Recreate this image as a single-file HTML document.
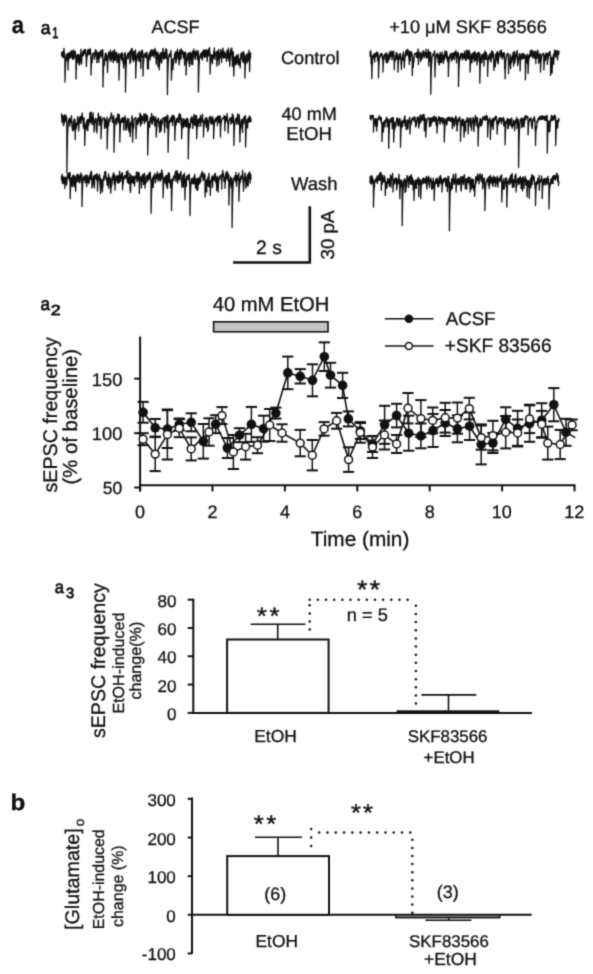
<!DOCTYPE html>
<html><head><meta charset="utf-8"><style>
html,body{margin:0;padding:0;background:#fff;}
svg{display:block;}
text{font-family:"Liberation Sans", sans-serif;text-rendering:geometricPrecision;}
</style></head><body>
<svg width="593" height="974" viewBox="0 0 593 974">
<defs><filter id="soft" x="0" y="0" width="593" height="974" filterUnits="userSpaceOnUse" color-interpolation-filters="sRGB"><feConvolveMatrix order="3" kernelMatrix="0.0169 0.1300 0.0169 0.1300 0.4124 0.1300 0.0169 0.1300 0.0169" divisor="1" preserveAlpha="false" edgeMode="none"/></filter></defs>
<rect width="593" height="974" fill="#fff"/>
<g filter="url(#soft)">
<polyline points="61.5,55.1 61.6,55.9 61.7,53.0 61.8,52.5 61.9,53.6 62.0,54.6 62.1,53.5 62.2,54.0 62.3,55.2 62.4,54.3 62.5,54.4 62.6,53.1 62.7,52.3 62.8,51.3 62.9,57.3 63.0,57.3 63.1,56.6 63.2,54.1 63.3,53.1 63.4,53.3 63.5,53.7 63.6,55.6 63.7,57.8 63.8,53.7 63.9,48.5 64.0,48.4 64.1,50.4 64.2,52.7 64.3,53.4 64.4,57.4 64.5,56.3 64.6,53.6 64.7,53.8 64.8,57.9 64.9,58.8 65.0,82.0 65.1,77.5 65.2,73.7 65.3,70.5 65.4,67.8 65.5,65.5 65.6,63.5 65.7,61.9 65.8,60.5 65.9,59.3 66.0,58.3 66.1,57.5 66.2,56.7 66.3,56.1 66.4,56.4 66.5,55.2 66.6,54.8 66.7,58.8 66.8,60.0 66.9,57.3 67.0,57.8 67.1,56.9 67.2,55.9 67.3,53.5 67.4,53.6 67.5,55.3 67.6,54.3 67.7,53.1 67.8,55.7 67.9,63.5 68.0,62.1 68.1,70.0 68.2,64.7 68.3,60.9 68.4,60.1 68.5,61.1 68.6,57.4 68.7,55.7 68.8,56.5 68.9,58.4 69.0,56.6 69.1,53.2 69.2,57.0 69.3,56.4 69.4,58.2 69.5,58.7 69.6,56.1 69.7,52.5 69.8,53.1 69.9,56.6 70.0,57.0 70.1,54.7 70.2,54.5 70.3,56.2 70.4,57.5 70.5,57.2 70.6,55.9 70.7,53.8 70.8,54.9 70.9,52.5 71.0,51.3 71.1,50.8 71.2,51.8 71.3,51.8 71.4,51.6 71.5,54.0 71.6,54.1 71.7,55.6 71.8,56.6 71.9,57.7 72.0,54.8 72.1,50.7 72.2,52.0 72.3,54.5 72.4,54.8 72.5,58.4 72.6,57.9 72.7,59.3 72.8,59.1 72.9,58.5 73.0,55.9 73.1,55.7 73.2,54.6 73.3,55.4 73.4,57.6 73.5,57.0 73.6,51.4 73.7,49.8 73.8,56.0 73.9,59.2 74.0,54.3 74.1,51.7 74.2,52.6 74.3,52.8 74.4,57.1 74.5,57.4 74.6,56.9 74.7,56.6 74.8,55.3 74.9,54.1 75.0,52.7 75.1,51.7 75.2,52.3 75.3,51.5 75.4,54.6 75.5,55.3 75.6,57.2 75.7,57.4 75.8,55.5 75.9,54.8 76.0,79.0 76.1,75.0 76.2,71.6 76.3,68.7 76.4,66.2 76.5,64.2 76.6,62.4 76.7,61.0 76.8,59.7 76.9,60.1 77.0,59.0 77.1,57.2 77.2,56.3 77.3,55.8 77.4,55.3 77.5,55.8 77.6,54.6 77.7,54.3 77.8,59.3 77.9,60.6 78.0,62.6 78.1,61.9 78.2,58.4 78.3,54.5 78.4,62.8 78.5,62.2 78.6,61.2 78.7,60.5 78.8,57.5 78.9,56.9 79.0,56.4 79.1,55.8 79.2,61.2 79.3,63.3 79.4,65.2 79.5,63.1 79.6,58.6 79.7,60.9 79.8,63.4 79.9,61.5 80.0,54.7 80.1,59.3 80.2,57.2 80.3,56.2 80.4,55.1 80.5,57.6 80.6,59.1 80.7,54.9 80.8,51.6 80.9,49.2 81.0,52.8 81.1,53.9 81.2,61.5 81.3,61.3 81.4,61.5 81.5,64.1 81.6,63.2 81.7,63.6 81.8,58.7 81.9,58.1 82.0,55.2 82.1,56.9 82.2,56.3 82.3,55.7 82.4,53.8 82.5,54.1 82.6,53.3 82.7,51.9 82.8,52.2 82.9,51.1 83.0,55.2 83.1,54.6 83.2,55.0 83.3,54.9 83.4,54.5 83.5,55.4 83.6,54.9 83.7,54.3 83.8,52.3 83.9,51.7 84.0,50.2 84.1,51.1 84.2,51.0 84.3,50.8 84.4,50.7 84.5,52.9 84.6,53.4 84.7,50.0 84.8,49.3 84.9,51.0 85.0,51.6 85.1,51.3 85.2,51.0 85.3,50.7 85.4,49.7 85.5,50.8 85.6,52.3 85.7,50.3 85.8,52.0 85.9,52.4 86.0,57.6 86.1,54.2 86.2,54.2 86.3,64.2 86.4,66.4 86.5,64.0 86.6,62.0 86.7,60.0 86.8,59.2 86.9,57.8 87.0,56.3 87.1,54.7 87.2,55.5 87.3,56.1 87.4,54.1 87.5,53.6 87.6,52.1 87.7,50.6 87.8,50.0 87.9,50.7 88.0,51.2 88.1,51.4 88.2,54.3 88.3,53.2 88.4,51.6 88.5,50.9 88.6,49.4 88.7,52.7 88.8,53.9 88.9,54.6 89.0,51.3 89.1,52.8 89.2,51.0 89.3,50.0 89.4,52.0 89.5,54.2 89.6,52.0 89.7,51.6 89.8,51.4 89.9,51.7 90.0,51.8 90.1,52.0 90.2,49.5 90.3,48.7 90.4,48.9 90.5,51.5 90.6,52.9 90.7,55.1 90.8,54.0 90.9,53.9 91.0,75.0 91.1,71.6 91.2,68.7 91.3,66.3 91.4,64.2 91.5,62.4 91.6,61.0 91.7,59.7 91.8,58.6 91.9,57.7 92.0,57.0 92.1,62.8 92.2,61.2 92.3,59.2 92.4,58.0 92.5,58.2 92.6,55.9 92.7,54.1 92.8,53.9 92.9,53.7 93.0,53.6 93.1,53.5 93.2,53.4 93.3,53.3 93.4,53.2 93.5,53.3 93.6,53.1 93.7,53.0 93.8,53.0 93.9,53.0 94.0,52.9 94.1,52.9 94.2,55.0 94.3,56.5 94.4,58.8 94.5,59.3 94.6,57.5 94.7,53.8 94.8,53.5 94.9,53.4 95.0,55.5 95.1,57.1 95.2,54.0 95.3,51.9 95.4,49.6 95.5,52.3 95.6,51.0 95.7,50.9 95.8,50.7 95.9,53.4 96.0,54.4 96.1,52.6 96.2,50.8 96.3,51.8 96.4,53.6 96.5,51.6 96.6,50.9 96.7,52.4 96.8,62.7 96.9,59.5 97.0,62.6 97.1,58.7 97.2,57.9 97.3,56.0 97.4,57.1 97.5,57.8 97.6,57.1 97.7,54.6 97.8,53.4 97.9,55.9 98.0,57.5 98.1,55.1 98.2,52.9 98.3,53.5 98.4,58.9 98.5,56.1 98.6,52.3 98.7,55.5 98.8,62.3 98.9,58.5 99.0,56.0 99.1,58.5 99.2,58.6 99.3,57.0 99.4,55.5 99.5,58.3 99.6,57.8 99.7,58.0 99.8,54.4 99.9,53.1 100.0,51.9 100.1,54.6 100.2,56.4 100.3,54.9 100.4,53.4 100.5,54.5 100.6,55.5 100.7,53.5 100.8,52.1 100.9,50.2 101.0,54.3 101.1,55.0 101.2,55.6 101.3,55.4 101.4,53.8 101.5,53.1 101.6,51.7 101.7,55.8 101.8,55.3 101.9,54.8 102.0,54.2 102.1,57.4 102.2,57.9 102.3,55.2 102.4,50.7 102.5,49.6 102.6,50.5 102.7,52.0 102.8,50.0 102.9,52.2 103.0,87.0 103.1,81.7 103.2,77.3 103.3,73.5 103.4,70.4 103.5,67.7 103.6,65.4 103.7,63.4 103.8,61.8 103.9,60.4 104.0,59.3 104.1,65.6 104.2,64.2 104.3,62.4 104.4,64.6 104.5,62.8 104.6,63.0 104.7,61.3 104.8,60.3 104.9,56.0 105.0,55.8 105.1,56.2 105.2,55.0 105.3,53.5 105.4,53.4 105.5,53.3 105.6,54.0 105.7,57.7 105.8,60.1 105.9,58.5 106.0,55.2 106.1,53.5 106.2,54.4 106.3,58.8 106.4,60.3 106.5,58.2 106.6,54.2 106.7,57.9 106.8,56.4 106.9,55.4 107.0,55.9 107.1,59.5 107.2,60.3 107.3,67.1 107.4,66.7 107.5,72.6 107.6,69.9 107.7,67.3 107.8,64.6 107.9,60.6 108.0,58.9 108.1,58.1 108.2,56.7 108.3,56.2 108.4,56.8 108.5,55.5 108.6,54.4 108.7,52.0 108.8,52.5 108.9,53.7 109.0,56.2 109.1,55.8 109.2,55.7 109.3,54.4 109.4,53.0 109.5,52.9 109.6,55.7 109.7,56.9 109.8,59.7 109.9,59.1 110.0,58.6 110.1,57.1 110.2,57.1 110.3,53.4 110.4,50.1 110.5,50.3 110.6,53.2 110.7,56.0 110.8,55.5 110.9,61.5 111.0,59.6 111.1,55.6 111.2,54.0 111.3,53.5 111.4,53.6 111.5,55.0 111.6,59.4 111.7,57.4 111.8,52.7 111.9,55.0 112.0,55.6 112.1,56.8 112.2,56.4 112.3,57.8 112.4,54.4 112.5,52.1 112.6,53.8 112.7,54.7 112.8,52.9 112.9,50.8 113.0,53.4 113.1,62.6 113.2,62.4 113.3,58.6 113.4,57.8 113.5,57.8 113.6,56.2 113.7,55.4 113.8,59.4 113.9,60.7 114.0,59.6 114.1,57.8 114.2,56.7 114.3,52.4 114.4,49.9 114.5,49.6 114.6,51.2 114.7,53.3 114.8,54.7 114.9,53.4 115.0,52.6 115.1,55.7 115.2,60.1 115.3,60.2 115.4,60.3 115.5,58.7 115.6,55.5 115.7,55.2 115.8,54.0 115.9,56.6 116.0,56.6 116.1,54.5 116.2,52.3 116.3,53.7 116.4,54.2 116.5,52.1 116.6,57.7 116.7,56.0 116.8,56.6 116.9,59.6 117.0,62.7 117.1,60.7 117.2,57.7 117.3,56.3 117.4,54.7 117.5,55.2 117.6,57.0 117.7,59.5 117.8,57.0 117.9,61.7 118.0,59.2 118.1,61.5 118.2,61.8 118.3,57.5 118.4,54.3 118.5,56.9 118.6,61.3 118.7,61.1 118.8,58.0 118.9,53.4 119.0,80.0 119.1,75.8 119.2,72.3 119.3,69.3 119.4,66.8 119.5,64.6 119.6,62.8 119.7,61.3 119.8,60.0 119.9,58.9 120.0,57.9 120.1,57.9 120.2,56.5 120.3,55.9 120.4,55.4 120.5,55.0 120.6,54.7 120.7,54.4 120.8,54.2 120.9,53.9 121.0,53.8 121.1,55.5 121.2,57.5 121.3,55.2 121.4,53.3 121.5,53.2 121.6,57.6 121.7,60.0 121.8,58.5 121.9,58.3 122.0,58.4 122.1,56.4 122.2,52.9 122.3,52.9 122.4,54.0 122.5,55.3 122.6,54.2 122.7,53.8 122.8,54.2 122.9,55.1 123.0,63.1 123.1,62.4 123.2,61.7 123.3,62.0 123.4,62.7 123.5,62.9 123.6,68.0 123.7,62.2 123.8,58.8 123.9,58.6 124.0,58.6 124.1,62.8 124.2,64.6 124.3,64.0 124.4,58.6 124.5,57.9 124.6,55.9 124.7,54.0 124.8,53.5 124.9,55.0 125.0,54.0 125.1,52.5 125.2,54.2 125.3,55.5 125.4,56.3 125.5,92.0 125.6,86.0 125.7,80.9 125.8,76.6 125.9,72.9 126.0,69.8 126.1,67.2 126.2,65.0 126.3,63.1 126.4,61.5 126.5,60.2 126.6,59.1 126.7,58.1 126.8,57.3 126.9,56.6 127.0,56.0 127.1,55.5 127.2,55.1 127.3,54.7 127.4,54.4 127.5,54.2 127.6,54.0 127.7,53.8 127.8,53.6 127.9,53.5 128.0,53.5 128.1,57.9 128.2,58.6 128.3,56.2 128.4,53.1 128.5,53.1 128.6,53.0 128.7,53.0 128.8,53.0 128.9,53.5 129.0,54.7 129.1,54.4 129.2,53.3 129.3,54.2 129.4,52.5 129.5,53.5 129.6,52.0 129.7,54.5 129.8,55.4 129.9,63.7 130.0,59.8 130.1,56.8 130.2,55.6 130.3,53.4 130.4,50.8 130.5,57.6 130.6,60.5 130.7,62.0 130.8,59.0 130.9,57.7 131.0,54.9 131.1,52.7 131.2,49.4 131.3,49.3 131.4,50.5 131.5,51.6 131.6,48.6 131.7,48.5 131.8,48.5 131.9,50.7 132.0,52.6 132.1,51.8 132.2,48.6 132.3,51.1 132.4,52.5 132.5,56.9 132.6,57.6 132.7,59.7 132.8,55.4 132.9,52.8 133.0,51.4 133.1,51.8 133.2,52.2 133.3,58.3 133.4,59.2 133.5,61.8 133.6,60.4 133.7,59.1 133.8,55.6 133.9,53.9 134.0,51.7 134.1,51.3 134.2,53.2 134.3,56.2 134.4,59.6 134.5,58.1 134.6,56.2 134.7,53.4 134.8,51.7 134.9,51.6 135.0,53.1 135.1,53.0 135.2,52.6 135.3,50.8 135.4,50.9 135.5,50.0 135.6,51.3 135.7,78.0 135.8,74.1 135.9,70.9 136.0,68.1 136.1,65.7 136.2,63.7 136.3,62.1 136.4,60.6 136.5,59.4 136.6,58.4 136.7,57.6 136.8,56.8 136.9,56.2 137.0,55.7 137.1,55.2 137.2,54.9 137.3,54.5 137.4,54.3 137.5,54.1 137.6,53.9 137.7,53.7 137.8,53.6 137.9,53.4 138.0,53.3 138.1,60.7 138.2,57.8 138.3,53.1 138.4,53.1 138.5,54.5 138.6,55.8 138.7,53.0 138.8,57.4 138.9,55.6 139.0,55.3 139.1,52.9 139.2,52.9 139.3,51.2 139.4,51.8 139.5,54.1 139.6,61.5 139.7,61.3 139.8,57.7 139.9,55.8 140.0,52.4 140.1,53.7 140.2,55.2 140.3,59.1 140.4,56.1 140.5,54.2 140.6,52.4 140.7,55.9 140.8,68.5 140.9,66.3 141.0,59.9 141.1,54.4 141.2,55.6 141.3,57.3 141.4,57.5 141.5,54.9 141.6,51.7 141.7,50.2 141.8,50.1 141.9,54.3 142.0,56.6 142.1,53.3 142.2,52.9 142.3,55.8 142.4,55.9 142.5,53.2 142.6,51.0 142.7,52.6 142.8,52.8 142.9,52.9 143.0,76.0 143.1,72.4 143.2,69.4 143.3,66.9 143.4,64.7 143.5,62.9 143.6,61.3 143.7,60.0 143.8,58.9 143.9,58.0 144.0,57.2 144.1,56.5 144.2,55.9 144.3,55.5 144.4,55.0 144.5,54.7 144.6,54.4 144.7,54.2 144.8,56.5 144.9,53.8 145.0,53.6 145.1,53.5 145.2,53.4 145.3,53.3 145.4,53.2 145.5,53.2 145.6,53.1 145.7,55.3 145.8,54.6 145.9,56.8 146.0,57.8 146.1,54.4 146.2,52.9 146.3,52.9 146.4,52.9 146.5,52.9 146.6,54.4 146.7,57.2 146.8,55.7 146.9,53.9 147.0,52.4 147.1,54.9 147.2,57.5 147.3,62.1 147.4,68.6 147.5,66.8 147.6,63.8 147.7,57.4 147.8,62.4 147.9,62.5 148.0,59.3 148.1,58.8 148.2,58.4 148.3,60.4 148.4,69.2 148.5,65.3 148.6,58.9 148.7,55.0 148.8,55.7 148.9,56.6 149.0,57.5 149.1,55.4 149.2,54.9 149.3,56.7 149.4,56.1 149.5,53.5 149.6,52.3 149.7,53.7 149.8,53.4 149.9,55.5 150.0,58.7 150.1,59.9 150.2,55.6 150.3,56.2 150.4,56.9 150.5,56.2 150.6,51.8 150.7,50.9 150.8,54.4 150.9,56.6 151.0,56.5 151.1,50.4 151.2,50.1 151.3,49.9 151.4,50.4 151.5,50.2 151.6,51.1 151.7,53.0 151.8,54.7 151.9,53.4 152.0,55.4 152.1,52.0 152.2,52.8 152.3,54.1 152.4,54.3 152.5,55.6 152.6,55.0 152.7,53.9 152.8,51.0 152.9,52.6 153.0,52.6 153.1,51.8 153.2,49.6 153.3,52.1 153.4,53.4 153.5,54.3 153.6,53.6 153.7,52.3 153.8,51.3 153.9,52.6 154.0,55.6 154.1,57.4 154.2,55.5 154.3,54.0 154.4,51.3 154.5,51.4 154.6,51.8 154.7,51.0 154.8,49.8 154.9,48.5 155.0,49.3 155.1,51.3 155.2,54.6 155.3,52.0 155.4,51.4 155.5,51.6 155.6,51.7 155.7,50.3 155.8,51.9 155.9,55.1 156.0,59.2 156.1,59.0 156.2,64.1 156.4,61.8 156.5,56.2 156.6,52.6 156.7,53.0 156.8,54.8 156.9,55.9 157.0,56.8 157.1,57.3 157.2,58.5 157.3,56.4 157.4,56.1 157.5,53.3 157.6,52.8 157.7,52.1 157.8,52.4 157.9,61.7 158.0,66.5 158.1,64.5 158.2,61.3 158.3,60.7 158.4,59.2 158.5,57.7 158.6,57.5 158.7,56.3 158.8,55.0 158.9,54.8 159.0,58.0 159.1,66.7 159.2,69.5 159.3,69.8 159.4,66.5 159.5,61.7 159.6,56.9 159.7,58.4 159.8,59.6 159.9,61.9 160.0,61.8 160.1,60.3 160.2,56.2 160.3,53.1 160.4,55.5 160.5,59.7 160.6,61.2 160.7,56.7 160.8,54.1 160.9,52.8 161.0,52.6 161.1,58.4 161.2,56.7 161.3,56.5 161.4,63.1 161.5,62.4 161.6,63.1 161.7,61.9 161.8,61.4 161.9,56.2 162.0,52.8 162.1,53.9 162.2,56.1 162.3,55.4 162.4,54.1 162.5,54.5 162.6,54.9 162.7,52.6 162.8,50.3 162.9,48.6 163.0,48.4 163.1,49.1 163.2,50.8 163.3,58.2 163.4,56.1 163.5,58.6 163.6,59.1 163.7,58.7 163.8,54.9 163.9,54.5 164.0,53.1 164.1,56.1 164.2,56.6 164.3,58.2 164.4,58.7 164.5,56.0 164.6,52.7 164.7,53.8 164.8,55.5 164.9,56.2 165.0,54.4 165.1,57.1 165.2,54.5 165.3,51.4 165.4,52.6 165.5,53.4 165.6,50.7 165.7,49.9 165.8,48.7 165.9,53.2 166.0,54.4 166.1,58.6 166.2,55.7 166.3,55.0 166.4,53.7 166.5,52.6 166.6,49.8 166.7,49.7 166.8,51.2 166.9,53.7 167.0,56.2 167.1,53.5 167.2,57.2 167.3,59.8 167.4,94.6 167.5,88.2 167.6,82.7 167.7,78.1 167.8,74.3 167.9,71.0 168.0,68.2 168.1,65.8 168.2,63.8 168.3,62.1 168.4,60.7 168.5,59.5 168.6,58.5 168.7,57.6 168.8,56.8 168.9,56.2 169.0,55.7 169.1,55.3 169.2,54.9 169.3,54.6 169.4,55.6 169.5,55.2 169.6,53.9 169.7,53.7 169.8,53.6 169.9,53.4 170.0,54.2 170.1,56.4 170.2,54.1 170.3,53.1 170.4,53.1 170.5,53.5 170.6,53.0 170.7,53.0 170.8,52.9 170.9,52.9 171.0,50.3 171.1,56.9 171.2,57.5 171.3,57.7 171.4,80.0 171.5,75.8 171.6,72.3 171.7,69.3 171.8,66.8 171.9,64.6 172.0,68.0 172.1,67.0 172.2,62.6 172.3,61.2 172.4,59.1 172.5,62.6 172.6,64.3 172.7,61.7 172.8,64.8 172.9,69.8 173.0,66.5 173.1,63.5 173.2,62.9 173.3,64.2 173.4,65.0 173.5,63.4 173.6,62.2 173.7,62.7 173.8,61.0 173.9,58.1 174.0,58.0 174.1,58.5 174.2,59.5 174.3,57.2 174.4,56.2 174.5,54.2 174.6,54.0 174.7,55.0 174.8,56.9 174.9,57.6 175.0,57.1 175.1,58.7 175.2,57.4 175.3,53.6 175.4,51.8 175.5,52.6 175.6,53.1 175.7,53.0 175.8,62.0 175.9,63.0 176.0,60.6 176.1,59.3 176.2,58.5 176.3,61.3 176.4,60.1 176.5,58.0 176.6,55.8 176.7,54.4 176.8,51.3 176.9,53.3 177.0,54.5 177.1,55.5 177.2,52.5 177.3,53.0 177.4,49.9 177.5,49.2 177.6,51.4 177.7,52.7 177.8,53.5 177.9,53.7 178.0,58.8 178.1,58.0 178.2,58.1 178.3,57.2 178.4,57.3 178.5,52.4 178.6,52.6 178.7,52.6 178.8,59.0 178.9,57.3 179.0,64.9 179.1,62.8 179.2,59.0 179.3,56.6 179.4,58.4 179.5,62.5 179.6,60.2 179.7,57.0 179.8,51.0 179.9,51.4 180.0,49.9 180.1,55.3 180.2,57.0 180.3,56.5 180.4,52.5 180.5,51.7 180.6,52.7 180.7,53.3 180.8,54.9 180.9,57.4 181.0,59.2 181.1,55.8 181.2,50.7 181.3,48.8 181.4,51.9 181.5,54.2 181.6,53.7 181.7,52.4 181.8,51.5 181.9,50.3 182.0,50.8 182.1,52.8 182.2,53.3 182.3,53.0 182.4,52.9 182.5,52.3 182.6,51.3 182.7,52.8 182.8,54.3 182.9,53.0 183.0,51.5 183.1,52.5 183.2,57.5 183.3,56.8 183.4,54.7 183.5,52.5 183.6,54.9 183.7,55.7 183.8,58.2 183.9,58.2 184.0,56.2 184.1,52.7 184.2,52.5 184.3,54.2 184.4,58.8 184.5,65.0 184.6,63.0 184.7,57.7 184.8,54.1 184.9,52.5 185.0,52.4 185.1,55.3 185.2,55.9 185.3,56.2 185.4,55.0 185.5,53.6 185.6,52.2 185.7,54.2 185.8,55.4 185.9,54.0 186.0,53.9 186.1,75.0 186.2,71.6 186.3,68.7 186.4,66.3 186.5,64.2 186.6,62.4 186.7,61.0 186.8,59.7 186.9,58.6 187.0,57.7 187.1,57.4 187.2,59.8 187.3,60.6 187.4,60.5 187.5,60.4 187.6,57.3 187.7,54.3 187.8,54.1 187.9,53.9 188.0,53.7 188.1,54.7 188.2,55.0 188.3,53.8 188.4,55.0 188.5,54.6 188.6,55.0 188.7,53.1 188.8,53.0 188.9,56.9 189.0,63.4 189.1,60.0 189.2,57.8 189.3,61.0 189.4,59.1 189.5,66.4 189.6,65.8 189.7,60.8 189.8,57.4 189.9,56.3 190.0,53.1 190.1,52.2 190.2,55.4 190.3,59.6 190.4,57.0 190.5,55.0 190.6,52.9 190.7,55.1 190.8,57.3 190.9,59.3 191.0,53.4 191.1,59.8 191.2,60.2 191.3,64.2 191.4,62.9 191.5,59.5 191.6,55.9 191.7,55.0 191.8,55.7 191.9,56.2 192.0,54.4 192.1,56.0 192.2,54.6 192.3,53.5 192.4,51.1 192.5,53.5 192.6,56.6 192.7,64.8 192.8,63.4 192.9,58.0 193.0,57.6 193.1,58.6 193.2,59.4 193.3,55.4 193.4,54.0 193.5,54.2 193.6,54.9 193.7,54.6 193.8,50.4 193.9,49.0 194.0,50.9 194.1,55.1 194.2,54.9 194.3,54.4 194.4,55.5 194.5,55.2 194.6,56.0 194.7,52.4 194.8,57.7 194.9,53.8 195.0,52.5 195.1,51.5 195.2,52.9 195.3,58.3 195.4,59.5 195.5,59.2 195.6,58.2 195.7,56.2 195.8,53.3 195.9,53.0 196.0,54.5 196.1,52.4 196.2,52.8 196.3,52.3 196.4,54.9 196.5,51.9 196.6,51.0 196.7,50.5 196.8,53.8 196.9,52.9 197.0,54.3 197.1,55.2 197.2,55.6 197.3,54.4 197.4,54.7 197.5,56.8 197.6,59.1 197.7,59.7 197.8,57.3 197.9,52.4 198.0,52.2 198.1,53.8 198.2,53.0 198.3,51.0 198.4,92.0 198.5,86.0 198.6,80.9 198.7,76.6 198.8,72.9 198.9,69.8 199.0,67.2 199.1,65.0 199.2,63.1 199.3,61.5 199.4,60.2 199.5,59.1 199.6,58.1 199.7,57.3 199.8,56.6 199.9,56.0 200.0,55.5 200.1,55.1 200.2,57.9 200.3,54.9 200.4,54.2 200.5,54.0 200.6,53.8 200.7,53.6 200.8,53.5 200.9,53.4 201.0,53.3 201.1,53.2 201.2,53.2 201.3,53.1 201.4,55.4 201.5,55.2 201.6,53.0 201.7,58.0 201.8,55.6 201.9,54.8 202.0,56.5 202.1,55.7 202.2,53.4 202.3,59.1 202.4,60.0 202.5,54.6 202.6,51.5 202.7,52.4 202.8,53.3 202.9,51.9 203.0,53.0 203.1,53.0 203.2,53.3 203.3,53.9 203.4,55.6 203.5,54.7 203.6,52.4 203.7,50.0 203.8,51.0 203.9,52.5 204.0,54.6 204.1,54.8 204.2,57.6 204.3,57.6 204.4,57.2 204.5,52.9 204.6,50.6 204.7,56.6 204.8,55.7 204.9,56.4 205.0,55.1 205.1,55.2 205.2,51.4 205.3,50.1 205.4,49.8 205.5,52.4 205.6,51.3 205.7,51.0 205.8,53.0 205.9,56.9 206.0,55.4 206.1,52.4 206.2,50.1 206.3,51.3 206.4,54.8 206.5,56.3 206.6,51.8 206.7,49.9 206.8,52.0 206.9,51.0 207.0,54.1 207.1,55.8 207.2,61.5 207.3,60.8 207.4,57.3 207.5,57.3 207.6,55.0 207.7,52.1 207.8,51.2 207.9,51.9 208.0,52.6 208.1,50.2 208.2,51.0 208.3,52.7 208.4,55.8 208.5,54.4 208.6,55.6 208.7,54.6 208.8,51.7 208.9,48.5 209.0,49.2 209.1,49.4 209.2,50.5 209.3,50.6 209.4,49.8 209.5,47.6 209.6,49.8 209.7,52.5 209.8,53.9 209.9,52.1 210.0,52.1 210.1,74.0 210.2,70.7 210.3,68.0 210.4,65.7 210.5,63.7 210.6,62.0 210.7,60.6 210.8,59.4 210.9,58.4 211.0,57.5 211.1,56.8 211.2,56.2 211.3,55.7 211.4,55.2 211.5,54.9 211.6,56.0 211.7,59.0 211.8,59.1 211.9,59.1 212.0,61.3 212.1,54.6 212.2,58.7 212.3,62.2 212.4,63.6 212.5,63.4 212.6,59.4 212.7,57.9 212.8,57.0 212.9,56.1 213.0,55.5 213.1,56.4 213.2,56.7 213.3,56.3 213.4,57.6 213.5,58.2 213.6,55.6 213.7,52.4 213.8,51.4 213.9,51.4 214.0,51.5 214.1,51.6 214.2,50.5 214.3,48.9 214.4,47.8 214.5,54.2 214.6,54.6 214.7,53.8 214.8,55.1 214.9,59.4 215.0,58.7 215.1,55.8 215.2,53.6 215.3,56.2 215.4,55.2 215.5,55.0 215.6,54.8 215.7,55.0 215.8,55.6 215.9,53.1 216.0,53.5 216.1,51.8 216.2,52.3 216.3,52.2 216.4,52.6 216.5,51.3 216.6,51.7 216.7,53.7 216.8,65.9 216.9,66.0 217.0,61.9 217.1,59.7 217.2,60.2 217.3,60.9 217.4,59.0 217.5,59.6 217.6,59.4 217.7,54.4 217.8,51.5 217.9,55.9 218.0,59.9 218.1,56.9 218.2,51.8 218.3,50.5 218.4,51.0 218.5,51.5 218.6,49.7 218.7,49.4 218.8,52.0 218.9,56.0 219.0,62.6 219.1,64.9 219.2,62.1 219.3,58.5 219.4,54.1 219.5,54.3 219.6,55.8 219.7,56.9 219.8,57.1 219.9,57.6 220.0,58.2 220.1,55.5 220.2,53.1 220.3,53.9 220.4,54.1 220.5,52.9 220.6,51.0 220.7,51.8 220.8,50.8 220.9,49.3 221.0,52.3 221.1,57.4 221.2,57.5 221.3,52.4 221.4,52.3 221.5,53.2 221.6,62.4 221.7,59.6 221.8,58.0 221.9,56.3 222.0,55.7 222.1,52.4 222.2,51.2 222.3,52.5 222.4,56.0 222.5,54.2 222.6,53.4 222.7,53.4 222.8,52.2 222.9,48.2 223.0,48.2 223.1,50.1 223.2,53.3 223.3,56.9 223.4,58.0 223.5,53.8 223.6,50.9 223.7,52.6 223.8,52.3 223.9,53.2 224.0,54.9 224.1,57.6 224.2,54.6 224.3,53.9 224.4,54.9 224.5,53.9 224.6,54.6 224.7,54.5 224.8,55.8 224.9,52.1 225.0,52.6 225.1,54.4 225.2,54.3 225.3,57.9 225.4,54.9 225.5,54.1 225.6,54.2 225.7,54.2 225.8,55.4 225.9,57.9 226.0,56.8 226.1,55.9 226.2,53.9 226.3,56.6 226.4,60.8 226.5,61.3 226.6,61.1 226.7,61.1 226.8,56.3 226.9,51.7 227.0,50.6 227.1,50.2 227.2,51.2 227.3,54.4 227.4,57.5 227.5,58.1 227.6,55.3 227.7,52.8 227.8,52.0 227.9,52.9 228.0,54.2 228.1,54.7 228.2,54.3 228.3,51.2 228.4,48.7 228.5,48.2 228.6,52.6 228.7,54.8 228.8,60.4 228.9,59.9 229.0,61.0 229.1,58.2 229.2,54.9 229.3,52.9 229.4,53.2 229.5,55.4 229.6,58.1 229.7,66.3 229.8,63.5 229.9,64.1 230.0,61.3 230.1,58.1 230.2,55.8 230.3,58.5 230.4,54.3 230.5,51.1 230.6,50.0 230.7,51.6 230.8,52.8 230.9,54.1 231.0,54.7 231.1,51.1 231.2,48.8 231.3,48.2 231.4,50.7 231.5,51.4 231.6,49.4 231.7,48.1 231.8,48.1 231.9,52.6 232.0,59.9 232.1,60.2 232.2,57.8 232.3,56.8 232.4,66.2 232.5,63.2 232.6,57.2 232.7,53.8 232.8,51.4 232.9,52.2 233.0,54.1 233.1,54.0 233.2,52.3 233.3,52.2 233.4,56.6 233.5,59.2 233.6,67.3 233.7,63.0 233.8,76.0 233.9,72.4 234.0,69.4 234.1,66.9 234.2,64.7 234.3,62.9 234.4,61.3 234.5,60.0 234.6,58.9 234.7,58.0 234.8,57.5 234.9,59.0 235.0,64.5 235.1,60.0 235.2,57.7 235.3,56.5 235.4,56.6 235.5,56.6 235.6,58.6 235.7,60.3 235.8,57.9 235.9,58.4 236.0,64.7 236.1,62.2 236.2,57.9 236.3,57.4 236.4,56.3 236.5,56.0 236.6,55.2 236.7,60.5 236.8,60.0 236.9,61.3 237.0,62.0 237.1,59.4 237.2,57.7 237.3,62.9 237.4,62.3 237.5,58.8 237.6,58.2 237.7,58.3 237.8,62.2 237.9,62.5 238.0,59.9 238.1,54.4 238.2,54.5 238.3,55.4 238.4,65.1 238.5,61.7 238.6,64.2 238.7,63.2 238.8,64.0 238.9,62.6 239.0,61.0 239.1,64.5 239.2,63.4 239.3,63.8 239.4,61.1 239.5,59.3 239.6,63.7 239.7,64.6 239.8,63.4 239.9,59.3 240.0,60.3 240.1,58.1 240.2,67.9 240.3,65.9 240.4,64.2 240.5,61.0 240.6,58.6 240.7,56.4 240.8,53.9 240.9,53.9 241.0,53.8 241.1,54.8 241.2,55.8 241.3,58.0 241.4,56.2 241.5,54.7 241.6,54.1 241.7,56.6 241.8,55.8 241.9,54.0 242.0,52.2 242.1,59.6 242.2,57.9 242.3,56.1 242.4,56.6 242.5,56.8 242.6,57.8 242.7,59.7 242.8,61.7 242.9,57.9 243.0,54.1 243.1,53.9 243.2,57.3 243.3,53.5 243.4,52.8 243.5,51.7 243.6,54.7 243.7,59.9 243.8,62.8 243.9,62.1 244.0,55.9 244.1,53.0 244.2,55.6 244.3,57.0 244.4,56.7 244.5,57.2 244.6,55.3 244.7,59.3 244.8,57.2 244.9,78.0 245.0,74.1 245.1,70.9 245.2,68.1 245.3,65.7 245.4,63.7 245.5,62.1 245.6,60.6 245.7,59.4 245.8,58.4 245.9,57.6 246.0,56.8 246.1,56.2 246.2,55.7 246.3,56.0 246.4,56.2 246.5,55.4 246.6,54.3 246.7,54.1 246.8,56.0 246.9,57.5 247.0,63.2 247.1,58.8 247.2,57.6 247.3,59.7 247.4,59.8 247.5,59.7 247.6,55.6 247.7,55.1 247.8,58.3 247.9,61.3 248.0,59.2 248.1,55.6 248.2,53.2 248.3,52.9 248.4,52.9 248.5,52.4 248.6,52.1 248.7,52.2 248.8,52.6 248.9,51.8 249.0,51.9 249.1,50.2 249.2,53.7 249.3,58.6 249.4,60.1 249.5,65.2 249.6,71.6 249.7,68.9 249.8,63.9 249.9,60.1 250.0,58.5 250.1,57.9 250.2,57.4 250.3,57.5 250.4,58.2 250.5,55.7 250.6,53.6 250.7,53.0 250.8,54.0 250.9,52.8 251.0,53.1" fill="none" stroke="#111" stroke-width="1.3" stroke-linejoin="round"/>
<polyline points="61.5,117.5 61.6,116.7 61.7,113.8 61.8,115.7 61.9,119.4 62.0,122.3 62.1,120.0 62.2,119.3 62.3,118.7 62.4,118.6 62.5,118.4 62.6,118.1 62.7,116.0 62.8,116.7 62.9,117.5 63.0,119.1 63.1,117.8 63.2,117.6 63.3,116.3 63.4,125.6 63.5,125.2 63.6,125.7 63.7,124.2 63.8,121.8 63.9,121.1 64.0,123.9 64.1,123.1 64.2,117.8 64.3,114.9 64.4,116.1 64.5,118.8 64.6,122.1 64.7,122.2 64.8,122.0 64.9,120.4 65.0,119.0 65.1,119.7 65.2,118.1 65.3,117.0 65.4,116.5 65.5,120.7 65.6,120.9 65.7,117.7 65.8,114.9 65.9,117.1 66.0,118.8 66.1,121.0 66.2,117.6 66.3,118.0 66.4,119.0 66.5,119.6 66.6,117.2 66.7,118.0 66.8,120.8 66.9,173.0 67.0,164.5 67.1,157.3 67.2,151.2 67.3,146.0 67.4,141.7 67.5,138.0 67.6,134.8 67.7,132.2 67.8,130.0 67.9,128.1 68.0,126.4 68.1,125.1 68.2,123.9 68.3,123.0 68.4,122.3 68.5,121.4 68.6,120.9 68.7,120.4 68.8,119.9 68.9,119.6 69.0,119.3 69.1,119.0 69.2,120.9 69.3,122.1 69.4,119.1 69.5,118.3 69.6,118.2 69.7,118.8 69.8,126.1 69.9,123.2 70.0,121.3 70.1,121.1 70.2,122.4 70.3,122.3 70.4,122.6 70.5,120.7 70.6,120.8 70.7,122.3 70.8,121.3 70.9,120.6 71.0,120.4 71.1,119.1 71.2,117.8 71.3,117.0 71.4,115.7 71.5,115.6 71.6,117.3 71.7,120.7 71.8,122.2 71.9,125.0 72.0,125.0 72.1,127.4 72.2,128.1 72.3,126.0 72.4,125.6 72.5,130.8 72.6,130.0 72.7,125.7 72.8,125.7 72.9,125.1 73.0,124.9 73.1,124.7 73.2,126.7 73.3,127.2 73.4,122.6 73.5,120.9 73.6,130.1 73.7,129.8 73.8,129.9 73.9,127.7 74.0,124.2 74.1,121.7 74.2,120.1 74.3,119.0 74.4,119.2 74.5,121.2 74.6,124.0 74.7,122.9 74.8,121.3 74.9,119.3 75.0,122.7 75.1,122.9 75.2,139.7 75.3,133.7 75.4,130.6 75.5,128.8 75.6,128.4 75.7,128.3 75.8,125.5 75.9,125.0 76.0,123.6 76.1,126.4 76.2,125.6 76.3,127.0 76.4,128.3 76.5,126.9 76.6,124.3 76.7,123.8 76.8,122.6 76.9,122.7 77.0,122.8 77.1,123.5 77.2,124.7 77.3,123.7 77.4,120.1 77.5,117.6 77.6,117.4 77.7,116.5 77.8,117.3 77.9,118.1 78.0,119.7 78.1,119.9 78.2,121.7 78.3,122.1 78.4,125.6 78.5,123.8 78.6,131.0 78.7,128.9 78.8,127.5 78.9,127.2 79.0,124.1 79.1,121.1 79.2,119.0 79.3,121.2 79.4,122.7 79.5,122.3 79.6,118.5 79.7,117.4 79.8,118.4 79.9,121.3 80.0,122.9 80.1,122.3 80.2,120.2 80.3,116.9 80.4,116.4 80.5,117.5 80.6,120.2 80.7,118.1 80.8,117.5 80.9,121.1 81.0,123.1 81.1,119.7 81.2,118.2 81.3,116.7 81.4,117.2 81.5,115.8 81.6,118.8 81.7,117.6 81.8,119.5 81.9,119.6 82.0,117.7 82.1,113.2 82.2,112.9 82.3,116.4 82.4,120.0 82.5,119.9 82.6,117.6 82.7,118.3 82.8,119.3 82.9,119.8 83.0,117.3 83.1,117.7 83.2,126.2 83.3,124.9 83.4,124.5 83.5,128.1 83.6,127.6 83.7,120.5 83.8,119.2 83.9,120.7 84.0,121.9 84.1,118.0 84.2,125.0 84.3,124.9 84.4,124.7 84.5,126.4 84.6,129.4 84.7,145.5 84.8,141.2 84.9,137.6 85.0,134.5 85.1,131.9 85.2,129.7 85.3,127.9 85.4,126.3 85.5,124.9 85.6,125.5 85.7,126.4 85.8,125.8 85.9,123.8 86.0,128.3 86.1,123.6 86.2,122.4 86.3,123.9 86.4,125.3 86.5,125.3 86.6,125.2 86.7,123.0 86.8,120.7 86.9,128.4 87.0,128.4 87.1,130.2 87.2,128.8 87.3,123.0 87.4,120.8 87.5,119.4 87.6,119.4 87.7,122.4 87.8,130.7 87.9,127.3 88.0,126.1 88.1,123.7 88.2,121.3 88.3,119.7 88.4,119.5 88.5,120.1 88.6,120.7 88.7,123.2 88.8,125.0 88.9,123.6 89.0,121.5 89.1,119.3 89.2,120.9 89.3,121.4 89.4,119.7 89.5,117.7 89.6,118.7 89.7,116.9 89.8,113.8 89.9,112.9 90.0,113.8 90.1,112.8 90.2,112.6 90.3,115.2 90.4,117.2 90.5,122.5 90.6,122.2 90.7,122.0 90.8,118.9 90.9,119.3 91.0,116.2 91.1,113.4 91.2,112.2 91.3,114.5 91.4,119.6 91.5,122.1 91.6,121.2 91.7,117.5 91.8,122.9 91.9,124.7 92.0,124.6 92.1,120.8 92.2,117.7 92.3,119.3 92.4,120.9 92.5,121.4 92.6,119.4 92.7,119.5 92.8,118.9 92.9,116.3 93.0,113.9 93.1,112.8 93.2,114.0 93.3,119.1 93.4,119.9 93.5,117.4 93.6,124.6 93.7,124.3 93.8,122.7 93.9,125.7 94.0,132.0 94.1,129.8 94.2,127.9 94.3,126.3 94.4,125.0 94.5,123.9 94.6,122.9 94.7,122.1 94.8,121.4 94.9,120.8 95.0,120.3 95.1,119.9 95.2,119.5 95.3,120.0 95.4,122.1 95.5,121.4 95.6,118.6 95.7,118.4 95.8,118.4 95.9,119.7 96.0,122.3 96.1,121.3 96.2,123.2 96.3,130.7 96.4,130.8 96.5,126.3 96.6,125.0 96.7,123.1 96.8,122.8 96.9,123.6 97.0,132.9 97.1,128.5 97.2,125.1 97.3,121.4 97.4,120.2 97.5,118.8 97.6,119.3 97.7,118.4 97.8,118.8 97.9,120.3 98.0,119.3 98.1,118.8 98.2,115.7 98.3,113.5 98.4,113.1 98.5,115.1 98.6,118.1 98.7,116.4 98.8,115.5 98.9,115.7 99.0,119.5 99.1,125.4 99.2,124.6 99.3,121.2 99.4,120.0 99.5,118.8 99.6,120.2 99.7,119.4 99.8,118.0 99.9,117.7 100.0,121.7 100.1,124.0 100.2,122.7 100.3,119.3 100.4,119.9 100.5,120.8 100.6,123.6 100.7,122.9 100.8,119.9 100.9,116.3 101.0,138.7 101.1,135.5 101.2,132.7 101.3,130.4 101.4,128.4 101.5,126.8 101.6,125.4 101.7,124.2 101.8,123.2 101.9,122.3 102.0,121.6 102.1,121.0 102.2,120.5 102.3,120.0 102.4,119.6 102.5,119.3 102.6,119.1 102.7,119.4 102.8,118.6 102.9,118.5 103.0,118.4 103.1,118.2 103.2,118.1 103.3,118.1 103.4,118.0 103.5,117.9 103.6,117.9 103.7,117.8 103.8,117.8 103.9,117.8 104.0,117.7 104.1,117.7 104.2,117.7 104.3,120.8 104.4,121.4 104.5,128.4 104.6,123.1 104.7,122.4 104.8,123.1 104.9,123.0 105.0,124.2 105.1,124.3 105.2,123.0 105.3,121.1 105.4,119.2 105.5,123.7 105.6,123.0 105.7,125.0 105.8,127.0 105.9,123.5 106.0,125.1 106.1,123.9 106.2,121.9 106.3,120.2 106.4,123.7 106.5,125.7 106.6,128.0 106.7,124.7 106.8,121.0 106.9,119.9 107.0,117.9 107.1,117.2 107.2,148.8 107.3,144.0 107.4,140.0 107.5,136.5 107.6,133.6 107.7,131.2 107.8,129.1 107.9,127.3 108.0,125.8 108.1,124.6 108.2,123.5 108.3,122.6 108.4,121.8 108.5,121.2 108.6,125.6 108.7,124.2 108.8,123.2 108.9,119.4 109.0,119.2 109.1,119.2 109.2,118.8 109.3,118.5 109.4,118.4 109.5,118.3 109.6,119.0 109.7,120.5 109.8,121.7 109.9,121.1 110.0,118.7 110.1,117.8 110.2,117.8 110.3,117.8 110.4,117.8 110.5,117.7 110.6,117.7 110.7,117.7 110.8,116.0 110.9,115.9 111.0,115.0 111.1,116.6 111.2,115.0 111.3,112.9 111.4,113.1 111.5,115.9 111.6,116.0 111.7,115.0 111.8,117.0 111.9,118.6 112.0,119.5 112.1,119.2 112.2,119.3 112.3,118.2 112.4,122.1 112.5,121.0 112.6,118.6 112.7,119.4 112.8,120.0 112.9,119.8 113.0,117.1 113.1,119.1 113.2,122.2 113.3,122.9 113.4,118.6 113.5,115.6 113.6,115.6 113.7,117.3 113.8,117.3 113.9,117.6 114.0,152.2 114.1,146.9 114.2,142.4 114.3,138.6 114.4,135.4 114.5,132.6 114.6,130.3 114.7,128.4 114.8,126.7 114.9,125.3 115.0,124.1 115.1,123.1 115.2,122.3 115.3,121.6 115.4,121.0 115.5,120.4 115.6,120.0 115.7,119.6 115.8,119.3 115.9,119.1 116.0,118.8 116.1,118.6 116.2,118.5 116.3,118.3 116.4,118.9 116.5,120.1 116.6,123.5 116.7,124.3 116.8,120.5 116.9,117.9 117.0,117.8 117.1,118.4 117.2,117.8 117.3,117.7 117.4,117.7 117.5,117.7 117.6,114.6 117.7,113.9 117.8,114.9 117.9,118.7 118.0,119.9 118.1,118.6 118.2,117.6 118.3,119.3 118.4,122.2 118.5,122.7 118.6,121.4 118.7,120.7 118.8,122.8 118.9,122.2 119.0,119.4 119.1,115.6 119.2,115.1 119.3,114.4 119.4,115.8 119.5,119.4 119.6,119.7 119.7,119.6 119.8,142.0 119.9,138.3 120.0,135.1 120.1,132.4 120.2,130.1 120.3,128.2 120.4,126.6 120.5,125.2 120.6,124.0 120.7,123.0 120.8,122.2 120.9,121.5 121.0,120.9 121.1,120.4 121.2,120.0 121.3,119.6 121.4,119.3 121.5,119.0 121.6,119.9 121.7,118.9 121.8,122.3 121.9,122.1 122.0,119.5 122.1,118.1 122.2,118.0 122.3,118.0 122.4,117.9 122.5,119.8 122.6,118.4 122.7,117.8 122.8,120.5 122.9,122.2 123.0,120.3 123.1,118.4 123.2,118.2 123.3,120.3 123.4,120.9 123.5,117.9 123.6,118.5 123.7,119.9 123.8,130.2 123.9,129.7 124.0,129.0 124.1,124.2 124.2,120.5 124.3,120.8 124.4,120.9 124.5,118.3 124.6,119.9 124.7,121.0 124.8,119.3 124.9,116.4 125.0,115.8 125.1,117.2 125.2,117.6 125.3,117.4 125.4,117.6 125.5,117.9 125.6,119.5 125.7,121.2 125.8,128.9 125.9,125.2 126.0,130.0 126.1,129.9 126.2,130.0 126.3,128.4 126.4,126.2 126.5,125.7 126.6,125.9 126.7,124.4 126.8,122.3 126.9,121.2 127.0,120.9 127.1,121.0 127.2,121.5 127.3,122.3 127.4,120.7 127.5,118.7 127.6,120.5 127.7,123.8 127.8,126.7 127.9,121.7 128.0,122.3 128.1,127.0 128.2,127.8 128.3,129.8 128.4,124.8 128.5,122.7 128.6,122.0 128.7,121.3 128.8,118.9 128.9,118.8 129.0,122.9 129.1,128.9 129.2,132.0 129.3,131.7 129.4,131.4 129.5,126.9 129.6,123.7 129.7,123.3 129.8,125.6 129.9,131.5 130.0,129.1 130.1,129.2 130.2,136.7 130.3,135.5 130.4,131.9 130.5,132.6 130.6,131.0 130.7,129.5 130.8,127.4 130.9,124.2 131.0,122.1 131.1,121.7 131.2,122.5 131.3,122.4 131.4,121.5 131.5,122.8 131.6,125.5 131.7,122.9 131.8,119.3 131.9,117.3 132.0,116.3 132.1,115.8 132.2,116.8 132.3,118.8 132.4,117.5 132.5,119.2 132.6,142.0 132.7,138.3 132.8,135.1 132.9,132.4 133.0,130.1 133.1,128.2 133.2,126.6 133.3,125.2 133.4,124.0 133.5,124.8 133.6,125.8 133.7,126.0 133.8,128.1 133.9,125.3 134.0,120.7 134.1,119.6 134.2,119.3 134.3,119.0 134.4,118.8 134.5,118.6 134.6,118.5 134.7,118.3 134.8,118.2 134.9,118.1 135.0,118.0 135.1,118.0 135.2,118.1 135.3,117.9 135.4,117.8 135.5,117.8 135.6,117.8 135.7,117.7 135.8,117.7 135.9,117.7 136.0,138.7 136.1,135.5 136.2,132.7 136.3,130.4 136.4,128.4 136.5,126.8 136.6,125.4 136.7,125.7 136.8,123.2 136.9,122.3 137.0,121.6 137.1,121.0 137.2,120.5 137.3,120.0 137.4,119.6 137.5,120.8 137.6,122.2 137.7,122.6 137.8,124.2 137.9,118.5 138.0,118.4 138.1,119.3 138.2,123.7 138.3,124.0 138.4,122.3 138.5,120.0 138.6,121.9 138.7,121.6 138.8,120.1 138.9,117.8 139.0,117.7 139.1,117.7 139.2,117.7 139.3,118.1 139.4,118.4 139.5,121.5 139.6,121.5 139.7,121.4 139.8,117.0 139.9,113.8 140.0,112.9 140.1,116.5 140.2,116.9 140.3,116.0 140.4,114.7 140.5,126.0 140.6,124.1 140.7,120.7 140.8,118.9 140.9,118.0 141.0,118.2 141.1,117.3 141.2,117.2 141.3,115.5 141.4,115.1 141.5,116.6 141.6,120.8 141.7,123.9 141.8,123.8 141.9,122.3 142.0,119.1 142.1,118.5 142.2,119.7 142.3,118.2 142.4,117.7 142.5,116.7 142.6,118.4 142.7,118.1 142.8,120.2 142.9,120.6 143.0,119.1 143.1,117.9 143.2,117.9 143.3,117.9 143.4,117.6 143.5,119.1 143.6,119.9 143.7,119.4 143.8,116.5 143.9,115.6 144.0,113.7 144.1,115.3 144.2,115.4 144.3,118.6 144.4,123.1 144.5,123.7 144.6,123.1 144.7,120.1 144.8,119.3 144.9,116.0 145.0,116.1 145.1,119.3 145.2,121.5 145.3,117.9 145.4,114.3 145.5,113.8 145.6,117.4 145.7,120.1 145.8,120.4 145.9,120.2 146.0,119.9 146.1,118.6 146.2,116.8 146.3,115.0 146.4,115.0 146.5,116.5 146.6,120.3 146.7,118.1 146.8,115.7 146.9,115.8 147.0,118.5 147.1,121.5 147.2,119.3 147.3,118.0 147.4,115.9 147.5,116.9 147.6,116.5 147.7,155.0 147.8,149.3 147.9,144.4 148.0,140.3 148.1,136.8 148.2,133.8 148.3,131.4 148.4,129.2 148.5,127.5 148.6,125.9 148.7,124.7 148.8,123.6 148.9,122.7 149.0,121.9 149.1,122.7 149.2,121.3 149.3,122.9 149.4,123.7 149.5,124.2 149.6,123.5 149.7,127.2 149.8,126.6 149.9,122.8 150.0,121.3 150.1,118.8 150.2,118.2 150.3,118.1 150.4,118.0 150.5,118.5 150.6,121.0 150.7,121.9 150.8,120.2 150.9,118.6 151.0,117.8 151.1,117.7 151.2,117.7 151.3,118.3 151.4,116.6 151.5,113.9 151.6,113.3 151.7,115.5 151.8,120.0 151.9,122.5 152.0,124.0 152.1,122.8 152.2,122.3 152.3,120.1 152.4,119.8 152.5,119.9 152.6,123.9 152.7,123.9 152.8,120.1 152.9,117.4 153.0,117.2 153.1,117.9 153.2,116.2 153.3,115.9 153.4,117.3 153.5,119.7 153.6,119.7 153.7,117.3 153.8,116.4 153.9,117.6 154.0,117.4 154.1,116.7 154.2,120.9 154.3,120.1 154.4,120.7 154.5,120.1 154.6,119.5 154.7,119.6 154.8,124.1 154.9,125.9 155.0,126.1 155.1,119.8 155.2,118.1 155.3,120.9 155.4,123.4 155.5,125.1 155.6,120.2 155.7,117.1 155.8,117.0 155.9,120.0 156.0,121.5 156.1,120.0 156.2,137.0 156.4,134.0 156.5,131.5 156.6,129.4 156.7,131.0 156.8,129.1 156.9,124.7 157.0,123.6 157.1,122.7 157.2,122.9 157.3,121.3 157.4,120.7 157.5,120.2 157.6,120.2 157.7,122.2 157.8,119.2 157.9,119.3 158.0,118.7 158.1,120.4 158.2,118.4 158.3,118.3 158.4,118.2 158.5,118.1 158.6,119.7 158.7,121.3 158.8,121.5 158.9,124.6 159.0,126.8 159.1,125.6 159.2,123.9 159.3,125.6 159.4,125.5 159.5,122.2 159.6,129.1 159.7,132.6 159.8,128.5 159.9,125.0 160.0,123.9 160.1,124.4 160.2,125.4 160.3,125.1 160.4,123.5 160.5,121.3 160.6,120.9 160.7,119.7 160.8,122.7 160.9,123.3 161.0,125.2 161.1,131.0 161.2,129.4 161.3,127.2 161.4,125.7 161.5,124.5 161.6,123.4 161.7,122.5 161.8,121.8 161.9,122.2 162.0,120.6 162.1,120.1 162.2,119.8 162.3,123.8 162.4,122.1 162.5,119.1 162.6,118.7 162.7,118.5 162.8,118.4 162.9,118.3 163.0,118.2 163.1,118.1 163.2,118.0 163.3,117.9 163.4,117.9 163.5,117.8 163.6,117.8 163.7,118.4 163.8,117.8 163.9,117.7 164.0,117.7 164.1,118.8 164.2,126.2 164.3,120.2 164.4,119.0 164.5,121.6 164.6,132.5 164.7,127.3 164.8,125.7 164.9,126.9 165.0,127.1 165.1,123.0 165.2,118.2 165.3,117.8 165.4,116.7 165.5,118.3 165.6,118.7 165.7,121.0 165.8,121.7 165.9,120.7 166.0,120.3 166.1,119.4 166.2,120.2 166.3,118.3 166.4,118.6 166.5,119.6 166.6,119.5 166.7,117.0 166.8,116.7 166.9,120.4 167.0,128.0 167.1,125.2 167.2,119.6 167.3,117.1 167.4,115.0 167.5,115.2 167.6,120.1 167.7,120.2 167.8,117.1 167.9,115.9 168.0,116.4 168.1,152.2 168.2,146.9 168.3,142.4 168.4,138.6 168.5,135.4 168.6,132.6 168.7,130.3 168.8,128.4 168.9,126.7 169.0,125.3 169.1,124.1 169.2,123.1 169.3,122.3 169.4,121.6 169.5,121.0 169.6,120.4 169.7,120.8 169.8,120.7 169.9,121.8 170.0,121.1 170.1,120.8 170.2,119.6 170.3,118.5 170.4,118.3 170.5,119.4 170.6,118.4 170.7,118.1 170.8,118.0 170.9,119.8 171.0,121.8 171.1,121.6 171.2,118.6 171.3,117.8 171.4,117.7 171.5,117.7 171.6,119.2 171.7,120.9 171.8,119.3 171.9,117.1 172.0,115.6 172.1,122.0 172.2,120.3 172.3,120.1 172.4,120.5 172.5,122.9 172.6,125.5 172.7,124.5 172.8,122.5 172.9,121.1 173.0,122.2 173.1,118.0 173.2,115.1 173.3,115.9 173.4,118.3 173.5,118.5 173.6,118.9 173.7,118.1 173.8,116.5 173.9,116.3 174.0,118.5 174.1,116.9 174.2,116.3 174.3,116.3 174.4,118.7 174.5,119.4 174.6,119.2 174.7,117.8 174.8,140.4 174.9,136.9 175.0,133.9 175.1,131.4 175.2,129.3 175.3,127.5 175.4,126.0 175.5,124.7 175.6,123.6 175.7,122.7 175.8,121.9 175.9,121.2 176.0,120.9 176.1,125.1 176.2,124.7 176.3,123.5 176.4,120.4 176.5,119.4 176.6,120.4 176.7,120.5 176.8,119.4 176.9,118.3 177.0,121.0 177.1,119.5 177.2,119.0 177.3,119.7 177.4,121.2 177.5,121.5 177.6,120.3 177.7,120.4 177.8,118.0 177.9,117.7 178.0,117.7 178.1,119.1 178.2,121.0 178.3,122.4 178.4,121.0 178.5,121.0 178.6,118.7 178.7,117.9 178.8,114.8 178.9,117.0 179.0,120.6 179.1,122.7 179.2,118.0 179.3,113.8 179.4,113.8 179.5,113.7 179.6,116.2 179.7,116.1 179.8,114.9 179.9,114.7 180.0,116.8 180.1,118.7 180.2,119.4 180.3,118.4 180.4,117.7 180.5,115.6 180.6,114.9 180.7,115.7 180.8,118.9 180.9,116.8 181.0,125.1 181.1,123.0 181.2,123.6 181.3,123.7 181.4,122.1 181.5,118.6 181.6,138.7 181.7,135.5 181.8,132.7 181.9,130.4 182.0,128.4 182.1,126.8 182.2,125.4 182.3,124.2 182.4,123.2 182.5,123.3 182.6,123.7 182.7,123.3 182.8,122.4 182.9,122.5 183.0,120.4 183.1,119.3 183.2,119.1 183.3,118.8 183.4,118.6 183.5,127.7 183.6,125.1 183.7,123.1 183.8,120.6 183.9,121.1 184.0,122.4 184.1,121.7 184.2,121.5 184.3,119.9 184.4,120.1 184.5,120.0 184.6,120.7 184.7,121.3 184.8,120.3 184.9,120.0 185.0,126.1 185.1,122.8 185.2,120.7 185.3,120.8 185.4,122.5 185.5,121.0 185.6,126.5 185.7,126.6 185.8,125.6 185.9,121.7 186.0,120.9 186.1,120.3 186.2,119.1 186.3,118.3 186.4,120.0 186.5,120.3 186.6,120.4 186.7,119.5 186.8,126.1 186.9,126.9 187.0,126.2 187.1,123.8 187.2,121.1 187.3,121.4 187.4,122.5 187.5,122.8 187.6,123.8 187.7,118.7 187.8,118.3 187.9,119.9 188.0,122.3 188.1,121.3 188.2,120.8 188.3,159.0 188.4,152.6 188.5,147.3 188.6,142.7 188.7,138.8 188.8,135.6 188.9,132.8 189.0,130.5 189.1,128.5 189.2,126.8 189.3,125.4 189.4,125.2 189.5,123.6 189.6,124.7 189.7,126.3 189.8,123.9 189.9,126.1 190.0,127.9 190.1,127.6 190.2,126.9 190.3,126.6 190.4,127.1 190.5,123.7 190.6,119.2 190.7,118.4 190.8,118.4 190.9,121.1 191.0,122.4 191.1,122.4 191.2,122.4 191.3,122.1 191.4,119.9 191.5,119.9 191.6,118.1 191.7,117.9 191.8,117.7 191.9,116.4 192.0,121.2 192.1,122.6 192.2,120.9 192.3,121.2 192.4,119.5 192.5,119.4 192.6,119.8 192.7,127.1 192.8,128.5 192.9,125.0 193.0,122.6 193.1,118.1 193.2,118.6 193.3,120.9 193.4,123.7 193.5,121.9 193.6,119.0 193.7,121.0 193.8,123.7 193.9,121.3 194.0,116.6 194.1,114.2 194.2,116.1 194.3,120.6 194.4,124.9 194.5,124.0 194.6,119.2 194.7,115.5 194.8,115.8 194.9,116.3 195.0,116.9 195.1,115.7 195.2,116.1 195.3,117.6 195.4,121.6 195.5,122.6 195.6,125.9 195.7,121.1 195.8,118.3 195.9,116.4 196.0,118.2 196.1,120.3 196.2,122.6 196.3,122.0 196.4,120.5 196.5,117.1 196.6,115.7 196.7,138.7 196.8,135.5 196.9,132.7 197.0,130.4 197.1,128.4 197.2,126.8 197.3,125.4 197.4,124.2 197.5,123.2 197.6,122.3 197.7,121.6 197.8,121.0 197.9,120.5 198.0,120.0 198.1,119.6 198.2,119.3 198.3,121.4 198.4,119.2 198.5,120.7 198.6,123.1 198.7,121.9 198.8,126.4 198.9,123.2 199.0,121.4 199.1,119.3 199.2,120.5 199.3,120.6 199.4,118.3 199.5,118.7 199.6,121.0 199.7,122.6 199.8,119.2 199.9,117.7 200.0,117.7 200.1,118.8 200.2,119.7 200.3,121.7 200.4,122.3 200.5,118.9 200.6,115.3 200.7,115.2 200.8,126.2 200.9,125.5 201.0,122.8 201.1,120.4 201.2,119.7 201.3,118.2 201.4,117.4 201.5,119.1 201.6,121.2 201.7,120.6 201.8,119.1 201.9,117.1 202.0,117.8 202.1,119.1 202.2,121.2 202.3,117.3 202.4,118.0 202.5,115.6 202.6,114.4 202.7,120.9 202.8,122.3 202.9,121.5 203.0,121.1 203.1,120.2 203.2,120.8 203.3,120.9 203.4,123.4 203.5,137.0 203.6,134.0 203.7,131.5 203.8,129.4 203.9,127.6 204.0,126.0 204.1,124.7 204.2,123.6 204.3,122.7 204.4,121.9 204.5,121.3 204.6,122.6 204.7,123.9 204.8,121.7 204.9,119.5 205.0,119.2 205.1,118.9 205.2,121.1 205.3,121.5 205.4,119.4 205.5,118.3 205.6,118.2 205.7,118.1 205.8,118.0 205.9,118.0 206.0,120.7 206.1,122.1 206.2,127.2 206.3,125.6 206.4,125.7 206.5,123.1 206.6,118.4 206.7,117.7 206.8,117.7 206.9,120.0 207.0,126.7 207.1,122.8 207.2,119.5 207.3,121.4 207.4,123.5 207.5,122.3 207.6,120.6 207.7,131.6 207.8,131.2 207.9,128.9 208.0,124.3 208.1,120.9 208.2,121.4 208.3,124.3 208.4,124.5 208.5,129.3 208.6,126.7 208.7,125.7 208.8,122.9 208.9,122.3 209.0,120.8 209.1,119.1 209.2,117.8 209.3,118.9 209.4,118.9 209.5,118.8 209.6,119.4 209.7,118.4 209.8,117.5 209.9,116.5 210.0,119.1 210.1,117.8 210.2,116.9 210.3,116.4 210.4,118.0 210.5,122.3 210.6,119.7 210.7,119.3 210.8,118.0 210.9,117.4 211.0,123.9 211.1,122.0 211.2,120.6 211.3,119.8 211.4,120.7 211.5,121.2 211.6,122.2 211.7,123.6 211.8,121.3 211.9,118.7 212.0,117.7 212.1,119.0 212.2,121.7 212.3,123.9 212.4,121.5 212.5,120.3 212.6,116.7 212.7,117.3 212.8,117.7 212.9,119.5 213.0,119.0 213.1,119.9 213.2,119.4 213.3,124.7 213.4,123.0 213.5,121.1 213.6,138.7 213.7,135.5 213.8,132.7 213.9,130.4 214.0,128.4 214.1,126.8 214.2,125.4 214.3,124.2 214.4,123.2 214.5,122.3 214.6,121.6 214.7,121.0 214.8,120.5 214.9,120.0 215.0,119.6 215.1,119.3 215.2,119.1 215.3,119.8 215.4,120.9 215.5,121.8 215.6,120.8 215.7,121.1 215.8,118.8 215.9,118.1 216.0,118.0 216.1,117.9 216.2,117.9 216.3,117.8 216.4,120.6 216.5,118.8 216.6,117.7 216.7,117.7 216.8,118.4 216.9,118.1 217.0,117.7 217.1,117.7 217.2,118.8 217.3,120.8 217.4,125.8 217.5,119.1 217.6,116.1 217.7,117.2 217.8,117.5 217.9,117.0 218.0,117.9 218.1,119.9 218.2,121.6 218.3,119.5 218.4,117.5 218.5,118.4 218.6,121.9 218.7,119.4 218.8,116.1 218.9,117.3 219.0,122.6 219.1,123.0 219.2,123.0 219.3,118.4 219.4,116.0 219.5,116.4 219.6,117.3 219.7,116.5 219.8,118.7 219.9,120.0 220.0,120.6 220.1,122.9 220.2,118.6 220.3,116.1 220.4,137.0 220.5,134.0 220.6,131.5 220.7,129.4 220.8,127.6 220.9,126.0 221.0,124.7 221.1,123.6 221.2,122.7 221.3,121.9 221.4,121.3 221.5,120.7 221.6,120.2 221.7,119.8 221.8,119.5 221.9,119.2 222.0,118.9 222.1,118.7 222.2,118.6 222.3,118.4 222.4,118.3 222.5,118.2 222.6,118.1 222.7,118.0 222.8,118.0 222.9,117.9 223.0,117.9 223.1,117.8 223.2,117.8 223.3,118.6 223.4,117.7 223.5,117.7 223.6,117.7 223.7,117.7 223.8,117.7 223.9,117.7 224.0,116.7 224.1,115.3 224.2,116.3 224.3,117.8 224.4,120.4 224.5,118.3 224.6,119.5 224.7,122.7 224.8,130.8 224.9,125.6 225.0,121.4 225.1,121.5 225.2,123.5 225.3,122.6 225.4,117.9 225.5,116.4 225.6,117.7 225.7,120.0 225.8,119.9 225.9,118.3 226.0,117.4 226.1,116.8 226.2,118.2 226.3,120.1 226.4,120.9 226.5,118.3 226.6,117.8 226.7,119.9 226.8,120.6 226.9,116.0 227.0,113.5 227.1,114.2 227.2,117.3 227.3,117.9 227.4,117.8 227.5,116.7 227.6,123.4 227.7,122.5 227.8,122.3 227.9,122.0 228.0,122.0 228.1,133.0 228.2,130.6 228.3,128.6 228.4,126.9 228.5,125.5 228.6,124.3 228.7,123.3 228.8,122.4 228.9,121.7 229.0,121.0 229.1,120.5 229.2,120.1 229.3,119.7 229.4,119.4 229.5,119.1 229.6,118.9 229.7,118.7 229.8,118.5 229.9,118.4 230.0,118.2 230.1,118.1 230.2,119.9 230.3,118.8 230.4,118.7 230.5,117.9 230.6,117.8 230.7,118.1 230.8,121.3 230.9,122.3 231.0,124.1 231.1,122.4 231.2,118.1 231.3,120.3 231.4,121.8 231.5,122.0 231.6,121.8 231.7,122.8 231.8,121.4 231.9,119.4 232.0,117.8 232.1,117.6 232.2,116.2 232.3,114.4 232.4,113.8 232.5,114.7 232.6,117.8 232.7,121.4 232.8,122.6 232.9,121.1 233.0,118.0 233.1,116.5 233.2,115.5 233.3,116.1 233.4,117.5 233.5,118.1 233.6,121.0 233.7,121.0 233.8,124.4 233.9,145.5 234.0,141.2 234.1,137.6 234.2,134.5 234.3,131.9 234.4,129.7 234.5,127.9 234.6,126.3 234.7,124.9 234.8,123.8 234.9,122.9 235.0,122.1 235.1,122.1 235.2,121.2 235.3,120.3 235.4,119.9 235.5,119.5 235.6,119.2 235.7,119.3 235.8,118.8 235.9,118.6 236.0,118.4 236.1,118.3 236.2,118.2 236.3,118.1 236.4,118.0 236.5,118.2 236.6,124.0 236.7,122.0 236.8,120.2 236.9,117.8 237.0,117.8 237.1,118.0 237.2,121.1 237.3,120.0 237.4,117.7 237.5,115.4 237.6,114.1 237.7,114.0 237.8,115.0 237.9,118.1 238.0,121.4 238.1,121.9 238.2,119.2 238.3,124.3 238.4,121.5 238.5,120.7 238.6,120.7 238.7,121.4 238.8,119.3 238.9,117.4 239.0,118.1 239.1,118.4 239.2,116.8 239.3,115.1 239.4,114.6 239.5,123.9 239.6,124.2 239.7,134.4 239.8,129.6 239.9,142.0 240.0,138.3 240.1,135.1 240.2,132.4 240.3,130.1 240.4,129.5 240.5,128.4 240.6,129.7 240.7,127.7 240.8,127.3 240.9,124.0 241.0,121.5 241.1,121.6 241.2,120.4 241.3,120.0 241.4,119.6 241.5,126.1 241.6,127.2 241.7,124.0 241.8,123.4 241.9,121.1 242.0,122.0 242.1,121.9 242.2,121.7 242.3,119.9 242.4,122.9 242.5,125.1 242.6,132.4 242.7,125.4 242.8,121.8 242.9,120.2 243.0,118.9 243.1,119.6 243.2,120.3 243.3,122.1 243.4,119.3 243.5,118.4 243.6,117.6 243.7,119.3 243.8,121.5 243.9,123.7 244.0,121.3 244.1,118.1 244.2,118.0 244.3,117.7 244.4,117.0 244.5,116.5 244.6,120.1 244.7,119.2 244.8,120.0 244.9,118.8 245.0,119.9 245.1,118.8 245.2,119.0 245.3,118.9 245.4,119.0 245.5,115.6 245.6,147.0 245.7,142.5 245.8,138.7 245.9,135.4 246.0,132.7 246.1,130.4 246.2,128.4 246.3,126.7 246.4,125.3 246.5,124.2 246.6,123.1 246.7,122.3 246.8,121.6 246.9,121.0 247.0,120.9 247.1,120.0 247.2,119.6 247.3,119.3 247.4,125.8 247.5,127.2 247.6,127.9 247.7,123.7 247.8,120.9 247.9,120.1 248.0,121.9 248.1,120.4 248.2,118.3 248.3,117.9 248.4,117.9 248.5,117.8 248.6,117.8 248.7,118.8 248.8,120.8 248.9,122.1 249.0,119.6 249.1,119.3 249.2,118.4 249.3,118.2 249.4,116.6 249.5,115.8 249.6,121.4 249.7,120.3 249.8,121.6 249.9,121.7 250.0,119.7 250.1,117.2 250.2,118.2 250.3,119.3 250.4,120.3 250.5,118.8 250.6,117.4 250.7,118.2 250.8,120.5 250.9,121.7 251.0,119.5" fill="none" stroke="#111" stroke-width="1.3" stroke-linejoin="round"/>
<polyline points="61.5,176.0 61.6,180.3 61.7,177.6 61.8,179.0 61.9,177.8 62.0,175.6 62.1,174.7 62.2,174.3 62.3,180.9 62.4,183.6 62.5,182.5 62.6,181.4 62.7,179.4 62.8,177.6 62.9,176.7 63.0,177.7 63.1,178.6 63.2,183.5 63.3,182.0 63.4,181.0 63.5,181.4 63.6,182.8 63.7,180.9 63.8,177.3 63.9,177.1 64.0,181.0 64.1,181.4 64.2,178.8 64.3,182.1 64.4,181.0 64.5,179.4 64.6,178.9 64.7,181.2 64.8,188.4 64.9,185.5 65.0,179.3 65.1,177.7 65.2,180.2 65.3,179.4 65.4,177.1 65.5,182.9 65.6,183.6 65.7,180.2 65.8,178.3 65.9,178.5 66.0,181.3 66.1,182.7 66.2,182.3 66.3,181.2 66.4,179.8 66.5,185.2 66.6,183.0 66.7,183.6 66.8,183.8 66.9,180.5 67.0,179.2 67.1,176.2 67.2,176.3 67.3,177.5 67.4,178.0 67.5,176.0 67.6,174.6 67.7,176.8 67.8,174.8 67.9,173.5 68.0,173.7 68.1,178.5 68.2,176.6 68.3,173.7 68.4,173.2 68.5,175.3 68.6,177.8 68.7,176.5 68.8,176.5 68.9,173.7 69.0,176.4 69.1,177.0 69.2,177.3 69.3,173.0 69.4,174.5 69.5,177.7 69.6,181.1 69.7,180.2 69.8,179.8 69.9,177.1 70.0,174.0 70.1,172.6 70.2,198.8 70.3,195.2 70.4,192.1 70.5,189.5 70.6,187.4 70.7,185.5 70.8,183.9 70.9,182.6 71.0,181.5 71.1,180.5 71.2,179.7 71.3,182.7 71.4,179.6 71.5,178.2 71.6,177.6 71.7,185.9 71.8,183.7 71.9,182.6 72.0,181.1 72.1,182.1 72.2,182.0 72.3,185.5 72.4,186.5 72.5,186.0 72.6,181.1 72.7,176.5 72.8,175.6 72.9,177.1 73.0,175.5 73.1,175.8 73.2,177.7 73.3,179.1 73.4,175.4 73.5,175.4 73.6,179.1 73.7,180.4 73.8,184.4 73.9,184.1 74.0,182.6 74.1,179.6 74.2,182.0 74.3,186.3 74.4,186.8 74.5,181.9 74.6,178.6 74.7,175.8 74.8,178.3 74.9,180.5 75.0,180.6 75.1,176.8 75.2,180.1 75.3,179.4 75.4,177.8 75.5,177.2 75.6,190.6 75.7,191.3 75.8,186.9 75.9,180.7 76.0,178.1 76.1,178.5 76.2,181.0 76.3,182.7 76.4,181.4 76.5,179.9 76.6,179.6 76.7,176.8 76.8,175.1 76.9,175.2 77.0,176.1 77.1,175.5 77.2,174.3 77.3,174.6 77.4,176.3 77.5,177.3 77.6,176.8 77.7,176.8 77.8,178.9 77.9,181.7 78.0,177.6 78.1,175.9 78.2,174.5 78.3,176.7 78.4,177.0 78.5,179.8 78.6,181.4 78.7,180.2 78.8,180.6 78.9,179.2 79.0,177.8 79.1,176.5 79.2,176.6 79.3,179.5 79.4,181.3 79.5,182.9 79.6,182.2 79.7,178.8 79.8,175.5 79.9,176.9 80.0,176.9 80.1,176.5 80.2,175.9 80.3,179.1 80.4,178.3 80.5,178.8 80.6,176.1 80.7,175.1 80.8,172.8 80.9,175.5 81.0,176.3 81.1,178.6 81.2,180.9 81.3,181.0 81.4,182.0 81.5,182.5 81.6,180.9 81.7,177.7 81.8,175.0 81.9,175.0 82.0,206.5 82.1,201.7 82.2,197.7 82.3,194.2 82.4,191.3 82.5,188.9 82.6,186.8 82.7,185.0 82.8,183.5 82.9,182.3 83.0,181.2 83.1,180.3 83.2,179.5 83.3,178.9 83.4,178.3 83.5,177.9 83.6,177.5 83.7,177.1 83.8,178.6 83.9,177.5 84.0,177.9 84.1,176.5 84.2,177.0 84.3,176.7 84.4,180.0 84.5,178.0 84.6,175.9 84.7,176.4 84.8,178.2 84.9,176.8 85.0,176.8 85.1,178.1 85.2,182.9 85.3,179.3 85.4,177.6 85.5,177.8 85.6,180.2 85.7,181.4 85.8,179.4 85.9,175.2 86.0,174.7 86.1,179.2 86.2,181.3 86.3,180.1 86.4,177.3 86.5,177.6 86.6,180.6 86.7,186.4 86.8,185.3 86.9,181.9 87.0,182.8 87.1,179.5 87.2,180.5 87.3,180.5 87.4,181.0 87.5,176.9 87.6,175.5 87.7,175.9 87.8,178.9 87.9,181.3 88.0,182.0 88.1,181.7 88.2,180.1 88.3,179.0 88.4,179.2 88.5,178.7 88.6,178.1 88.7,179.5 88.8,183.6 88.9,180.9 89.0,179.3 89.1,182.1 89.2,182.7 89.3,180.0 89.4,176.7 89.5,178.6 89.6,176.4 89.7,175.6 89.8,176.3 89.9,178.2 90.0,178.8 90.1,178.9 90.2,178.7 90.3,176.0 90.4,173.7 90.5,172.9 90.6,175.2 90.7,177.2 90.8,179.6 90.9,177.9 91.0,179.9 91.1,177.5 91.2,174.0 91.3,171.2 91.4,172.0 91.5,173.6 91.6,172.1 91.7,178.5 91.8,178.2 91.9,176.3 92.0,188.0 92.1,186.0 92.2,184.8 92.3,185.4 92.4,186.2 92.5,186.4 92.6,181.5 92.7,179.3 92.8,178.6 92.9,178.4 93.0,180.7 93.1,180.9 93.2,184.1 93.3,182.2 93.4,180.1 93.5,178.9 93.6,176.3 93.7,176.0 93.8,175.9 93.9,175.8 94.0,175.8 94.1,175.7 94.2,176.1 94.3,181.6 94.4,187.9 94.5,185.6 94.6,180.6 94.7,179.7 94.8,178.8 94.9,178.2 95.0,177.0 95.1,175.4 95.2,175.4 95.3,175.4 95.4,178.1 95.5,176.8 95.6,174.8 95.7,174.5 95.8,175.0 95.9,175.6 96.0,176.1 96.1,178.6 96.2,177.3 96.3,175.0 96.4,176.3 96.5,175.4 96.6,175.3 96.7,175.7 96.8,180.6 96.9,180.0 97.0,176.2 97.1,173.7 97.2,174.2 97.3,175.4 97.4,183.0 97.5,191.2 97.6,188.5 97.7,185.7 97.8,180.1 97.9,177.8 98.0,179.3 98.1,181.8 98.2,180.1 98.3,176.1 98.4,176.8 98.5,178.1 98.6,177.5 98.7,176.6 98.8,177.1 98.9,179.7 99.0,177.6 99.1,178.9 99.2,179.4 99.3,179.4 99.4,175.4 99.5,174.3 99.6,175.5 99.7,176.4 99.8,177.8 99.9,182.6 100.0,184.2 100.1,183.5 100.2,187.7 100.3,180.7 100.4,177.9 100.5,193.7 100.6,190.9 100.7,188.5 100.8,186.5 100.9,184.7 101.0,183.3 101.1,182.1 101.2,181.0 101.3,185.4 101.4,179.9 101.5,181.3 101.6,182.1 101.7,184.2 101.8,181.5 101.9,179.9 102.0,181.8 102.1,183.9 102.2,190.7 102.3,188.6 102.4,191.9 102.5,189.8 102.6,185.3 102.7,184.7 102.8,183.9 102.9,186.8 103.0,181.2 103.1,179.1 103.2,178.4 103.3,180.6 103.4,179.1 103.5,178.7 103.6,180.0 103.7,178.1 103.8,175.9 103.9,176.5 104.0,179.9 104.1,180.2 104.2,178.0 104.3,176.1 104.4,177.6 104.5,176.1 104.6,173.2 104.7,171.9 104.8,172.4 104.9,172.8 105.0,172.9 105.1,175.0 105.2,174.6 105.3,174.8 105.4,172.8 105.5,173.7 105.6,171.8 105.7,171.5 105.8,171.8 105.9,179.2 106.0,178.4 106.1,176.2 106.2,176.7 106.3,177.5 106.4,177.5 106.5,178.1 106.6,177.3 106.7,181.3 106.8,178.7 106.9,180.1 107.0,182.7 107.1,184.9 107.2,182.6 107.3,179.7 107.4,178.5 107.5,178.2 107.6,178.8 107.7,185.4 107.8,183.8 107.9,180.7 108.0,179.1 108.1,181.9 108.2,185.8 108.3,185.3 108.4,181.9 108.5,174.7 108.6,173.9 108.7,180.5 108.8,188.5 108.9,187.1 109.0,184.5 109.1,183.2 109.2,181.9 109.3,181.4 109.4,181.2 109.5,182.7 109.6,181.9 109.7,177.2 109.8,180.7 109.9,181.9 110.0,180.8 110.1,178.4 110.2,177.9 110.3,178.6 110.4,179.6 110.5,180.4 110.6,188.2 110.7,188.0 110.8,193.2 110.9,189.9 111.0,188.6 111.1,187.6 111.2,182.5 111.3,180.0 111.4,179.3 111.5,182.9 111.6,182.0 111.7,186.0 111.8,182.7 111.9,183.9 112.0,183.2 112.1,180.7 112.2,177.8 112.3,176.8 112.4,176.6 112.5,176.2 112.6,176.9 112.7,179.7 112.8,179.8 112.9,178.1 113.0,175.1 113.1,176.3 113.2,175.0 113.3,173.6 113.4,172.9 113.5,175.2 113.6,176.4 113.7,175.3 113.8,173.4 113.9,173.9 114.0,177.3 114.1,179.6 114.2,184.2 114.3,181.4 114.4,178.7 114.5,176.8 114.6,175.6 114.7,176.6 114.8,176.9 114.9,175.2 115.0,190.0 115.1,187.7 115.2,185.8 115.3,184.2 115.4,182.8 115.5,181.7 115.6,180.7 115.7,179.9 115.8,179.2 115.9,178.9 116.0,178.1 116.1,177.6 116.2,177.3 116.3,177.0 116.4,176.7 116.5,180.4 116.6,177.9 116.7,176.2 116.8,176.7 116.9,178.8 117.0,180.7 117.1,179.7 117.2,180.9 117.3,179.0 117.4,179.7 117.5,183.1 117.6,178.9 117.7,175.5 117.8,175.4 117.9,175.4 118.0,182.9 118.1,182.3 118.2,180.9 118.3,179.9 118.4,179.1 118.5,179.3 118.6,181.2 118.7,180.9 118.8,178.2 118.9,177.4 119.0,176.5 119.1,178.7 119.2,182.7 119.3,182.7 119.4,175.4 119.5,171.1 119.6,173.0 119.7,177.5 119.8,180.2 119.9,178.3 120.0,174.6 120.1,174.7 120.2,175.1 120.3,176.8 120.4,179.7 120.5,181.1 120.6,180.4 120.7,181.4 120.8,181.1 120.9,178.1 121.0,176.1 121.1,175.4 121.2,176.9 121.3,178.4 121.4,178.3 121.5,175.8 121.6,173.1 121.7,173.0 121.8,174.9 121.9,175.1 122.0,176.5 122.1,176.8 122.2,177.3 122.3,173.5 122.4,173.0 122.5,189.7 122.6,187.5 122.7,185.6 122.8,184.0 122.9,182.7 123.0,181.6 123.1,180.6 123.2,182.0 123.3,184.0 123.4,178.5 123.5,178.0 123.6,177.6 123.7,177.2 123.8,176.9 123.9,176.7 124.0,176.5 124.1,176.3 124.2,176.9 124.3,176.6 124.4,175.9 124.5,175.8 124.6,177.4 124.7,178.6 124.8,179.0 124.9,178.1 125.0,177.1 125.1,177.0 125.2,176.3 125.3,177.6 125.4,175.4 125.5,176.5 125.6,175.4 125.7,175.4 125.8,175.4 125.9,176.5 126.0,177.5 126.1,175.1 126.2,175.2 126.3,173.8 126.4,172.3 126.5,171.7 126.6,172.8 126.7,173.0 126.8,173.2 126.9,174.3 127.0,174.8 127.1,177.4 127.2,180.2 127.3,182.2 127.4,179.6 127.5,176.6 127.6,172.9 127.7,172.1 127.8,170.7 127.9,171.1 128.0,173.0 128.1,178.8 128.2,181.7 128.3,183.3 128.4,179.7 128.5,177.3 128.6,178.4 128.7,177.8 128.8,179.6 128.9,182.6 129.0,183.5 129.1,183.3 129.2,183.1 129.3,179.8 129.4,177.8 129.5,181.1 129.6,180.9 129.7,177.7 129.8,173.7 129.9,173.5 130.0,179.9 130.1,190.4 130.2,187.4 130.3,182.7 130.4,181.5 130.5,191.7 130.6,192.3 130.7,189.7 130.8,184.4 130.9,183.8 131.0,183.7 131.1,183.4 131.2,180.9 131.3,177.8 131.4,176.2 131.5,175.5 131.6,178.2 131.7,180.4 131.8,181.6 131.9,177.4 132.0,181.5 132.1,180.7 132.2,182.4 132.3,180.5 132.4,177.0 132.5,176.7 132.6,179.0 132.7,180.8 132.8,177.2 132.9,177.9 133.0,181.1 133.1,179.1 133.2,179.2 133.3,183.4 133.4,182.4 133.5,177.2 133.6,178.0 133.7,176.9 133.8,177.2 133.9,176.2 134.0,176.2 134.1,176.4 134.2,179.5 134.3,178.2 134.4,176.6 134.5,186.2 134.6,184.7 134.7,184.6 134.8,183.5 134.9,180.1 135.0,177.3 135.1,176.6 135.2,177.8 135.3,178.4 135.4,178.8 135.5,177.4 135.6,176.2 135.7,176.3 135.8,175.8 135.9,175.9 136.0,177.2 136.1,177.9 136.2,176.4 136.3,173.1 136.4,173.2 136.5,171.8 136.6,172.9 136.7,177.0 136.8,177.9 136.9,180.2 137.0,181.8 137.1,181.5 137.2,178.8 137.3,177.4 137.4,175.2 137.5,172.8 137.6,172.7 137.7,176.3 137.8,180.7 137.9,179.1 138.0,178.6 138.1,178.2 138.2,177.0 138.3,173.3 138.4,172.4 138.5,172.9 138.6,177.3 138.7,179.7 138.8,177.3 138.9,173.6 139.0,173.7 139.1,173.0 139.2,173.3 139.3,193.7 139.4,190.9 139.5,188.5 139.6,186.5 139.7,184.7 139.8,183.3 139.9,182.1 140.0,181.0 140.1,180.1 140.2,179.4 140.3,178.8 140.4,178.2 140.5,177.8 140.6,177.4 140.7,177.1 140.8,176.8 140.9,176.6 141.0,176.4 141.1,176.2 141.2,176.1 141.3,178.1 141.4,179.2 141.5,187.9 141.6,184.6 141.7,181.7 141.8,182.0 141.9,181.0 142.0,180.6 142.1,180.1 142.2,181.1 142.3,181.3 142.4,179.3 142.5,179.0 142.6,176.1 142.7,175.4 142.8,175.4 142.9,174.1 143.0,174.4 143.1,175.1 143.2,179.3 143.3,179.9 143.4,182.7 143.5,184.5 143.6,183.9 143.7,182.1 143.8,183.9 143.9,182.4 144.0,177.6 144.1,175.7 144.2,176.5 144.3,176.4 144.4,173.3 144.5,175.1 144.6,174.7 144.7,174.1 144.8,176.9 144.9,179.1 145.0,188.0 145.1,186.0 145.2,184.4 145.3,183.0 145.4,181.8 145.5,180.8 145.6,180.0 145.7,179.3 145.8,178.6 145.9,179.8 146.0,183.2 146.1,182.2 146.2,180.3 146.3,177.0 146.4,176.5 146.5,176.3 146.6,176.2 146.7,176.0 146.8,175.9 146.9,175.8 147.0,175.8 147.1,175.7 147.2,175.6 147.3,175.6 147.4,175.5 147.5,175.5 147.6,175.5 147.7,179.3 147.8,181.0 147.9,181.6 148.0,178.7 148.1,175.4 148.2,175.4 148.3,175.4 148.4,178.8 148.5,179.3 148.6,176.9 148.7,174.1 148.8,173.5 148.9,174.9 149.0,177.7 149.1,174.7 149.2,174.0 149.3,173.0 149.4,179.1 149.5,178.0 149.6,177.0 149.7,174.8 149.8,176.7 149.9,178.3 150.0,177.1 150.1,173.7 150.2,172.1 150.3,174.6 150.4,174.5 150.5,178.1 150.6,176.6 150.7,180.6 150.8,181.4 150.9,180.4 151.0,179.8 151.1,213.3 151.2,207.5 151.3,202.5 151.4,198.3 151.5,194.8 151.6,191.8 151.7,189.3 151.8,187.1 151.9,185.3 152.0,183.8 152.1,182.5 152.2,181.4 152.3,180.4 152.4,179.6 152.5,179.0 152.6,178.4 152.7,177.9 152.8,177.5 152.9,186.0 153.0,184.0 153.1,185.2 153.2,187.5 153.3,185.1 153.4,179.7 153.5,178.3 153.6,176.4 153.7,175.8 153.8,175.7 153.9,175.7 154.0,176.1 154.1,178.6 154.2,177.7 154.3,175.5 154.4,175.5 154.5,175.4 154.6,175.4 154.7,173.6 154.8,174.8 154.9,179.7 155.0,179.1 155.1,180.3 155.2,183.0 155.3,179.9 155.4,179.9 155.5,179.3 155.6,182.5 155.7,177.6 155.8,176.8 155.9,175.6 156.0,176.8 156.1,177.6 156.2,178.6 156.4,176.6 156.5,174.4 156.6,174.9 156.7,178.0 156.8,177.6 156.9,175.4 157.0,174.3 157.1,173.5 157.2,171.9 157.3,173.9 157.4,176.1 157.5,177.3 157.6,174.1 157.7,176.1 157.8,179.8 157.9,180.9 158.0,178.6 158.1,175.0 158.2,177.5 158.3,179.5 158.4,178.9 158.5,177.2 158.6,177.4 158.7,178.9 158.8,177.5 158.9,175.9 159.0,174.1 159.1,174.5 159.2,175.9 159.3,174.9 159.4,176.6 159.5,178.0 159.6,177.4 159.7,173.4 159.8,177.8 159.9,180.3 160.0,181.5 160.1,181.1 160.2,177.2 160.3,175.2 160.4,173.8 160.5,175.4 160.6,176.5 160.7,174.6 160.8,177.6 160.9,178.1 161.0,179.7 161.1,176.6 161.2,179.5 161.3,179.3 161.4,173.6 161.5,170.2 161.6,171.3 161.7,174.3 161.8,173.7 161.9,170.1 162.0,171.9 162.1,175.1 162.2,177.1 162.3,174.4 162.4,173.9 162.5,173.7 162.6,173.1 162.7,173.8 162.8,176.3 162.9,178.9 163.0,178.9 163.1,197.8 163.2,194.3 163.3,191.4 163.4,188.9 163.5,186.8 163.6,185.1 163.7,183.6 163.8,182.3 163.9,181.2 164.0,180.3 164.1,179.5 164.2,178.9 164.3,178.3 164.4,177.9 164.5,177.5 164.6,177.1 164.7,176.9 164.8,180.1 164.9,180.9 165.0,180.5 165.1,178.3 165.2,179.7 165.3,182.6 165.4,182.6 165.5,183.5 165.6,180.6 165.7,178.8 165.8,178.6 165.9,178.8 166.0,178.7 166.1,176.1 166.2,175.4 166.3,175.4 166.4,175.4 166.5,183.8 166.6,186.4 166.7,183.6 166.8,177.1 166.9,175.4 167.0,177.3 167.1,176.9 167.2,176.0 167.3,176.4 167.4,188.7 167.5,186.2 167.6,185.2 167.7,182.6 167.8,179.3 167.9,176.5 168.0,174.9 168.1,176.4 168.2,175.7 168.3,173.6 168.4,172.9 168.5,176.4 168.6,181.3 168.7,182.0 168.8,177.4 168.9,173.2 169.0,174.7 169.1,175.9 169.2,173.9 169.3,173.2 169.4,174.1 169.5,175.3 169.6,174.8 169.7,176.3 169.8,183.1 169.9,182.9 170.0,182.2 170.1,182.0 170.2,183.3 170.3,180.1 170.4,187.7 170.5,185.6 170.6,182.8 170.7,180.9 170.8,180.1 170.9,180.1 171.0,180.5 171.1,181.5 171.2,180.0 171.3,179.3 171.4,180.4 171.5,210.6 171.6,205.2 171.7,200.6 171.8,196.7 171.9,193.4 172.0,190.6 172.1,188.3 172.2,186.3 172.3,184.6 172.4,183.2 172.5,182.0 172.6,180.9 172.7,180.1 172.8,179.3 172.9,178.8 173.0,178.4 173.1,177.9 173.2,180.0 173.3,177.6 173.4,176.8 173.5,176.6 173.6,176.4 173.7,176.5 173.8,180.0 173.9,180.4 174.0,180.1 174.1,177.5 174.2,175.7 174.3,175.6 174.4,175.6 174.5,176.2 174.6,175.5 174.7,175.5 174.8,175.4 174.9,175.4 175.0,175.4 175.1,172.9 175.2,173.5 175.3,175.3 175.4,177.7 175.5,176.1 175.6,171.9 175.7,171.0 175.8,175.5 175.9,181.4 176.0,180.5 176.1,178.5 176.2,176.5 176.3,174.0 176.4,172.1 176.5,172.9 176.6,174.2 176.7,177.4 176.8,175.5 176.9,174.1 177.0,173.6 177.1,175.5 177.2,173.8 177.3,170.6 177.4,178.2 177.5,180.1 177.6,182.6 177.7,183.0 177.8,179.1 177.9,178.6 178.0,178.2 178.1,176.7 178.2,174.4 178.3,174.4 178.4,177.4 178.5,178.4 178.6,178.1 178.7,179.6 178.8,179.2 178.9,174.9 179.0,173.5 179.1,176.1 179.2,177.6 179.3,176.1 179.4,179.6 179.5,179.8 179.6,178.8 179.7,179.8 179.8,177.5 179.9,175.8 180.0,174.9 180.1,175.8 180.2,177.3 180.3,177.5 180.4,176.8 180.5,175.8 180.6,175.4 180.7,173.8 180.8,171.7 180.9,171.4 181.0,172.8 181.1,174.3 181.2,176.8 181.3,178.9 181.4,181.3 181.5,182.5 181.6,181.0 181.7,180.0 181.8,187.2 181.9,185.5 182.0,181.7 182.1,181.2 182.2,182.1 182.3,182.3 182.4,181.2 182.5,181.2 182.6,178.9 182.7,178.1 182.8,176.6 182.9,177.6 183.0,175.1 183.1,174.9 183.2,176.3 183.3,187.3 183.4,185.0 183.5,182.4 183.6,179.5 183.7,177.2 183.8,175.6 183.9,176.1 184.0,178.2 184.1,177.6 184.2,178.2 184.3,175.3 184.4,174.3 184.5,173.2 184.6,176.9 184.7,177.7 184.8,182.3 184.9,199.8 185.0,196.0 185.1,192.9 185.2,190.2 185.3,187.9 185.4,185.9 185.5,184.3 185.6,182.9 185.7,181.8 185.8,180.8 185.9,179.9 186.0,179.2 186.1,178.6 186.2,185.3 186.3,186.4 186.4,184.8 186.5,179.3 186.6,176.9 186.7,176.5 186.8,177.6 186.9,177.7 187.0,179.9 187.1,179.7 187.2,179.5 187.3,178.2 187.4,176.0 187.5,175.6 187.6,175.6 187.7,176.6 187.8,177.7 187.9,177.3 188.0,176.5 188.1,175.8 188.2,175.4 188.3,175.4 188.4,175.4 188.5,175.1 188.6,175.6 188.7,175.8 188.8,179.9 188.9,180.0 189.0,176.1 189.1,174.7 189.2,174.4 189.3,175.3 189.4,176.2 189.5,177.7 189.6,183.2 189.7,183.7 189.8,185.8 189.9,193.3 190.0,215.6 190.1,209.4 190.2,204.2 190.3,199.7 190.4,196.0 190.5,192.8 190.6,190.1 190.7,187.8 190.8,185.9 190.9,184.3 191.0,182.9 191.1,181.7 191.2,182.9 191.3,179.9 191.4,179.2 191.5,178.6 191.6,179.3 191.7,182.7 191.8,183.6 191.9,182.2 192.0,180.4 192.1,178.9 192.2,183.6 192.3,181.9 192.4,179.9 192.5,179.9 192.6,179.5 192.7,179.4 192.8,180.3 192.9,183.3 193.0,180.6 193.1,178.4 193.2,179.3 193.3,182.3 193.4,180.3 193.5,177.3 193.6,178.7 193.7,180.4 193.8,179.7 193.9,181.7 194.0,182.8 194.1,184.1 194.2,178.2 194.3,176.5 194.4,178.2 194.5,180.2 194.6,178.2 194.7,174.5 194.8,174.5 194.9,180.1 195.0,180.0 195.1,179.7 195.2,178.0 195.3,178.6 195.4,178.4 195.5,187.9 195.6,185.5 195.7,182.8 195.8,181.9 195.9,180.4 196.0,179.4 196.1,179.4 196.2,182.5 196.3,182.0 196.4,179.9 196.5,189.6 196.6,187.3 196.7,189.4 196.8,187.6 196.9,187.4 197.0,184.6 197.1,181.9 197.2,178.2 197.3,178.8 197.4,178.9 197.5,188.7 197.6,184.7 197.7,190.4 197.8,188.1 197.9,189.0 198.0,185.3 198.1,183.1 198.2,181.3 198.3,180.5 198.4,179.0 198.5,178.6 198.6,178.3 198.7,184.5 198.8,183.7 198.9,183.4 199.0,183.0 199.1,180.6 199.2,178.9 199.3,179.1 199.4,182.1 199.5,182.8 199.6,183.3 199.7,181.6 199.8,178.8 199.9,177.0 200.0,176.2 200.1,177.1 200.2,178.2 200.3,179.4 200.4,177.7 200.5,179.9 200.6,182.0 200.7,181.2 200.8,178.5 200.9,178.1 201.0,177.0 201.1,176.3 201.2,173.6 201.3,174.2 201.4,174.0 201.5,174.5 201.6,173.4 201.7,175.3 201.8,174.9 201.9,173.9 202.0,173.1 202.1,173.2 202.2,171.3 202.3,171.3 202.4,172.9 202.5,175.3 202.6,176.9 202.7,177.8 202.8,177.8 202.9,175.8 203.0,177.2 203.1,178.9 203.2,180.5 203.3,180.1 203.4,177.1 203.5,177.0 203.6,177.1 203.7,177.2 203.8,176.2 203.9,174.5 204.0,173.2 204.1,173.8 204.2,176.2 204.3,179.2 204.4,178.7 204.5,175.7 204.6,175.0 204.7,176.4 204.8,175.4 204.9,174.7 205.0,175.6 205.1,197.0 205.2,193.7 205.3,190.8 205.4,188.5 205.5,186.4 205.6,184.7 205.7,183.3 205.8,182.1 205.9,181.0 206.0,180.1 206.1,183.5 206.2,186.2 206.3,185.9 206.4,182.9 206.5,192.0 206.6,191.5 206.7,191.8 206.8,186.1 206.9,183.5 207.0,180.7 207.1,181.5 207.2,181.1 207.3,180.4 207.4,179.0 207.5,180.3 207.6,182.9 207.7,182.8 207.8,179.2 207.9,176.8 208.0,182.5 208.1,182.3 208.2,184.1 208.3,186.2 208.4,184.7 208.5,180.4 208.6,179.3 208.7,179.0 208.8,177.3 208.9,173.9 209.0,173.5 209.1,174.6 209.2,186.3 209.3,187.0 209.4,184.8 209.5,180.6 209.6,181.8 209.7,182.2 209.8,182.2 209.9,180.7 210.0,183.9 210.1,183.6 210.2,181.3 210.3,195.4 210.4,192.3 210.5,189.7 210.6,187.5 210.7,185.6 210.8,184.0 210.9,182.7 211.0,181.6 211.1,180.9 211.2,180.0 211.3,180.4 211.4,181.2 211.5,180.2 211.6,177.6 211.7,177.4 211.8,178.2 211.9,177.5 212.0,177.1 212.1,179.6 212.2,176.3 212.3,176.0 212.4,175.9 212.5,187.6 212.6,184.9 212.7,183.5 212.8,180.7 212.9,178.9 213.0,176.6 213.1,177.1 213.2,178.3 213.3,179.9 213.4,179.7 213.5,179.9 213.6,177.9 213.7,176.4 213.8,177.1 213.9,179.3 214.0,180.5 214.1,177.5 214.2,176.1 214.3,174.6 214.4,175.4 214.5,175.4 214.6,175.4 214.7,176.3 214.8,179.1 214.9,179.5 215.0,178.9 215.1,178.7 215.2,176.9 215.3,173.1 215.4,173.8 215.5,178.7 215.6,181.1 215.7,178.4 215.8,182.6 215.9,179.5 216.0,178.5 216.1,177.9 216.2,179.3 216.3,178.5 216.4,179.7 216.5,181.4 216.6,190.5 216.7,188.7 216.8,184.9 216.9,179.9 217.0,177.8 217.1,176.5 217.2,179.8 217.3,180.0 217.4,183.0 217.5,180.4 217.6,178.3 217.7,176.3 217.8,177.9 217.9,180.1 218.0,179.9 218.1,192.0 218.2,189.4 218.3,187.3 218.4,185.4 218.5,183.9 218.6,182.6 218.7,181.4 218.8,180.5 218.9,179.7 219.0,179.0 219.1,178.5 219.2,178.0 219.3,178.5 219.4,179.0 219.5,177.5 219.6,176.7 219.7,176.5 219.8,176.3 219.9,176.1 220.0,176.0 220.1,175.9 220.2,175.8 220.3,175.7 220.4,175.7 220.5,175.6 220.6,175.6 220.7,175.5 220.8,175.5 220.9,175.5 221.0,175.4 221.1,178.3 221.2,180.0 221.3,179.4 221.4,175.9 221.5,175.4 221.6,175.3 221.7,174.3 221.8,189.0 221.9,183.0 222.0,176.7 222.1,173.8 222.2,174.8 222.3,175.0 222.4,175.4 222.5,175.6 222.6,174.8 222.7,172.8 222.8,171.5 222.9,170.5 223.0,173.4 223.1,173.3 223.2,173.0 223.3,173.4 223.4,175.9 223.5,177.1 223.6,175.2 223.7,175.2 223.8,175.9 223.9,180.7 224.0,181.4 224.1,181.4 224.2,178.8 224.3,177.0 224.4,177.3 224.5,178.9 224.6,180.5 224.7,179.6 224.8,181.3 224.9,181.3 225.0,188.3 225.1,185.5 225.2,182.9 225.3,183.5 225.4,179.7 225.5,179.3 225.6,176.8 225.7,175.0 225.8,173.0 225.9,174.4 226.0,176.8 226.1,179.3 226.2,179.1 226.3,176.4 226.4,172.6 226.5,172.1 226.6,173.7 226.7,176.5 226.8,178.2 226.9,178.1 227.0,176.3 227.1,171.4 227.2,171.4 227.3,172.7 227.4,174.3 227.5,173.8 227.6,173.0 227.7,172.7 227.8,174.9 227.9,179.1 228.0,180.8 228.1,178.9 228.2,178.6 228.3,177.4 228.4,179.6 228.5,179.6 228.6,179.2 228.7,175.6 228.8,174.6 228.9,205.0 229.0,200.4 229.1,196.6 229.2,193.3 229.3,190.5 229.4,188.2 229.5,186.2 229.6,184.5 229.7,183.1 229.8,181.9 229.9,180.9 230.0,180.0 230.1,179.3 230.2,179.6 230.3,184.5 230.4,180.5 230.5,178.8 230.6,177.0 230.7,177.8 230.8,180.2 230.9,182.8 231.0,182.6 231.1,181.5 231.2,178.2 231.3,187.5 231.4,187.8 231.5,185.7 231.6,183.2 231.7,180.0 231.8,178.2 231.9,179.7 232.0,179.8 232.1,227.5 232.2,219.5 232.3,212.7 232.4,207.0 232.5,202.1 232.6,198.0 232.7,194.5 232.8,191.5 232.9,189.1 233.0,186.9 233.1,185.2 233.2,183.6 233.3,182.4 233.4,181.3 233.5,180.4 233.6,179.6 233.7,178.9 233.8,178.4 233.9,177.9 234.0,178.5 234.1,179.5 234.2,178.7 234.3,178.7 234.4,178.4 234.5,178.9 234.6,179.5 234.7,179.4 234.8,176.8 234.9,175.8 235.0,175.7 235.1,176.7 235.2,176.4 235.3,179.9 235.4,181.4 235.5,180.5 235.6,176.4 235.7,177.7 235.8,177.7 235.9,176.0 236.0,172.5 236.1,181.2 236.2,182.8 236.3,181.5 236.4,185.0 236.5,183.6 236.6,186.3 236.7,184.3 236.8,180.8 236.9,180.0 237.0,180.7 237.1,179.3 237.2,177.1 237.3,175.6 237.4,175.5 237.5,176.6 237.6,176.3 237.7,175.4 237.8,176.7 237.9,179.5 238.0,180.2 238.1,177.8 238.2,178.7 238.3,176.9 238.4,179.5 238.5,178.0 238.6,176.8 238.7,173.1 238.8,173.0 238.9,201.2 239.0,197.2 239.1,193.9 239.2,191.0 239.3,188.6 239.4,186.6 239.5,184.8 239.6,183.4 239.7,182.1 239.8,181.1 239.9,180.2 240.0,179.4 240.1,178.8 240.2,178.3 240.3,178.7 240.4,182.4 240.5,178.7 240.6,176.8 240.7,176.6 240.8,177.4 240.9,176.2 241.0,176.1 241.1,176.0 241.2,175.9 241.3,175.8 241.4,179.2 241.5,178.0 241.6,175.6 241.7,175.5 241.8,175.5 241.9,175.9 242.0,175.4 242.1,175.4 242.2,175.4 242.3,175.4 242.4,175.4 242.5,170.4 242.6,170.5 242.7,172.8 242.8,174.3 242.9,175.1 243.0,182.4 243.1,180.8 243.2,181.7 243.3,184.7 243.4,186.4 243.5,191.2 243.6,188.3 243.7,187.9 243.8,186.4 243.9,182.9 244.0,180.0 244.1,177.4 244.2,177.6 244.3,180.4 244.4,180.4 244.5,177.7 244.6,176.6 244.7,177.2 244.8,175.9 244.9,174.8 245.0,172.9 245.1,172.9 245.2,173.7 245.3,179.0 245.4,181.7 245.5,180.9 245.6,176.8 245.7,178.1 245.8,182.1 245.9,188.1 246.0,183.5 246.1,186.9 246.2,184.0 246.3,182.8 246.4,182.4 246.5,183.7 246.6,181.4 246.7,179.8 246.8,178.2 246.9,180.8 247.0,183.2 247.1,180.5 247.2,176.9 247.3,174.9 247.4,176.8 247.5,185.8 247.6,183.0 247.7,182.7 247.8,181.5 247.9,179.9 248.0,179.7 248.1,184.3 248.2,185.8 248.3,181.5 248.4,176.5 248.5,174.1 248.6,173.4 248.7,173.6 248.8,176.2 248.9,178.9 249.0,177.6 249.1,174.3 249.2,172.5 249.3,174.6 249.4,174.0 249.5,174.4 249.6,172.0 249.7,175.5 249.8,173.3 249.9,175.5 250.0,177.3 250.1,183.1 250.2,181.2 250.3,177.3 250.4,174.5 250.5,176.9 250.6,178.1 250.7,174.1 250.8,174.4 250.9,176.8 251.0,179.5" fill="none" stroke="#111" stroke-width="1.3" stroke-linejoin="round"/>
<polyline points="370.0,51.8 370.1,53.9 370.2,56.4 370.3,54.0 370.4,51.3 370.5,50.6 370.6,52.1 370.7,50.8 370.8,51.1 370.9,51.8 371.0,55.6 371.1,63.8 371.2,62.7 371.3,58.1 371.4,58.9 371.5,56.9 371.6,57.8 371.7,55.5 371.8,78.8 371.9,74.9 372.0,71.5 372.1,68.7 372.2,66.3 372.3,64.3 372.4,62.6 372.5,61.2 372.6,59.9 372.7,58.9 372.8,58.0 372.9,57.3 373.0,56.7 373.1,56.1 373.2,55.7 373.3,55.3 373.4,56.1 373.5,56.4 373.6,54.8 373.7,54.3 373.8,54.1 373.9,54.0 374.0,55.1 374.1,54.5 374.2,58.6 374.3,55.7 374.4,54.7 374.5,54.3 374.6,54.4 374.7,62.2 374.8,61.0 374.9,58.3 375.0,55.4 375.1,54.5 375.2,53.4 375.3,53.3 375.4,54.4 375.5,53.3 375.6,53.9 375.7,53.5 375.8,54.6 375.9,54.0 376.0,55.6 376.1,56.7 376.2,55.9 376.3,54.6 376.4,53.6 376.5,52.4 376.6,53.2 376.7,52.8 376.8,51.8 376.9,52.5 377.0,54.7 377.1,53.9 377.2,53.1 377.3,54.2 377.4,56.2 377.5,53.3 377.6,60.8 377.7,56.6 377.8,53.9 377.9,52.8 378.0,52.8 378.1,55.2 378.2,59.4 378.3,58.5 378.4,56.9 378.5,77.8 378.6,74.0 378.7,70.8 378.8,68.1 378.9,65.8 379.0,63.9 379.1,62.2 379.2,60.9 379.3,59.7 379.4,58.7 379.5,57.8 379.6,57.1 379.7,56.5 379.8,56.0 379.9,55.6 380.0,55.2 380.1,54.9 380.2,56.0 380.3,56.6 380.4,56.0 380.5,54.5 380.6,54.1 380.7,53.8 380.8,53.7 380.9,54.0 381.0,55.6 381.1,54.6 381.2,54.7 381.3,53.9 381.4,54.5 381.5,55.4 381.6,54.0 381.7,53.3 381.8,53.3 381.9,53.3 382.0,53.9 382.1,55.5 382.2,56.4 382.3,59.1 382.4,59.1 382.5,57.4 382.6,56.3 382.7,58.6 382.8,57.8 382.9,55.8 383.0,72.0 383.1,69.1 383.2,66.7 383.3,64.6 383.4,62.8 383.5,61.4 383.6,60.1 383.7,59.1 383.8,58.2 383.9,57.4 384.0,57.8 384.1,58.0 384.2,59.1 384.3,56.7 384.4,55.3 384.5,54.7 384.6,54.5 384.7,54.3 384.8,55.1 384.9,56.7 385.0,55.8 385.1,55.3 385.2,54.0 385.3,54.0 385.4,53.7 385.5,54.7 385.6,54.5 385.7,54.3 385.8,53.9 385.9,57.6 386.0,60.8 386.1,61.1 386.2,61.3 386.3,62.7 386.4,61.8 386.5,56.8 386.6,52.9 386.7,54.7 386.8,58.6 386.9,57.5 387.0,54.2 387.1,55.1 387.2,57.7 387.3,59.4 387.4,58.0 387.5,58.3 387.6,62.9 387.7,59.8 387.8,57.4 387.9,57.0 388.0,57.7 388.1,57.3 388.2,60.7 388.3,56.4 388.4,55.5 388.5,57.4 388.6,60.4 388.7,56.9 388.8,55.5 388.9,54.2 389.0,54.2 389.1,54.0 389.2,54.6 389.3,53.2 389.4,52.5 389.5,53.9 389.6,57.4 389.7,58.9 389.8,57.0 389.9,53.9 390.0,53.8 390.1,56.5 390.2,55.9 390.3,55.1 390.4,52.0 390.5,52.2 390.6,52.0 390.7,53.0 390.8,51.2 390.9,51.0 391.0,53.8 391.1,55.3 391.2,56.2 391.3,54.8 391.4,56.8 391.5,56.3 391.6,56.9 391.7,55.5 391.8,55.9 391.9,57.9 392.0,59.6 392.1,59.6 392.2,57.7 392.3,53.2 392.4,51.6 392.5,51.9 392.6,53.2 392.7,53.9 392.8,53.9 392.9,54.6 393.0,53.3 393.1,51.7 393.2,52.4 393.3,55.7 393.4,56.2 393.5,55.8 393.6,54.6 393.7,54.1 393.8,51.1 393.9,59.0 394.0,59.3 394.1,61.7 394.2,61.4 394.3,69.6 394.4,65.3 394.5,63.9 394.6,62.4 394.7,60.1 394.8,57.7 394.9,58.2 395.0,59.3 395.1,61.3 395.2,60.2 395.3,59.5 395.4,56.4 395.5,56.3 395.6,55.1 395.7,58.0 395.8,58.6 395.9,57.2 396.0,55.1 396.1,55.2 396.2,55.2 396.3,53.7 396.4,52.4 396.5,55.6 396.6,57.8 396.7,59.1 396.8,58.1 396.9,55.5 397.0,53.9 397.1,54.8 397.2,56.5 397.3,55.5 397.4,55.4 397.5,56.7 397.6,57.1 397.7,56.3 397.8,53.9 397.9,61.7 398.0,72.0 398.1,69.1 398.2,66.7 398.3,64.6 398.4,62.8 398.5,61.4 398.6,60.1 398.7,59.1 398.8,58.2 398.9,57.4 399.0,56.7 399.1,59.6 399.2,59.4 399.3,59.3 399.4,57.8 399.5,54.8 399.6,54.5 399.7,54.3 399.8,54.1 399.9,54.0 400.0,53.9 400.1,53.8 400.2,53.7 400.3,56.0 400.4,56.3 400.5,55.0 400.6,53.6 400.7,58.9 400.8,57.6 400.9,57.5 401.0,64.4 401.1,63.1 401.2,60.8 401.3,60.4 401.4,69.5 401.5,67.1 401.6,63.9 401.7,63.7 401.8,62.1 401.9,60.5 402.0,60.5 402.1,61.0 402.2,59.3 402.3,57.6 402.4,57.4 402.5,57.0 402.6,55.4 402.7,56.0 402.8,55.7 402.9,54.8 403.0,55.0 403.1,55.6 403.2,55.6 403.3,52.7 403.4,52.0 403.5,59.8 403.6,59.4 403.7,60.2 403.8,58.0 403.9,61.1 404.0,60.2 404.1,61.6 404.2,61.2 404.3,67.8 404.4,66.0 404.5,63.5 404.6,60.0 404.7,60.5 404.8,61.2 404.9,59.3 405.0,56.4 405.1,54.0 405.2,54.9 405.3,55.8 405.4,56.7 405.5,54.1 405.6,51.4 405.7,51.8 405.8,52.8 405.9,54.0 406.0,53.8 406.1,53.4 406.2,52.6 406.3,51.2 406.4,50.4 406.5,53.2 406.6,55.4 406.7,55.6 406.8,53.5 406.9,50.9 407.0,49.8 407.1,50.0 407.2,52.1 407.3,52.3 407.4,50.7 407.5,50.9 407.6,51.9 407.7,52.0 407.8,49.5 407.9,52.5 408.0,54.3 408.1,54.6 408.2,54.5 408.3,54.8 408.4,53.7 408.5,52.5 408.6,51.1 408.7,58.0 408.8,56.6 408.9,55.5 409.0,57.0 409.1,60.9 409.2,57.8 409.3,64.4 409.4,60.5 409.5,60.0 409.6,59.1 409.7,57.9 409.8,56.3 409.9,52.5 410.0,51.3 410.1,55.7 410.2,59.1 410.3,60.8 410.4,57.4 410.5,54.8 410.6,52.3 410.7,52.8 410.8,53.2 410.9,54.4 411.0,56.3 411.1,55.6 411.2,54.7 411.3,51.7 411.4,52.9 411.5,52.5 411.6,53.3 411.7,52.4 411.8,55.0 411.9,55.7 412.0,54.1 412.1,54.4 412.2,54.1 412.3,75.4 412.4,72.0 412.5,69.1 412.6,66.7 412.7,64.6 412.8,62.8 412.9,64.9 413.0,62.7 413.1,60.8 413.2,67.3 413.3,67.3 413.4,63.8 413.5,59.0 413.6,58.3 413.7,57.1 413.8,62.4 413.9,60.1 414.0,58.2 414.1,56.6 414.2,56.1 414.3,55.6 414.4,55.2 414.5,54.4 414.6,54.1 414.7,54.7 414.8,53.5 414.9,53.5 415.0,53.4 415.1,53.4 415.2,53.4 415.3,53.3 415.4,53.3 415.5,53.3 415.6,53.3 415.7,53.3 415.8,53.3 415.9,53.8 416.0,54.4 416.1,54.0 416.2,53.5 416.3,55.9 416.4,57.4 416.5,55.6 416.6,53.1 416.7,53.4 416.8,52.7 416.9,52.2 417.0,52.8 417.1,54.6 417.2,55.3 417.3,56.0 417.4,56.9 417.5,57.7 417.6,54.6 417.7,55.0 417.8,57.0 417.9,54.8 418.0,50.2 418.1,48.8 418.2,52.1 418.3,55.5 418.4,64.6 418.5,62.1 418.6,60.7 418.7,58.9 418.8,57.9 418.9,57.0 419.0,57.7 419.1,56.6 419.2,55.3 419.3,53.3 419.4,53.1 419.5,54.5 419.6,54.9 419.7,55.9 419.8,55.6 419.9,53.7 420.0,51.8 420.1,52.1 420.2,53.1 420.3,54.8 420.4,56.1 420.5,57.3 420.6,61.7 420.7,59.9 420.8,58.9 420.9,57.7 421.0,57.2 421.1,54.7 421.2,54.2 421.3,53.7 421.4,54.7 421.5,57.0 421.6,59.7 421.7,59.5 421.8,58.7 421.9,56.0 422.0,55.2 422.1,54.1 422.2,52.6 422.3,57.9 422.4,56.7 422.5,57.2 422.6,56.9 422.7,55.5 422.8,54.3 422.9,54.1 423.0,52.7 423.1,50.7 423.2,51.7 423.3,53.6 423.4,54.9 423.5,53.5 423.6,51.7 423.7,52.1 423.8,51.6 423.9,51.5 424.0,55.8 424.1,55.7 424.2,55.4 424.3,57.6 424.4,54.9 424.5,54.6 424.6,53.5 424.7,55.7 424.8,55.1 424.9,55.3 425.0,53.9 425.1,53.6 425.2,54.4 425.3,53.2 425.4,52.6 425.5,53.0 425.6,52.1 425.7,52.6 425.8,53.8 425.9,52.2 426.0,49.1 426.1,51.1 426.2,56.9 426.3,58.2 426.4,53.1 426.5,54.2 426.6,55.1 426.7,57.7 426.8,57.0 426.9,54.2 427.0,54.2 427.1,54.7 427.2,55.4 427.3,55.0 427.4,57.4 427.5,57.6 427.6,56.5 427.7,52.2 427.8,52.4 427.9,54.1 428.0,56.3 428.1,51.8 428.2,49.5 428.3,50.1 428.4,55.2 428.5,57.6 428.6,57.8 428.7,56.2 428.8,66.1 428.9,61.7 429.0,57.2 429.1,53.5 429.2,53.3 429.3,53.4 429.4,54.0 429.5,53.0 429.6,52.7 429.7,51.9 429.8,59.4 429.9,58.9 430.0,61.4 430.1,60.9 430.2,59.7 430.3,55.9 430.4,55.2 430.5,54.3 430.6,52.9 430.7,52.7 430.8,94.0 430.9,87.7 431.0,82.4 431.1,77.9 431.2,74.1 431.3,70.9 431.4,68.2 431.5,65.9 431.6,63.9 431.7,62.3 431.8,60.9 431.9,59.7 432.0,58.7 432.1,57.9 432.2,57.2 432.3,56.5 432.4,56.0 432.5,55.6 432.6,55.2 432.7,56.3 432.8,56.1 432.9,54.4 433.0,54.2 433.1,54.1 433.2,53.9 433.3,53.8 433.4,54.1 433.5,54.9 433.6,54.1 433.7,53.5 433.8,53.5 433.9,53.4 434.0,53.4 434.1,53.4 434.2,53.3 434.3,53.3 434.4,50.8 434.5,51.6 434.6,52.0 434.7,51.1 434.8,51.3 434.9,77.0 435.0,73.3 435.1,70.3 435.2,67.6 435.3,65.4 435.4,63.5 435.5,62.0 435.6,60.6 435.7,59.5 435.8,58.5 435.9,57.7 436.0,57.0 436.1,56.4 436.2,55.9 436.3,55.5 436.4,55.2 436.5,56.4 436.6,55.5 436.7,54.4 436.8,54.2 436.9,54.0 437.0,53.9 437.1,53.8 437.2,53.7 437.3,53.6 437.4,53.6 437.5,53.5 437.6,53.5 437.7,58.4 437.8,58.5 437.9,56.4 438.0,57.3 438.1,60.7 438.2,62.4 438.3,60.6 438.4,58.9 438.5,56.3 438.6,55.6 438.7,55.4 438.8,55.0 438.9,60.0 439.0,64.7 439.1,65.0 439.2,63.0 439.3,64.6 439.4,62.7 439.5,61.0 439.6,58.7 439.7,58.7 439.8,57.5 439.9,56.2 440.0,53.8 440.1,52.7 440.2,52.4 440.3,54.2 440.4,59.4 440.5,60.3 440.6,61.7 440.7,62.6 440.8,62.1 440.9,59.7 441.0,58.3 441.1,55.8 441.2,54.7 441.3,55.3 441.4,58.2 441.5,62.4 441.6,58.0 441.7,57.4 441.8,59.5 441.9,60.9 442.0,57.0 442.1,53.6 442.2,52.0 442.3,58.1 442.4,57.9 442.5,57.5 442.6,58.2 442.7,57.6 442.8,57.5 442.9,58.0 443.0,58.1 443.1,55.2 443.2,55.0 443.3,62.7 443.4,63.5 443.5,61.3 443.6,58.4 443.7,57.3 443.8,56.7 443.9,56.2 444.0,56.3 444.1,57.1 444.2,58.1 444.3,57.6 444.4,60.1 444.5,57.4 444.6,54.0 444.7,53.2 444.8,54.7 444.9,51.6 445.0,50.7 445.1,52.0 445.2,56.4 445.3,56.6 445.4,55.4 445.5,54.3 445.6,54.2 445.7,54.0 445.8,53.8 445.9,54.5 446.0,53.9 446.1,54.2 446.2,55.7 446.3,58.0 446.4,53.2 446.5,51.3 446.6,51.3 446.7,52.9 446.8,53.1 446.9,52.2 447.0,53.7 447.1,54.6 447.2,55.5 447.3,55.4 447.4,61.5 447.5,61.6 447.6,57.6 447.7,56.6 447.8,58.2 447.9,61.4 448.0,58.5 448.1,57.1 448.2,58.7 448.3,61.1 448.4,76.4 448.5,72.8 448.6,69.8 448.7,67.3 448.8,65.1 448.9,63.3 449.0,61.7 449.1,60.4 449.2,59.3 449.3,58.4 449.4,57.6 449.5,56.9 449.6,56.3 449.7,55.9 449.8,55.4 449.9,55.1 450.0,58.2 450.1,57.4 450.2,54.6 450.3,54.4 450.4,56.2 450.5,55.2 450.6,54.4 450.7,53.8 450.8,54.4 450.9,53.6 451.0,53.5 451.1,54.1 451.2,55.0 451.3,54.1 451.4,60.5 451.5,61.2 451.6,60.6 451.7,54.9 451.8,53.3 451.9,53.5 452.0,55.8 452.1,57.0 452.2,59.8 452.3,59.0 452.4,58.0 452.5,55.1 452.6,57.7 452.7,57.7 452.8,58.2 452.9,57.2 453.0,54.5 453.1,54.6 453.2,55.4 453.3,55.7 453.4,53.5 453.5,52.7 453.6,57.5 453.7,56.4 453.8,55.3 453.9,55.9 454.0,53.3 454.1,53.5 454.2,55.3 454.3,59.6 454.4,59.5 454.5,59.3 454.6,54.6 454.7,52.2 454.8,54.5 454.9,54.8 455.0,53.4 455.1,53.6 455.2,53.7 455.3,53.5 455.4,54.0 455.5,55.2 455.6,55.4 455.7,54.2 455.8,52.4 455.9,50.5 456.0,50.8 456.1,52.1 456.2,52.7 456.3,58.1 456.4,58.3 456.5,62.9 456.6,60.7 456.7,59.1 456.8,57.8 456.9,56.9 457.0,57.8 457.1,56.4 457.2,55.6 457.3,52.9 457.4,53.2 457.5,53.8 457.6,55.3 457.7,57.2 457.8,55.3 457.9,54.3 458.0,52.3 458.1,53.0 458.2,53.0 458.3,53.0 458.4,53.0 458.5,86.5 458.6,81.4 458.7,77.1 458.8,73.4 458.9,70.3 459.0,67.7 459.1,65.4 459.2,63.6 459.3,62.0 459.4,60.6 459.5,59.5 459.6,58.5 459.7,57.7 459.8,57.0 459.9,56.4 460.0,55.9 460.1,56.1 460.2,59.4 460.3,57.6 460.4,54.9 460.5,54.4 460.6,54.2 460.7,54.0 460.8,53.9 460.9,53.8 461.0,53.7 461.1,53.8 461.2,55.8 461.3,56.0 461.4,56.3 461.5,57.2 461.6,55.7 461.7,53.4 461.8,53.3 461.9,53.3 462.0,54.6 462.1,56.6 462.2,56.6 462.3,53.5 462.4,60.2 462.5,59.8 462.6,58.6 462.7,55.2 462.8,54.6 462.9,55.9 463.0,58.0 463.1,55.9 463.2,56.8 463.3,54.6 463.4,54.2 463.5,54.1 463.6,58.1 463.7,56.6 463.8,54.6 463.9,55.5 464.0,57.9 464.1,55.5 464.2,55.3 464.3,53.4 464.4,53.3 464.6,51.1 464.7,51.8 464.8,51.7 464.9,53.2 465.0,58.5 465.1,57.7 465.2,58.3 465.3,60.0 465.4,59.4 465.5,58.0 465.6,56.4 465.7,54.7 465.8,54.2 465.9,55.3 466.0,58.4 466.1,60.4 466.2,59.4 466.3,55.0 466.4,52.2 466.5,50.2 466.6,51.2 466.7,53.9 466.8,53.9 466.9,51.7 467.0,54.2 467.1,58.4 467.2,58.2 467.3,55.3 467.4,53.6 467.5,51.5 467.6,50.3 467.7,51.3 467.8,52.6 467.9,54.1 468.0,56.6 468.1,58.2 468.2,57.9 468.3,55.1 468.4,52.4 468.5,53.4 468.6,56.4 468.7,59.0 468.8,55.9 468.9,52.3 469.0,52.0 469.1,51.2 469.2,51.5 469.3,50.3 469.4,56.5 469.5,57.4 469.6,59.1 469.7,55.8 469.8,54.7 469.9,52.7 470.0,54.3 470.1,72.0 470.2,69.1 470.3,66.7 470.4,64.6 470.5,62.8 470.6,61.4 470.7,60.1 470.8,59.1 470.9,58.2 471.0,57.4 471.1,58.8 471.2,58.7 471.3,56.4 471.4,55.4 471.5,55.0 471.6,54.7 471.7,54.5 471.8,54.3 471.9,62.9 472.0,61.5 472.1,59.5 472.2,56.6 472.3,54.8 472.4,53.6 472.5,53.5 472.6,53.5 472.7,55.5 472.8,55.8 472.9,54.6 473.0,53.3 473.1,53.3 473.2,53.3 473.3,53.3 473.4,58.8 473.5,54.4 473.6,53.3 473.7,52.3 473.8,54.1 473.9,54.0 474.0,55.4 474.1,58.7 474.2,60.0 474.3,60.3 474.4,61.8 474.5,59.8 474.6,56.4 474.7,52.5 474.8,51.4 474.9,52.7 475.0,53.5 475.1,56.6 475.2,57.4 475.3,57.5 475.4,54.4 475.5,52.8 475.6,57.2 475.7,58.1 475.8,60.1 475.9,57.0 476.0,55.0 476.1,54.0 476.2,60.3 476.3,58.1 476.4,57.2 476.5,57.6 476.6,58.6 476.7,55.4 476.8,54.9 476.9,56.4 477.0,65.1 477.1,63.1 477.2,62.7 477.3,60.0 477.4,55.1 477.5,53.2 477.6,53.0 477.7,55.1 477.8,53.8 477.9,56.1 478.0,55.6 478.1,56.4 478.2,56.0 478.3,56.2 478.4,54.9 478.5,53.4 478.6,52.2 478.7,53.1 478.8,52.9 478.9,59.3 479.0,61.4 479.1,60.3 479.2,60.2 479.3,58.8 479.4,56.8 479.5,53.5 479.6,53.1 479.7,55.8 479.8,83.2 479.9,78.6 480.0,74.7 480.1,71.4 480.2,68.6 480.3,66.2 480.4,64.2 480.5,62.5 480.6,61.1 480.7,61.8 480.8,61.9 480.9,58.0 481.0,58.3 481.1,57.2 481.2,56.5 481.3,55.7 481.4,55.7 481.5,55.4 481.6,54.7 481.7,54.5 481.8,55.4 481.9,62.7 482.0,60.7 482.1,58.6 482.2,55.2 482.3,56.3 482.4,55.6 482.5,55.3 482.6,55.5 482.7,57.6 482.8,57.4 482.9,55.7 483.0,59.0 483.1,58.8 483.2,57.6 483.3,54.1 483.4,53.8 483.5,53.7 483.6,57.2 483.7,56.8 483.8,59.6 483.9,66.0 484.0,65.1 484.1,62.5 484.2,58.5 484.3,56.7 484.4,55.3 484.5,56.1 484.6,53.5 484.7,51.2 484.8,50.9 484.9,53.6 485.0,55.1 485.1,53.7 485.2,52.9 485.3,52.5 485.4,53.2 485.5,58.9 485.6,59.4 485.7,57.3 485.8,54.7 485.9,52.4 486.0,52.9 486.1,53.4 486.2,53.1 486.3,52.6 486.4,54.5 486.5,56.5 486.6,58.5 486.7,56.1 486.8,54.4 486.9,55.0 487.0,56.6 487.1,55.5 487.2,60.0 487.3,59.1 487.4,58.9 487.5,60.1 487.6,76.4 487.7,72.8 487.8,69.8 487.9,67.3 488.0,65.1 488.1,63.3 488.2,61.7 488.3,60.4 488.4,59.3 488.5,58.4 488.6,57.6 488.7,56.9 488.8,56.3 488.9,55.9 489.0,56.1 489.1,55.1 489.2,58.7 489.3,58.1 489.4,58.9 489.5,58.3 489.6,58.8 489.7,56.5 489.8,54.5 489.9,53.7 490.0,53.6 490.1,53.6 490.2,55.6 490.3,57.7 490.4,56.8 490.5,60.5 490.6,59.0 490.7,57.3 490.8,59.3 490.9,61.4 491.0,62.2 491.1,60.3 491.2,57.6 491.3,55.4 491.4,52.5 491.5,51.0 491.6,52.4 491.7,54.7 491.8,55.9 491.9,56.8 492.0,55.3 492.1,52.7 492.2,51.2 492.3,52.2 492.4,52.1 492.5,52.6 492.6,52.5 492.7,52.5 492.8,51.7 492.9,51.9 493.0,57.9 493.1,57.7 493.2,58.9 493.3,57.5 493.4,55.6 493.5,53.8 493.6,53.7 493.7,56.0 493.8,65.0 493.9,70.4 494.0,68.0 494.1,67.6 494.2,64.3 494.3,60.7 494.4,64.9 494.5,64.8 494.6,62.0 494.7,60.3 494.8,60.2 494.9,61.2 495.0,59.9 495.1,66.2 495.2,66.8 495.3,66.7 495.4,63.9 495.5,57.4 495.6,54.5 495.7,55.1 495.8,54.5 495.9,55.1 496.0,57.5 496.1,61.1 496.2,59.5 496.3,55.5 496.4,53.4 496.5,53.1 496.6,54.9 496.7,55.4 496.8,53.8 496.9,52.2 497.0,53.7 497.1,57.1 497.2,59.1 497.3,58.4 497.4,52.9 497.5,51.3 497.6,56.7 497.7,61.4 497.8,63.7 497.9,59.1 498.0,58.1 498.1,62.4 498.2,63.8 498.3,62.2 498.4,60.7 498.5,58.3 498.6,55.6 498.7,53.6 498.8,54.4 498.9,56.5 499.0,58.2 499.1,55.5 499.2,53.7 499.3,53.6 499.4,54.0 499.5,52.7 499.6,52.5 499.7,54.3 499.8,53.7 499.9,52.5 500.0,50.9 500.1,51.9 500.2,52.6 500.3,52.8 500.4,53.0 500.5,53.5 500.6,52.6 500.7,52.7 500.8,55.0 500.9,57.2 501.0,54.0 501.1,53.5 501.2,53.1 501.3,51.7 501.4,50.0 501.5,52.9 501.6,55.6 501.7,55.5 501.8,55.4 501.9,56.6 502.0,54.9 502.1,52.9 502.2,53.5 502.3,53.4 502.4,59.3 502.5,58.9 502.6,58.4 502.7,57.9 502.8,57.9 502.9,57.4 503.0,55.5 503.1,54.8 503.2,54.8 503.3,54.4 503.4,53.0 503.5,52.8 503.6,54.0 503.7,56.3 503.8,54.9 503.9,53.9 504.0,54.4 504.1,54.2 504.2,53.5 504.3,53.1 504.4,53.4 504.5,53.0 504.6,68.6 504.7,64.5 504.8,62.0 504.9,60.3 505.0,60.6 505.1,78.8 505.2,74.9 505.3,71.5 505.4,68.7 505.5,66.3 505.6,64.3 505.7,62.6 505.8,61.2 505.9,59.9 506.0,58.9 506.1,58.3 506.2,57.3 506.3,56.7 506.4,56.1 506.5,55.7 506.6,55.3 506.7,55.0 506.8,54.7 506.9,54.5 507.0,54.3 507.1,54.3 507.2,54.8 507.3,53.9 507.4,53.8 507.5,53.7 507.6,53.6 507.7,53.5 507.8,53.5 507.9,53.6 508.0,53.4 508.1,53.9 508.2,59.1 508.3,57.0 508.4,54.7 508.5,73.7 508.6,70.6 508.7,67.9 508.8,65.6 508.9,63.7 509.0,65.3 509.1,65.5 509.2,62.9 509.3,64.1 509.4,62.9 509.5,62.1 509.6,60.2 509.7,60.3 509.8,61.0 509.9,60.7 510.0,57.2 510.1,56.1 510.2,54.4 510.3,63.4 510.4,62.1 510.5,63.3 510.6,68.7 510.7,65.9 510.8,63.7 510.9,61.7 511.0,63.0 511.1,60.5 511.2,57.9 511.3,57.3 511.4,58.7 511.5,58.8 511.6,59.5 511.7,62.6 511.8,61.5 511.9,60.6 512.0,57.3 512.1,56.7 512.2,57.1 512.3,57.6 512.4,56.7 512.5,55.0 512.6,56.4 512.7,59.2 512.8,59.4 512.9,55.3 513.0,53.5 513.1,52.5 513.2,52.9 513.3,53.4 513.4,55.5 513.5,57.1 513.6,66.0 513.7,64.6 513.8,60.9 513.9,58.6 514.0,59.5 514.1,57.9 514.2,54.5 514.3,53.0 514.4,52.4 514.5,51.4 514.6,53.2 514.7,54.4 514.8,63.1 514.9,59.7 515.0,60.4 515.1,59.6 515.2,60.7 515.3,57.2 515.4,55.9 515.5,54.6 515.6,56.2 515.7,57.0 515.8,57.8 515.9,56.2 516.0,54.9 516.1,55.0 516.2,54.5 516.3,53.8 516.4,52.8 516.5,52.2 516.6,53.5 516.7,53.4 516.8,55.2 516.9,55.9 517.0,55.1 517.1,51.0 517.2,50.3 517.3,60.0 517.4,60.2 517.5,60.4 517.6,61.7 517.7,65.7 517.8,62.2 517.9,62.3 518.0,61.6 518.1,62.3 518.2,63.2 518.3,62.6 518.4,59.2 518.5,58.7 518.6,58.5 518.7,57.3 518.8,56.7 518.9,56.4 519.0,55.2 519.1,54.5 519.2,55.0 519.3,56.1 519.4,56.6 519.5,59.4 519.6,59.4 519.7,57.9 519.8,54.6 519.9,53.4 520.0,54.6 520.1,71.0 520.2,68.3 520.3,66.0 520.4,64.0 520.5,62.3 520.6,60.9 520.7,59.7 520.8,58.7 520.9,57.9 521.0,57.2 521.1,56.6 521.2,56.0 521.3,55.6 521.4,55.2 521.5,54.9 521.6,54.7 521.7,54.4 521.8,54.6 521.9,57.5 522.0,59.0 522.1,58.4 522.2,55.4 522.3,54.7 522.4,56.1 522.5,58.7 522.6,55.8 522.7,53.6 522.8,56.9 522.9,55.8 523.0,55.8 523.1,56.1 523.2,55.4 523.3,53.3 523.4,53.3 523.5,53.3 523.6,58.3 523.7,58.2 523.8,57.6 523.9,56.9 524.0,56.5 524.1,56.1 524.2,56.9 524.3,57.5 524.4,55.9 524.5,54.8 524.6,56.3 524.7,58.2 524.8,55.4 524.9,54.6 525.0,54.7 525.1,56.0 525.2,54.8 525.3,61.0 525.4,79.8 525.5,75.7 525.6,72.3 525.7,69.3 525.8,66.9 525.9,64.8 526.0,63.0 526.1,61.5 526.2,60.2 526.3,59.1 526.4,58.2 526.5,57.4 526.6,56.8 526.7,56.2 526.8,55.8 526.9,55.4 527.0,55.0 527.1,54.8 527.2,54.5 527.3,63.2 527.4,60.5 527.5,57.8 527.6,54.2 527.7,56.1 527.8,55.9 527.9,56.2 528.0,56.5 528.1,73.6 528.2,70.5 528.3,68.0 528.4,66.5 528.5,64.1 528.6,59.9 528.7,59.5 528.8,60.9 528.9,57.2 529.0,56.8 529.1,55.4 529.2,55.6 529.3,55.2 529.4,58.0 529.5,57.5 529.6,54.4 529.7,54.2 529.8,56.2 529.9,56.5 530.0,55.3 530.1,53.4 530.2,53.1 530.3,50.6 530.4,50.6 530.5,52.6 530.6,55.1 530.7,55.6 530.8,55.0 530.9,56.4 531.0,55.7 531.1,54.5 531.2,52.3 531.3,52.1 531.4,53.0 531.5,52.7 531.6,52.1 531.7,50.7 531.8,49.8 531.9,50.5 532.0,52.8 532.1,55.5 532.2,55.1 532.3,54.6 532.4,55.9 532.5,55.3 532.6,54.2 532.7,54.3 532.8,58.1 532.9,58.1 533.0,56.3 533.1,52.2 533.2,51.2 533.3,51.7 533.4,53.0 533.5,53.7 533.6,54.5 533.7,53.9 533.8,55.2 533.9,53.4 534.0,53.9 534.1,56.7 534.2,55.1 534.3,54.3 534.4,52.9 534.5,55.5 534.6,57.0 534.7,58.3 534.8,54.8 534.9,51.5 535.0,51.6 535.1,52.6 535.2,52.7 535.3,51.6 535.4,51.5 535.5,51.1 535.6,52.6 535.7,53.8 535.8,63.7 535.9,59.5 536.0,57.0 536.1,55.1 536.2,55.4 536.3,54.4 536.4,53.8 536.5,55.2 536.6,56.5 536.7,54.7 536.8,52.3 536.9,55.0 537.0,58.4 537.1,56.7 537.2,52.9 537.3,52.3 537.4,53.1 537.5,51.6 537.6,50.1 537.7,50.1 537.8,50.4 537.9,50.6 538.0,51.3 538.1,53.9 538.2,55.7 538.3,55.5 538.4,54.3 538.5,54.0 538.6,63.3 538.7,61.5 538.8,58.0 538.9,56.1 539.0,56.8 539.1,57.4 539.2,61.4 539.3,61.6 539.4,60.4 539.5,57.2 539.6,54.0 539.7,54.2 539.8,55.9 539.9,56.6 540.0,57.5 540.1,56.3 540.2,56.1 540.3,53.9 540.4,56.0 540.5,72.0 540.6,69.1 540.7,66.7 540.8,64.6 540.9,62.8 541.0,61.4 541.1,60.2 541.2,59.9 541.3,58.3 541.4,58.2 541.5,59.2 541.6,57.2 541.7,55.7 541.8,55.4 541.9,55.0 542.0,54.7 542.1,55.8 542.2,54.3 542.3,54.1 542.4,54.0 542.5,53.9 542.6,53.8 542.7,53.8 542.8,53.6 542.9,53.8 543.0,53.5 543.1,53.4 543.2,53.4 543.3,53.4 543.4,53.3 543.5,53.3 543.6,53.3 543.7,53.3 543.8,63.8 543.9,69.9 544.0,66.9 544.1,64.0 544.2,63.6 544.3,63.8 544.4,61.3 544.5,57.4 544.6,55.6 544.7,56.1 544.8,58.3 544.9,59.6 545.0,58.3 545.1,56.2 545.2,56.8 545.3,57.9 545.4,59.4 545.5,60.3 545.6,57.8 545.7,56.1 545.8,53.1 545.9,54.0 546.0,54.7 546.1,57.5 546.2,57.4 546.3,56.2 546.4,54.0 546.5,53.6 546.6,53.5 546.7,54.6 546.8,53.1 546.9,53.5 547.0,53.5 547.1,53.4 547.2,55.8 547.3,64.3 547.4,64.3 547.5,63.7 547.6,60.9 547.7,59.5 547.8,56.9 547.9,55.5 548.0,56.1 548.1,58.6 548.2,58.8 548.3,56.7 548.4,54.3 548.5,53.9 548.6,52.9 548.7,52.7 548.8,52.9 548.9,53.7 549.0,53.2 549.1,52.4 549.2,53.2 549.3,55.4 549.4,53.8 549.5,52.1 549.6,51.8 549.7,53.1 549.8,52.8 549.9,51.4 550.0,51.4 550.1,52.5 550.2,55.3 550.3,56.3 550.4,56.8 550.5,55.8 550.6,75.4 550.7,72.0 550.8,69.1 550.9,66.7 551.0,64.6 551.1,62.8 551.2,61.4 551.3,60.1 551.4,59.0 551.5,58.1 551.6,57.4 551.7,62.0 551.8,61.0 551.9,66.7 552.0,73.0 552.1,72.5 552.2,68.8 552.3,67.2 552.4,66.3 552.5,62.2 552.6,57.6 552.7,57.7 552.8,59.7 552.9,63.0 553.0,61.9 553.1,61.2 553.2,56.6 553.3,55.1 553.4,54.5 553.5,55.8 553.6,56.2 553.7,64.2 553.8,59.4 553.9,60.3 554.0,58.0 554.1,57.3 554.2,55.9 554.3,54.1 554.4,53.1 554.5,51.1 554.6,50.3 554.7,50.0 554.8,51.6 554.9,52.5 555.0,51.7 555.1,51.7 555.2,52.6 555.3,55.1 555.4,54.5 555.5,53.0 555.6,51.2 555.7,53.1 555.8,56.8 555.9,57.3 556.0,55.8 556.1,52.5 556.2,52.8 556.3,53.0 556.4,54.2 556.5,52.6 556.6,52.5 556.7,52.2 556.8,51.6 556.9,50.3 557.0,51.9 557.1,52.2 557.2,52.4 557.3,52.1 557.4,55.0 557.5,57.0 557.6,59.9 557.7,56.1 557.8,53.9 557.9,52.2 558.0,52.3 558.1,51.3 558.2,51.8 558.3,52.0 558.4,54.8 558.5,54.2 558.6,53.6 558.7,54.3 558.8,52.9 558.9,50.9 559.0,50.5" fill="none" stroke="#111" stroke-width="1.3" stroke-linejoin="round"/>
<polyline points="370.0,115.7 370.1,115.5 370.2,116.5 370.3,118.4 370.4,118.9 370.5,117.8 370.6,116.3 370.7,116.7 370.8,118.8 370.9,119.9 371.0,117.9 371.1,115.8 371.2,116.7 371.3,118.4 371.4,117.4 371.5,115.9 371.6,115.4 371.7,115.8 371.8,115.7 371.9,116.0 372.0,116.7 372.1,117.3 372.2,117.2 372.3,117.0 372.4,118.0 372.5,117.2 372.6,116.3 372.7,115.5 372.8,116.2 372.9,115.8 373.0,116.2 373.1,116.5 373.2,117.1 373.3,116.4 373.4,116.0 373.5,132.0 373.6,129.8 373.7,128.0 373.8,126.4 373.9,125.1 374.0,124.0 374.1,123.0 374.2,122.2 374.3,121.5 374.4,121.0 374.5,120.5 374.6,120.1 374.7,119.7 374.8,119.4 374.9,121.6 375.0,120.3 375.1,119.8 375.2,118.6 375.3,118.5 375.4,118.4 375.5,125.7 375.6,125.3 375.7,126.1 375.8,125.0 375.9,124.0 376.0,122.1 376.1,120.5 376.2,119.0 376.3,119.3 376.4,119.6 376.5,119.2 376.6,122.9 376.7,131.1 376.8,128.3 376.9,125.9 377.0,124.0 377.1,123.2 377.2,121.6 377.3,126.3 377.4,124.2 377.5,122.1 377.6,119.7 377.7,120.3 377.8,120.5 377.9,119.9 378.0,118.0 378.1,118.1 378.2,118.1 378.3,117.5 378.4,117.4 378.5,117.6 378.6,117.7 378.7,117.4 378.8,117.9 378.9,117.9 379.0,118.9 379.1,119.2 379.2,117.8 379.3,115.7 379.4,115.7 379.5,116.6 379.6,117.9 379.7,117.9 379.8,117.7 379.9,117.0 380.0,117.0 380.1,117.4 380.2,117.8 380.3,118.1 380.4,119.6 380.5,120.9 380.6,119.1 380.7,118.4 380.8,119.2 380.9,119.4 381.0,118.3 381.1,118.6 381.2,118.6 381.3,117.5 381.4,123.2 381.5,122.5 381.6,123.0 381.7,123.2 381.8,122.5 381.9,122.9 382.0,141.4 382.1,137.8 382.2,134.7 382.3,132.1 382.4,129.9 382.5,128.1 382.6,126.5 382.7,125.1 382.8,124.0 382.9,123.1 383.0,122.3 383.1,129.1 383.2,128.0 383.3,132.0 383.4,131.1 383.5,130.2 383.6,128.3 383.7,126.2 383.8,124.2 383.9,122.8 384.0,122.3 384.1,123.2 384.2,124.3 384.3,123.5 384.4,121.0 384.5,120.6 384.6,122.2 384.7,122.1 384.8,126.9 384.9,125.6 385.0,123.9 385.1,121.6 385.2,120.9 385.3,122.6 385.4,122.4 385.5,121.5 385.6,120.1 385.7,120.0 385.8,119.3 385.9,119.3 386.0,120.3 386.1,121.7 386.2,120.4 386.3,118.4 386.4,117.9 386.5,118.2 386.6,118.3 386.7,117.1 386.8,118.5 386.9,120.6 387.0,120.8 387.1,119.4 387.2,126.9 387.3,124.0 387.4,121.0 387.5,119.3 387.6,120.5 387.7,120.5 387.8,120.0 387.9,119.2 388.0,120.6 388.1,122.7 388.2,122.5 388.3,119.4 388.4,119.6 388.5,120.2 388.6,119.4 388.7,148.2 388.8,143.5 388.9,139.6 389.0,136.2 389.1,133.4 389.2,131.0 389.3,129.0 389.4,127.3 389.5,125.8 389.6,124.6 389.7,123.5 389.8,122.7 389.9,121.9 390.0,121.3 390.1,120.7 390.2,120.3 390.3,119.9 390.4,119.6 390.5,119.3 390.6,119.1 390.7,119.4 390.8,118.7 390.9,119.2 391.0,121.7 391.1,122.0 391.2,121.1 391.3,120.5 391.4,119.9 391.5,119.2 391.6,118.0 391.7,118.0 391.8,118.0 391.9,120.6 392.0,121.2 392.1,121.5 392.2,120.7 392.3,128.7 392.4,126.4 392.5,122.6 392.6,120.9 392.7,120.3 392.8,119.7 392.9,117.7 393.0,117.7 393.1,119.2 393.2,118.8 393.3,117.5 393.4,120.7 393.5,121.1 393.6,121.5 393.7,142.0 393.8,138.3 393.9,135.1 394.0,132.5 394.1,130.2 394.2,128.4 394.3,126.7 394.4,125.3 394.5,124.2 394.6,123.2 394.7,130.0 394.8,128.2 394.9,125.2 395.0,123.9 395.1,123.7 395.2,123.5 395.3,122.4 395.4,127.0 395.5,126.4 395.6,126.4 395.7,126.3 395.8,126.3 395.9,125.6 396.0,123.8 396.1,121.8 396.2,121.1 396.3,120.9 396.4,120.8 396.5,121.3 396.6,120.8 396.7,118.4 396.8,118.1 396.9,119.0 397.0,120.6 397.1,118.6 397.2,119.2 397.3,120.0 397.4,120.6 397.5,118.6 397.6,118.0 397.7,118.0 397.8,125.1 397.9,123.5 398.0,123.5 398.1,123.6 398.2,123.7 398.3,122.2 398.4,120.3 398.5,119.6 398.6,119.6 398.7,126.0 398.8,124.6 398.9,123.2 399.0,122.8 399.1,122.0 399.2,121.1 399.3,119.5 399.4,119.5 399.5,120.4 399.6,120.4 399.7,118.7 399.8,118.5 399.9,118.5 400.0,119.7 400.1,119.2 400.2,125.8 400.3,123.5 400.4,123.1 400.5,147.2 400.6,142.7 400.7,138.9 400.8,135.6 400.9,132.9 401.0,130.6 401.1,128.6 401.2,126.9 401.3,125.5 401.4,124.4 401.5,123.3 401.6,122.8 401.7,121.8 401.8,121.2 401.9,120.6 402.0,122.0 402.1,122.8 402.2,127.0 402.3,126.6 402.4,126.1 402.5,124.7 402.6,121.6 402.7,125.9 402.8,124.4 402.9,123.6 403.0,122.3 403.1,122.0 403.2,121.7 403.3,122.1 403.4,121.0 403.5,120.2 403.6,120.7 403.7,122.1 403.8,122.4 403.9,121.9 404.0,122.7 404.1,122.2 404.2,119.8 404.3,118.0 404.4,117.4 404.5,117.1 404.6,116.7 404.7,116.3 404.8,116.0 404.9,116.2 405.0,117.3 405.1,125.9 405.2,123.7 405.3,122.2 405.4,121.5 405.5,121.1 405.6,120.8 405.7,120.3 405.8,120.2 405.9,120.5 406.0,126.7 406.1,124.8 406.2,129.6 406.3,127.9 406.4,126.9 406.5,125.9 406.6,128.6 406.7,125.8 406.8,124.3 406.9,124.4 407.0,126.3 407.1,126.0 407.2,124.9 407.3,122.9 407.4,120.7 407.5,120.3 407.6,120.0 407.7,129.0 407.8,126.7 407.9,125.7 408.0,128.3 408.1,126.3 408.2,124.2 408.3,122.0 408.4,121.1 408.5,121.9 408.6,122.2 408.7,122.5 408.8,121.8 408.9,122.3 409.0,121.6 409.1,119.9 409.2,118.9 409.3,119.7 409.4,120.2 409.5,119.1 409.6,117.5 409.7,118.0 409.8,117.4 409.9,118.6 410.0,134.0 410.1,131.5 410.2,129.4 410.3,127.6 410.4,126.1 410.5,124.8 410.6,123.8 410.7,122.8 410.8,122.1 410.9,121.4 411.0,120.9 411.1,124.6 411.2,122.5 411.3,120.8 411.4,121.0 411.5,122.5 411.6,122.0 411.7,119.9 411.8,119.4 411.9,120.6 412.0,121.2 412.1,118.9 412.2,118.2 412.3,118.1 412.4,118.1 412.5,118.1 412.6,118.0 412.7,118.3 412.8,119.7 412.9,117.9 413.0,117.9 413.1,117.9 413.2,118.0 413.3,117.9 413.4,117.9 413.5,118.2 413.6,118.2 413.7,117.8 413.8,119.0 413.9,119.2 414.0,119.5 414.1,120.0 414.2,120.7 414.3,121.2 414.4,118.8 414.5,117.0 414.6,116.8 414.7,118.7 414.8,119.2 414.9,118.9 415.0,117.5 415.1,117.3 415.2,122.3 415.3,122.0 415.4,121.2 415.5,120.7 415.6,127.1 415.7,126.8 415.8,125.3 415.9,122.6 416.0,121.2 416.1,121.1 416.2,122.0 416.3,121.4 416.4,125.6 416.5,123.3 416.6,123.8 416.7,124.0 416.8,123.2 416.9,121.4 417.0,119.2 417.1,117.6 417.2,118.2 417.3,120.3 417.4,121.0 417.5,120.1 417.6,118.8 417.7,118.2 417.8,117.2 417.9,117.4 418.0,117.0 418.1,117.1 418.2,117.2 418.3,117.5 418.4,118.0 418.5,118.2 418.6,118.7 418.7,128.0 418.8,124.6 418.9,121.1 419.0,119.4 419.1,124.1 419.2,125.5 419.3,124.5 419.4,123.2 419.5,120.1 419.6,119.0 419.7,118.9 419.8,118.5 419.9,116.7 420.0,116.1 420.1,116.9 420.2,115.6 420.3,115.0 420.4,115.5 420.5,117.3 420.6,117.3 420.7,117.6 420.8,122.7 420.9,121.7 421.0,120.9 421.1,120.2 421.2,119.4 421.3,120.5 421.4,120.0 421.5,117.8 421.6,116.1 421.7,117.4 421.8,119.0 421.9,119.5 422.0,117.3 422.1,116.6 422.2,115.2 422.3,115.4 422.4,116.6 422.5,116.5 422.6,115.2 422.7,114.7 422.8,115.9 422.9,116.9 423.0,118.3 423.1,119.7 423.2,120.4 423.3,120.5 423.4,118.4 423.5,116.5 423.6,116.5 423.7,118.0 423.8,118.3 423.9,115.9 424.0,114.3 424.1,114.6 424.2,116.6 424.3,117.7 424.4,130.9 424.5,127.3 424.6,125.5 424.7,125.3 424.8,126.9 424.9,125.6 425.0,123.2 425.1,120.3 425.2,120.2 425.3,121.8 425.4,121.8 425.5,120.0 425.6,118.6 425.7,118.3 425.8,137.0 425.9,134.1 426.0,131.6 426.1,129.4 426.2,127.7 426.3,126.1 426.4,124.9 426.5,123.8 426.6,122.9 426.7,122.1 426.8,121.4 426.9,120.9 427.0,120.4 427.1,120.0 427.2,119.7 427.3,119.4 427.4,119.1 427.5,118.9 427.6,118.8 427.7,118.6 427.8,118.5 427.9,118.4 428.0,118.3 428.1,118.2 428.2,118.2 428.3,118.1 428.4,118.1 428.5,118.0 428.6,118.0 428.7,118.0 428.8,118.9 428.9,118.3 429.0,117.9 429.1,117.9 429.2,118.0 429.3,117.9 429.4,126.8 429.5,125.1 429.6,124.1 429.7,124.0 429.8,124.4 429.9,124.8 430.0,123.3 430.1,122.5 430.2,120.5 430.3,120.0 430.4,118.8 430.5,118.4 430.6,118.6 430.7,118.7 430.8,119.2 430.9,126.0 431.0,124.4 431.1,122.5 431.2,121.3 431.3,121.9 431.4,122.7 431.5,123.4 431.6,123.1 431.7,120.7 431.8,118.0 431.9,117.6 432.0,117.4 432.1,118.5 432.2,118.1 432.3,119.4 432.4,121.1 432.5,121.7 432.6,121.7 432.7,120.1 432.8,119.2 432.9,119.0 433.0,118.1 433.1,118.8 433.2,118.5 433.3,117.9 433.4,117.5 433.5,120.5 433.6,121.1 433.7,118.5 433.8,119.3 433.9,121.0 434.0,119.1 434.1,116.0 434.2,117.5 434.3,120.3 434.4,121.1 434.5,120.4 434.6,120.6 434.7,119.5 434.8,117.2 434.9,116.8 435.0,116.7 435.1,117.4 435.2,118.6 435.3,120.5 435.4,120.2 435.5,118.7 435.6,118.9 435.7,119.8 435.8,118.7 435.9,124.2 436.0,123.9 436.1,125.1 436.2,123.2 436.3,120.3 436.4,118.1 436.5,117.4 436.6,118.7 436.7,120.5 436.8,119.7 436.9,125.6 437.0,133.0 437.1,131.3 437.2,129.4 437.3,127.2 437.4,126.2 437.5,126.8 437.6,126.2 437.7,123.7 437.8,122.7 437.9,121.8 438.0,120.7 438.1,119.4 438.2,120.1 438.3,120.1 438.4,119.4 438.5,119.1 438.6,118.6 438.7,117.5 438.8,116.6 438.9,116.8 439.0,117.3 439.1,118.2 439.2,118.6 439.3,120.6 439.4,120.0 439.5,118.7 439.6,118.1 439.7,117.9 439.8,117.3 439.9,123.1 440.0,122.8 440.1,124.1 440.2,123.7 440.3,123.3 440.4,121.5 440.5,122.0 440.6,121.1 440.7,119.3 440.8,117.8 440.9,118.5 441.0,119.4 441.1,120.1 441.2,119.2 441.3,118.3 441.4,119.0 441.5,120.8 441.6,121.3 441.7,118.8 441.8,118.2 441.9,118.6 442.0,119.7 442.1,120.6 442.2,121.4 442.3,120.1 442.4,117.6 442.5,122.2 442.6,123.1 442.7,123.8 442.8,122.3 442.9,120.7 443.0,119.9 443.1,121.2 443.2,122.4 443.3,120.7 443.4,118.8 443.5,118.3 443.6,118.9 443.7,119.9 443.8,122.1 443.9,122.4 444.0,120.6 444.1,118.8 444.2,118.7 444.3,142.0 444.4,138.3 444.5,135.1 444.6,132.5 444.7,130.2 444.8,128.3 444.9,126.7 445.0,125.3 445.1,124.2 445.2,123.2 445.3,122.4 445.4,121.7 445.5,121.1 445.6,120.6 445.7,120.1 445.8,119.8 445.9,119.5 446.0,119.2 446.1,119.0 446.2,118.8 446.3,119.7 446.4,119.4 446.5,119.5 446.6,125.0 446.7,123.1 446.8,121.9 446.9,123.0 447.0,124.0 447.1,123.1 447.2,121.7 447.3,121.5 447.4,120.4 447.5,117.9 447.6,117.9 447.7,117.9 447.8,117.9 447.9,117.4 448.0,117.5 448.1,118.0 448.2,119.0 448.3,119.5 448.4,120.4 448.5,120.4 448.6,119.4 448.7,119.0 448.8,118.9 448.9,117.5 449.0,117.3 449.1,119.0 449.2,120.5 449.3,120.0 449.4,120.5 449.5,119.6 449.6,118.7 449.7,117.3 449.8,117.5 449.9,117.9 450.0,118.4 450.1,118.7 450.2,121.3 450.3,121.3 450.4,120.3 450.5,119.2 450.6,121.1 450.7,119.7 450.8,119.4 450.9,119.6 451.0,120.1 451.1,118.6 451.2,118.2 451.3,119.2 451.4,120.4 451.5,121.6 451.6,121.4 451.7,120.5 451.8,118.5 451.9,119.2 452.0,119.1 452.1,118.8 452.2,117.2 452.3,128.6 452.4,127.3 452.5,128.0 452.6,128.3 452.7,125.7 452.8,122.8 452.9,121.6 453.0,121.7 453.1,121.5 453.2,121.7 453.3,121.8 453.4,120.6 453.5,118.3 453.6,124.0 453.7,122.1 453.8,121.7 453.9,121.3 454.0,120.8 454.1,119.8 454.2,119.1 454.3,121.0 454.4,126.3 454.5,123.6 454.6,121.3 454.7,121.0 454.8,121.7 454.9,120.4 455.0,120.1 455.1,120.7 455.2,121.1 455.3,119.5 455.4,118.4 455.5,117.1 455.6,116.4 455.7,116.2 455.8,116.5 455.9,117.0 456.0,119.1 456.1,124.1 456.2,122.7 456.3,118.6 456.4,117.6 456.5,121.9 456.6,121.1 456.7,120.6 456.8,121.2 456.9,130.8 457.0,131.0 457.1,130.5 457.2,128.2 457.3,124.6 457.4,123.3 457.5,121.8 457.6,120.6 457.7,121.1 457.8,125.2 457.9,122.9 458.0,120.2 458.1,119.2 458.2,119.3 458.3,120.1 458.4,120.9 458.5,121.6 458.6,121.0 458.7,120.7 458.8,120.1 458.9,120.6 459.0,118.5 459.1,118.5 459.2,117.6 459.3,117.4 459.4,117.2 459.5,118.3 459.6,120.2 459.7,120.3 459.8,119.2 459.9,117.8 460.0,117.7 460.1,119.4 460.2,121.2 460.3,122.0 460.4,124.1 460.5,141.4 460.6,137.8 460.7,134.7 460.8,132.1 460.9,129.9 461.0,128.1 461.1,126.5 461.2,125.1 461.3,124.0 461.4,123.1 461.5,122.3 461.6,121.6 461.7,121.0 461.8,120.5 461.9,120.1 462.0,120.4 462.1,119.7 462.2,124.2 462.3,125.0 462.4,124.5 462.5,120.1 462.6,119.1 462.7,119.8 462.8,120.7 462.9,125.7 463.0,125.2 463.1,125.7 463.2,125.8 463.3,123.7 463.4,121.7 463.5,121.2 463.6,119.8 463.7,119.6 463.8,125.8 463.9,131.0 464.0,137.1 464.1,135.2 464.2,133.6 464.3,133.0 464.4,130.8 464.6,127.0 464.7,124.2 464.8,123.2 464.9,123.2 465.0,122.2 465.1,121.7 465.2,121.5 465.3,122.8 465.4,122.5 465.5,122.3 465.6,131.1 465.7,127.6 465.8,124.4 465.9,122.9 466.0,122.8 466.1,121.1 466.2,120.3 466.3,120.3 466.4,120.7 466.5,121.4 466.6,121.9 466.7,120.9 466.8,118.6 466.9,118.3 467.0,118.4 467.1,118.6 467.2,118.4 467.3,119.9 467.4,120.3 467.5,120.9 467.6,119.8 467.7,119.4 467.8,117.9 467.9,118.0 468.0,117.8 468.1,134.0 468.2,131.5 468.3,129.4 468.4,127.6 468.5,126.1 468.6,124.8 468.7,123.8 468.8,122.8 468.9,122.1 469.0,122.4 469.1,121.9 469.2,120.4 469.3,120.0 469.4,119.7 469.5,119.4 469.6,119.1 469.7,118.9 469.8,118.8 469.9,118.6 470.0,118.5 470.1,118.4 470.2,118.6 470.3,126.0 470.4,124.9 470.5,123.3 470.6,121.2 470.7,119.5 470.8,118.0 470.9,118.0 471.0,126.9 471.1,127.7 471.2,126.6 471.3,125.4 471.4,124.2 471.5,130.5 471.6,129.8 471.7,126.8 471.8,124.9 471.9,123.4 472.0,123.9 472.1,123.7 472.2,123.5 472.3,122.5 472.4,120.4 472.5,119.8 472.6,119.9 472.7,120.6 472.8,121.0 472.9,121.0 473.0,119.0 473.1,117.4 473.2,117.8 473.3,118.5 473.4,119.3 473.5,119.0 473.6,118.9 473.7,129.6 473.8,126.7 473.9,131.7 474.0,129.6 474.1,126.9 474.2,124.0 474.3,123.2 474.4,121.7 474.5,120.4 474.6,119.9 474.7,122.0 474.8,122.0 474.9,121.2 475.0,118.4 475.1,118.1 475.2,118.1 475.3,118.3 475.4,116.2 475.5,115.4 475.6,116.4 475.7,117.9 475.8,118.4 475.9,118.7 476.0,125.7 476.1,122.7 476.2,120.2 476.3,118.6 476.4,119.4 476.5,119.2 476.6,119.6 476.7,118.9 476.8,120.8 476.9,120.3 477.0,119.4 477.1,117.3 477.2,117.3 477.3,119.4 477.4,119.6 477.5,117.9 477.6,127.4 477.7,125.7 477.8,123.8 477.9,122.6 478.0,121.9 478.1,146.1 478.2,141.8 478.3,138.1 478.4,135.0 478.5,132.3 478.6,130.1 478.7,128.2 478.8,126.6 478.9,125.3 479.0,127.9 479.1,125.6 479.2,124.7 479.3,125.1 479.4,124.6 479.5,124.1 479.6,123.3 479.7,122.1 479.8,122.0 479.9,120.4 480.0,119.0 480.1,118.8 480.2,118.7 480.3,118.5 480.4,118.4 480.5,122.1 480.6,121.7 480.7,125.5 480.8,124.7 480.9,123.5 481.0,121.4 481.1,119.7 481.2,125.9 481.3,125.7 481.4,126.0 481.5,125.8 481.6,125.2 481.7,125.0 481.8,122.8 481.9,121.9 482.0,121.7 482.1,123.5 482.2,123.0 482.3,121.9 482.4,119.7 482.5,119.0 482.6,117.6 482.7,117.0 482.8,117.0 482.9,118.7 483.0,118.6 483.1,118.1 483.2,119.0 483.3,119.5 483.4,119.4 483.5,117.7 483.6,117.7 483.7,117.5 483.8,118.8 483.9,118.5 484.0,117.1 484.1,117.3 484.2,118.5 484.3,119.6 484.4,119.3 484.5,119.8 484.6,118.9 484.7,117.7 484.8,116.2 484.9,116.2 485.0,116.4 485.1,117.2 485.2,118.6 485.3,120.1 485.4,119.9 485.5,117.1 485.6,116.9 485.7,118.5 485.8,119.1 485.9,118.2 486.0,117.1 486.1,117.3 486.2,116.9 486.3,116.2 486.4,115.7 486.5,115.2 486.6,116.8 486.7,118.7 486.8,119.9 486.9,118.8 487.0,118.0 487.1,118.1 487.2,118.1 487.3,117.8 487.4,117.5 487.5,116.6 487.6,137.0 487.7,134.1 487.8,131.6 487.9,129.4 488.0,127.7 488.1,126.1 488.2,124.9 488.3,123.8 488.4,122.9 488.5,122.1 488.6,121.4 488.7,120.9 488.8,120.4 488.9,120.0 489.0,119.7 489.1,119.6 489.2,119.1 489.3,119.7 489.4,120.7 489.5,121.3 489.6,120.4 489.7,118.4 489.8,118.3 489.9,118.2 490.0,124.1 490.1,122.3 490.2,125.8 490.3,125.3 490.4,139.4 490.5,136.7 490.6,133.6 490.7,131.1 490.8,129.5 490.9,128.3 491.0,128.3 491.1,126.9 491.2,123.9 491.3,121.5 491.4,120.1 491.5,120.9 491.6,123.3 491.7,124.3 491.8,123.2 491.9,121.0 492.0,125.7 492.1,124.6 492.2,124.7 492.3,123.7 492.4,121.1 492.5,119.1 492.6,118.3 492.7,118.8 492.8,126.8 492.9,125.2 493.0,123.9 493.1,122.9 493.2,129.4 493.3,127.5 493.4,125.1 493.5,123.1 493.6,122.5 493.7,122.2 493.8,120.7 493.9,118.8 494.0,118.6 494.1,119.4 494.2,121.0 494.3,120.4 494.4,120.5 494.5,119.5 494.6,119.0 494.7,117.5 494.8,117.9 494.9,119.1 495.0,119.6 495.1,118.4 495.2,116.6 495.3,116.5 495.4,116.8 495.5,117.5 495.6,117.1 495.7,116.6 495.8,116.4 495.9,117.2 496.0,118.7 496.1,119.2 496.2,118.8 496.3,118.0 496.4,117.7 496.5,116.7 496.6,121.9 496.7,122.3 496.8,124.0 496.9,122.6 497.0,121.2 497.1,134.0 497.2,131.5 497.3,129.4 497.4,127.6 497.5,126.1 497.6,124.8 497.7,123.8 497.8,122.8 497.9,122.1 498.0,121.4 498.1,120.9 498.2,124.7 498.3,123.2 498.4,121.0 498.5,120.2 498.6,120.7 498.7,119.8 498.8,118.8 498.9,118.6 499.0,118.5 499.1,119.4 499.2,120.6 499.3,121.3 499.4,122.4 499.5,121.1 499.6,118.9 499.7,118.2 499.8,118.5 499.9,118.0 500.0,117.9 500.1,118.1 500.2,120.5 500.3,118.9 500.4,117.9 500.5,117.9 500.6,117.8 500.7,117.6 500.8,117.9 500.9,119.7 501.0,119.8 501.1,119.4 501.2,118.1 501.3,119.0 501.4,123.9 501.5,122.1 501.6,120.2 501.7,119.0 501.8,118.8 501.9,119.8 502.0,121.6 502.1,120.8 502.2,120.4 502.3,119.3 502.4,119.4 502.5,118.5 502.6,119.5 502.7,118.8 502.8,119.8 502.9,119.0 503.0,119.9 503.1,118.9 503.2,119.2 503.3,119.8 503.4,120.1 503.5,118.6 503.6,117.4 503.7,125.8 503.8,123.2 503.9,121.8 504.0,121.8 504.1,121.6 504.2,119.5 504.3,125.6 504.4,125.0 504.5,123.4 504.6,122.0 504.7,122.3 504.8,123.2 504.9,123.1 505.0,121.9 505.1,144.8 505.2,140.7 505.3,137.1 505.4,134.2 505.5,131.7 505.6,129.5 505.7,127.7 505.8,126.2 505.9,124.9 506.0,123.8 506.1,122.9 506.2,122.1 506.3,121.7 506.4,120.9 506.5,121.5 506.6,123.0 506.7,120.7 506.8,120.5 506.9,121.1 507.0,120.6 507.1,119.7 507.2,119.9 507.3,118.6 507.4,118.4 507.5,118.3 507.6,118.2 507.7,120.0 507.8,128.6 507.9,125.7 508.0,124.0 508.1,123.6 508.2,124.6 508.3,128.4 508.4,125.1 508.5,122.1 508.6,120.9 508.7,120.5 508.8,119.8 508.9,119.6 509.0,119.8 509.1,119.7 509.2,120.0 509.3,124.9 509.4,124.8 509.5,123.9 509.6,121.8 509.7,119.7 509.8,119.0 509.9,119.8 510.0,119.8 510.1,119.5 510.2,119.4 510.3,121.9 510.4,122.7 510.5,121.4 510.6,120.3 510.7,120.6 510.8,120.4 510.9,126.0 511.0,124.0 511.1,122.6 511.2,121.3 511.3,122.0 511.4,120.6 511.5,118.9 511.6,117.8 511.7,118.3 511.8,126.1 511.9,124.8 512.0,124.0 512.1,123.8 512.2,128.3 512.3,125.7 512.4,124.7 512.5,126.9 512.6,125.2 512.7,124.0 512.8,123.8 512.9,123.7 513.0,124.4 513.1,124.9 513.2,124.5 513.3,123.1 513.4,121.3 513.5,120.6 513.6,120.2 513.7,120.5 513.8,125.6 513.9,124.2 514.0,122.1 514.1,121.3 514.2,121.5 514.3,124.1 514.4,124.4 514.5,123.5 514.6,130.8 514.7,129.7 514.8,128.5 514.9,126.4 515.0,124.1 515.1,123.2 515.2,124.2 515.3,123.7 515.4,121.7 515.5,120.9 515.6,122.2 515.7,122.8 515.8,120.6 515.9,119.4 516.0,119.4 516.1,121.1 516.2,121.6 516.3,120.2 516.4,119.7 516.5,119.0 516.6,118.4 516.7,117.3 516.8,118.8 516.9,119.6 517.0,128.5 517.1,124.5 517.2,123.6 517.3,123.4 517.4,122.7 517.5,125.5 517.6,124.5 517.7,124.2 517.8,125.1 517.9,123.2 518.0,120.8 518.1,119.3 518.2,120.2 518.3,122.1 518.4,120.5 518.5,119.4 518.6,167.4 518.7,159.8 518.8,153.3 518.9,147.9 519.0,143.3 519.1,139.3 519.2,136.0 519.3,133.2 519.4,130.9 519.5,128.9 519.6,127.2 519.7,125.7 519.8,124.5 519.9,123.5 520.0,122.6 520.1,121.9 520.2,121.2 520.3,120.7 520.4,120.3 520.5,120.1 520.6,119.6 520.7,119.3 520.8,119.1 520.9,118.9 521.0,118.7 521.1,118.6 521.2,118.4 521.3,119.0 521.4,118.8 521.5,119.5 521.6,127.7 521.7,126.1 521.8,121.7 521.9,118.6 522.0,118.0 522.1,118.6 522.2,119.0 522.3,120.0 522.4,119.8 522.5,126.3 522.6,124.8 522.7,123.7 522.8,122.5 522.9,123.9 523.0,124.9 523.1,123.0 523.2,119.0 523.3,119.0 523.4,119.8 523.5,120.1 523.6,120.9 523.7,123.0 523.8,121.6 523.9,118.5 524.0,127.0 524.1,126.9 524.2,124.4 524.3,123.2 524.4,123.8 524.5,123.1 524.6,119.0 524.7,116.7 524.8,117.2 524.9,119.2 525.0,120.4 525.1,118.9 525.2,117.7 525.3,118.0 525.4,117.6 525.5,116.2 525.6,115.6 525.7,117.4 525.8,119.2 525.9,119.1 526.0,117.5 526.1,117.8 526.2,116.9 526.3,116.7 526.4,116.1 526.5,116.9 526.6,116.4 526.7,117.1 526.8,117.5 526.9,117.5 527.0,117.2 527.1,117.5 527.2,117.4 527.3,116.6 527.4,117.1 527.5,117.1 527.6,116.9 527.7,116.4 527.8,117.2 527.9,120.7 528.0,121.8 528.1,135.0 528.2,132.4 528.3,130.1 528.4,128.2 528.5,126.6 528.6,125.3 528.7,124.1 528.8,123.2 528.9,122.3 529.0,121.6 529.1,121.0 529.2,120.5 529.3,120.1 529.4,119.8 529.5,119.5 529.6,119.2 529.7,119.0 529.8,118.8 529.9,120.4 530.0,119.5 530.1,118.9 530.2,118.8 530.3,118.9 530.4,118.2 530.5,118.1 530.6,118.1 530.7,118.0 530.8,118.0 530.9,118.0 531.0,117.9 531.1,118.4 531.2,122.2 531.3,122.2 531.4,120.6 531.5,126.2 531.6,123.7 531.7,123.3 531.8,123.0 531.9,122.5 532.0,121.9 532.1,128.7 532.2,128.4 532.3,128.6 532.4,125.8 532.5,122.9 532.6,121.3 532.7,122.2 532.8,122.1 532.9,121.0 533.0,119.4 533.1,119.6 533.2,119.7 533.3,119.2 533.4,118.7 533.5,119.4 533.6,120.1 533.7,120.3 533.8,119.0 533.9,118.2 534.0,117.5 534.1,118.2 534.2,118.6 534.3,119.3 534.4,116.7 534.5,117.3 534.6,119.5 534.7,121.2 534.8,120.4 534.9,119.4 535.0,120.9 535.1,127.6 535.2,131.0 535.3,127.0 535.4,125.7 535.5,145.5 535.6,141.2 535.7,137.6 535.8,134.6 535.9,132.0 536.0,129.8 536.1,128.0 536.2,126.4 536.3,129.7 536.4,129.1 536.5,128.1 536.6,127.6 536.7,126.9 536.8,125.9 536.9,122.5 537.0,121.2 537.1,121.0 537.2,121.8 537.3,122.5 537.4,122.3 537.5,121.5 537.6,121.6 537.7,122.1 537.8,121.0 537.9,119.9 538.0,119.0 538.1,119.1 538.2,118.8 538.3,118.1 538.4,118.0 538.5,118.2 538.6,119.5 538.7,118.0 538.8,118.2 538.9,119.2 539.0,120.0 539.1,118.5 539.2,117.7 539.3,117.9 539.4,118.6 539.5,118.2 539.6,117.0 539.7,116.3 539.8,118.2 539.9,119.4 540.0,118.1 540.1,116.1 540.2,116.5 540.3,118.1 540.4,118.6 540.5,118.0 540.6,117.5 540.7,118.5 540.8,118.5 540.9,119.1 541.0,119.6 541.1,118.8 541.2,119.6 541.3,118.7 541.4,117.2 541.5,116.3 541.6,117.9 541.7,118.5 541.8,117.7 541.9,118.2 542.0,118.2 542.1,117.3 542.2,116.2 542.3,115.8 542.4,115.7 542.5,117.1 542.6,118.5 542.7,119.3 542.8,118.0 542.9,118.3 543.0,117.1 543.1,117.2 543.2,117.4 543.3,118.3 543.4,116.9 543.5,116.7 543.6,116.9 543.7,116.7 543.8,116.3 543.9,116.2 544.0,116.5 544.1,118.1 544.2,119.3 544.3,119.5 544.4,117.3 544.5,117.2 544.6,116.7 544.7,117.2 544.8,117.7 544.9,120.0 545.0,120.4 545.1,120.2 545.2,119.1 545.3,119.6 545.4,118.2 545.5,117.1 545.6,116.4 545.7,116.3 545.8,116.6 545.9,116.3 546.0,116.5 546.1,116.8 546.2,119.1 546.3,120.9 546.4,120.9 546.5,119.0 546.6,117.7 546.7,118.3 546.8,118.6 546.9,117.2 547.0,115.4 547.1,115.3 547.2,117.4 547.3,152.9 547.4,147.5 547.5,142.9 547.6,139.1 547.7,135.8 547.8,133.0 547.9,130.7 548.0,128.7 548.1,127.0 548.2,125.6 548.3,124.4 548.4,123.4 548.5,122.5 548.6,121.8 548.7,121.2 548.8,120.7 548.9,125.5 549.0,131.0 549.1,127.7 549.2,125.4 549.3,126.1 549.4,126.6 549.5,125.0 549.6,124.3 549.7,131.8 549.8,129.8 549.9,127.2 550.0,127.2 550.1,126.7 550.2,123.6 550.3,121.3 550.4,120.9 550.5,122.0 550.6,121.3 550.7,120.4 550.8,118.9 550.9,118.9 551.0,117.9 551.1,117.7 551.2,116.7 551.3,116.5 551.4,115.7 551.5,115.5 551.6,116.3 551.7,118.8 551.8,120.7 551.9,119.1 552.0,119.0 552.1,118.9 552.2,119.0 552.3,118.8 552.4,119.4 552.5,120.0 552.6,119.2 552.7,118.5 552.8,117.3 552.9,116.7 553.0,115.9 553.1,116.3 553.2,116.3 553.3,117.1 553.4,117.5 553.5,119.7 553.6,119.6 553.7,119.8 553.8,120.2 553.9,119.8 554.0,118.7 554.1,118.2 554.2,118.0 554.3,118.6 554.4,118.7 554.5,118.7 554.6,116.6 554.7,114.8 554.8,116.1 554.9,116.8 555.0,116.6 555.1,116.0 555.2,117.8 555.3,118.9 555.4,118.2 555.5,117.4 555.6,116.6 555.7,145.5 555.8,141.2 555.9,137.6 556.0,134.6 556.1,132.0 556.2,129.8 556.3,128.0 556.4,126.4 556.5,125.1 556.6,124.0 556.7,123.0 556.8,122.2 556.9,121.5 557.0,121.0 557.1,120.5 557.2,120.1 557.3,123.9 557.4,123.4 557.5,123.1 557.6,128.0 557.7,127.1 557.8,124.9 557.9,121.6 558.0,121.1 558.1,121.2 558.2,121.4 558.3,120.5 558.4,119.8 558.5,120.0 558.6,121.3 558.7,121.7 558.8,120.5 558.9,118.3 559.0,117.9" fill="none" stroke="#111" stroke-width="1.3" stroke-linejoin="round"/>
<polyline points="370.0,182.8 370.1,179.6 370.2,176.4 370.3,176.5 370.4,181.9 370.5,183.2 370.6,183.5 370.7,182.4 370.8,181.7 370.9,179.9 371.0,177.9 371.1,176.0 371.2,176.2 371.3,177.2 371.4,179.4 371.5,181.5 371.6,184.2 371.7,183.3 371.8,182.5 371.9,179.4 372.0,177.4 372.1,176.0 372.2,177.6 372.3,181.6 372.4,178.4 372.5,177.8 372.6,178.8 372.7,181.2 372.8,181.9 372.9,182.8 373.0,181.1 373.1,181.5 373.2,181.0 373.3,181.5 373.4,179.9 373.5,207.2 373.6,202.7 373.7,198.9 373.8,195.7 373.9,193.0 374.0,190.7 374.1,188.7 374.2,187.1 374.3,186.4 374.4,187.1 374.5,186.0 374.6,184.2 374.7,181.9 374.8,181.3 374.9,180.8 375.0,180.4 375.1,181.0 375.2,179.7 375.3,179.5 375.4,179.2 375.5,179.0 375.6,178.9 375.7,179.9 375.8,180.0 375.9,180.5 376.0,181.4 376.1,181.1 376.2,181.8 376.3,180.2 376.4,179.0 376.5,178.2 376.6,178.2 376.7,178.1 376.8,178.1 376.9,178.1 377.0,178.1 377.1,176.0 377.2,177.1 377.3,176.3 377.4,183.4 377.5,181.3 377.6,180.2 377.7,178.6 377.8,180.5 377.9,179.1 378.0,177.7 378.1,177.6 378.2,179.0 378.3,177.1 378.4,175.7 378.5,176.5 378.6,178.7 378.7,177.5 378.8,177.3 378.9,177.5 379.0,180.4 379.1,178.7 379.2,178.7 379.3,177.2 379.4,175.9 379.5,173.2 379.6,174.5 379.7,176.1 379.8,177.5 379.9,178.3 380.0,179.2 380.1,178.2 380.2,179.8 380.3,177.2 380.4,174.2 380.5,172.7 380.6,173.3 380.7,172.7 380.8,172.7 380.9,172.7 381.0,172.7 381.1,177.0 381.2,179.8 381.3,190.3 381.4,187.5 381.5,184.2 381.6,181.0 381.7,180.7 381.8,179.7 381.9,180.6 382.0,179.9 382.1,181.5 382.2,182.4 382.3,184.2 382.4,180.4 382.5,176.1 382.6,175.0 382.7,176.7 382.8,178.5 382.9,178.7 383.0,179.6 383.1,180.2 383.2,180.8 383.3,181.0 383.4,178.3 383.5,179.2 383.6,179.9 383.7,182.0 383.8,180.4 383.9,181.6 384.0,180.7 384.1,180.0 384.2,178.4 384.3,177.2 384.4,176.1 384.5,175.8 384.6,176.6 384.7,176.1 384.8,178.8 384.9,179.1 385.0,178.5 385.1,179.0 385.2,180.7 385.3,195.4 385.4,192.7 385.5,190.5 385.6,188.6 385.7,186.9 385.8,185.6 385.9,184.4 386.0,183.4 386.1,182.6 386.2,181.9 386.3,187.5 386.4,187.1 386.5,185.5 386.6,182.8 386.7,182.0 386.8,184.1 386.9,188.2 387.0,187.6 387.1,186.3 387.2,182.4 387.3,181.9 387.4,182.1 387.5,181.8 387.6,181.5 387.7,179.1 387.8,178.4 387.9,179.8 388.0,181.2 388.1,182.6 388.2,183.2 388.3,182.6 388.4,182.3 388.5,180.2 388.6,180.7 388.7,181.8 388.8,183.4 388.9,180.5 389.0,179.3 389.1,182.1 389.2,183.1 389.3,186.1 389.4,184.8 389.5,184.4 389.6,181.6 389.7,179.4 389.8,179.1 389.9,178.6 390.0,178.5 390.1,178.1 390.2,180.1 390.3,178.2 390.4,177.1 390.5,174.8 390.6,177.5 390.7,184.8 390.8,187.3 390.9,186.6 391.0,186.0 391.1,185.1 391.2,180.3 391.3,178.2 391.4,177.2 391.5,178.2 391.6,176.5 391.7,178.0 391.8,179.7 391.9,178.8 392.0,177.1 392.1,177.5 392.2,177.7 392.3,176.5 392.4,175.9 392.5,174.4 392.6,173.4 392.7,174.1 392.8,177.5 392.9,179.8 393.0,192.0 393.1,189.8 393.2,188.0 393.3,186.5 393.4,185.2 393.5,184.1 393.6,183.1 393.7,182.4 393.8,181.7 393.9,181.1 394.0,180.6 394.1,180.2 394.2,181.3 394.3,181.3 394.4,179.4 394.5,179.1 394.6,181.4 394.7,183.9 394.8,183.5 394.9,178.6 395.0,178.5 395.1,178.4 395.2,178.4 395.3,178.4 395.4,178.3 395.5,178.2 395.6,178.2 395.7,178.2 395.8,178.1 395.9,178.1 396.0,178.6 396.1,180.2 396.2,182.2 396.3,180.1 396.4,178.0 396.5,181.4 396.6,189.9 396.7,187.6 396.8,186.9 396.9,186.3 397.0,187.4 397.1,183.9 397.2,181.4 397.3,179.2 397.4,179.7 397.5,181.1 397.6,185.1 397.7,182.0 397.8,180.3 397.9,180.9 398.0,182.9 398.1,183.3 398.2,183.2 398.3,179.6 398.4,180.7 398.5,181.5 398.6,183.3 398.7,181.3 398.8,177.9 398.9,174.5 399.0,174.3 399.1,175.7 399.2,177.4 399.3,178.8 399.4,178.9 399.5,179.8 399.6,180.4 399.7,180.5 399.8,198.7 399.9,195.5 400.0,192.8 400.1,190.6 400.2,188.6 400.3,187.0 400.4,185.6 400.5,184.4 400.6,183.5 400.7,182.6 400.8,181.9 400.9,181.3 401.0,180.8 401.1,180.4 401.2,180.0 401.3,183.8 401.4,183.4 401.5,182.3 401.6,182.2 401.7,185.9 401.8,187.1 401.9,187.6 402.0,181.6 402.1,180.8 402.2,225.7 402.3,218.4 402.4,212.2 402.5,206.9 402.6,202.5 402.7,198.7 402.8,195.5 402.9,192.8 403.0,190.6 403.1,188.6 403.2,189.8 403.3,185.6 403.4,184.4 403.5,183.5 403.6,183.7 403.7,182.5 403.8,181.3 403.9,180.8 404.0,180.4 404.1,180.0 404.2,180.4 404.3,180.4 404.4,180.2 404.5,179.0 404.6,178.9 404.7,178.7 404.8,186.1 404.9,185.1 405.0,185.1 405.1,192.6 405.2,189.6 405.3,186.2 405.4,183.9 405.5,182.5 405.6,180.0 405.7,190.2 405.8,191.5 405.9,189.2 406.0,186.2 406.1,186.2 406.2,186.8 406.3,184.4 406.4,185.9 406.5,187.0 406.6,185.4 406.7,183.5 406.8,181.5 406.9,178.4 407.0,175.3 407.1,176.0 407.2,178.6 407.3,179.4 407.4,177.2 407.5,176.2 407.6,177.2 407.7,179.2 407.8,179.1 407.9,179.0 408.0,178.1 408.1,178.3 408.2,182.3 408.3,180.3 408.4,181.3 408.5,187.6 408.6,187.3 408.7,185.2 408.8,179.6 408.9,180.0 409.0,180.2 409.1,178.4 409.2,177.0 409.3,177.6 409.4,176.9 409.5,178.3 409.6,179.4 409.7,179.5 409.8,180.6 409.9,180.8 410.0,177.6 410.1,176.0 410.2,180.4 410.3,183.9 410.4,182.6 410.5,178.1 410.6,176.3 410.7,177.7 410.8,182.1 410.9,184.1 411.0,180.8 411.1,177.2 411.2,175.3 411.3,174.7 411.4,176.6 411.5,177.5 411.6,177.7 411.7,182.1 411.8,183.9 411.9,184.2 412.0,183.2 412.1,182.0 412.2,179.2 412.3,177.6 412.4,177.6 412.5,178.9 412.6,179.1 412.7,184.4 412.8,185.1 412.9,184.6 413.0,184.3 413.1,182.6 413.2,189.9 413.3,188.9 413.4,188.6 413.5,188.7 413.6,185.8 413.7,182.4 413.8,180.3 413.9,180.6 414.0,200.4 414.1,197.0 414.2,194.0 414.3,191.6 414.4,189.5 414.5,187.7 414.6,187.1 414.7,188.5 414.8,185.2 414.9,183.0 415.0,182.2 415.1,182.7 415.2,186.6 415.3,185.8 415.4,182.9 415.5,183.9 415.6,183.8 415.7,180.9 415.8,179.9 415.9,182.9 416.0,181.4 416.1,188.3 416.2,187.8 416.3,188.4 416.4,183.2 416.5,180.2 416.6,180.6 416.7,183.3 416.8,183.9 416.9,181.5 417.0,182.3 417.1,181.5 417.2,182.3 417.3,181.0 417.4,179.7 417.5,179.8 417.6,178.8 417.7,182.6 417.8,180.8 417.9,180.4 418.0,178.2 418.1,177.4 418.2,178.7 418.3,179.9 418.4,186.0 418.5,188.6 418.6,188.0 418.7,196.6 418.8,193.2 418.9,191.0 419.0,183.2 419.1,180.4 419.2,179.4 419.3,182.5 419.4,182.7 419.5,181.6 419.6,182.1 419.7,182.3 419.8,179.1 419.9,182.7 420.0,181.9 420.1,183.1 420.2,184.5 420.3,183.1 420.4,181.5 420.5,180.2 420.6,180.7 420.7,198.7 420.8,195.5 420.9,192.8 421.0,190.6 421.1,188.6 421.2,187.0 421.3,185.6 421.4,184.4 421.5,183.5 421.6,182.6 421.7,181.9 421.8,181.3 421.9,180.8 422.0,184.2 422.1,184.1 422.2,181.2 422.3,180.0 422.4,181.6 422.5,181.7 422.6,179.4 422.7,178.7 422.8,178.6 422.9,178.5 423.0,178.4 423.1,178.4 423.2,178.3 423.3,178.3 423.4,178.2 423.5,178.7 423.6,178.2 423.7,183.6 423.8,179.9 423.9,181.7 424.0,181.8 424.1,180.9 424.2,180.2 424.3,180.4 424.4,180.5 424.5,180.6 424.6,179.9 424.7,178.7 424.8,179.4 424.9,179.7 425.0,180.2 425.1,181.5 425.2,182.7 425.3,183.1 425.4,180.6 425.5,179.6 425.6,179.0 425.7,180.0 425.8,180.2 425.9,181.5 426.0,181.2 426.1,178.7 426.2,177.3 426.3,176.4 426.4,176.5 426.5,177.9 426.6,185.9 426.7,185.4 426.8,183.9 426.9,189.2 427.0,188.4 427.1,186.9 427.2,180.5 427.3,178.0 427.4,178.4 427.5,181.8 427.6,180.7 427.7,180.3 427.8,179.7 427.9,179.2 428.0,178.9 428.1,179.4 428.2,179.3 428.3,178.6 428.4,177.7 428.5,176.4 428.6,176.1 428.7,176.6 428.8,184.4 428.9,184.7 429.0,183.4 429.1,179.9 429.2,178.7 429.3,180.6 429.4,182.2 429.5,182.6 429.6,187.3 429.7,185.9 429.8,182.8 429.9,182.0 430.0,180.6 430.1,180.9 430.2,179.3 430.3,181.0 430.4,180.3 430.5,180.7 430.6,180.8 430.7,180.2 430.8,179.3 430.9,178.0 431.0,179.3 431.1,180.4 431.2,181.2 431.3,180.5 431.4,182.4 431.5,182.1 431.6,181.5 431.7,189.2 431.8,187.5 431.9,185.2 432.0,182.3 432.1,181.5 432.2,182.6 432.3,184.8 432.4,188.8 432.5,186.3 432.6,185.7 432.7,188.2 432.8,187.5 432.9,185.5 433.0,184.1 433.1,183.6 433.2,181.7 433.3,178.1 433.4,182.4 433.5,183.9 433.6,185.6 433.7,184.5 433.8,184.6 433.9,183.4 434.0,182.6 434.1,182.1 434.2,200.4 434.3,197.0 434.4,194.0 434.5,191.6 434.6,189.5 434.7,187.7 434.8,186.2 434.9,185.0 435.0,183.9 435.1,183.0 435.2,182.2 435.3,181.6 435.4,181.0 435.5,182.1 435.6,182.0 435.7,181.3 435.8,179.6 435.9,179.3 436.0,179.1 436.1,182.4 436.2,183.7 436.3,183.1 436.4,183.0 436.5,182.1 436.6,178.8 436.7,178.3 436.8,178.3 436.9,178.4 437.0,178.2 437.1,178.2 437.2,178.2 437.3,180.8 437.4,179.3 437.5,180.4 437.6,181.8 437.7,182.4 437.8,186.8 437.9,185.9 438.0,182.6 438.1,180.7 438.2,180.3 438.3,180.7 438.4,185.0 438.5,182.9 438.6,182.9 438.7,185.3 438.8,186.5 438.9,183.9 439.0,181.9 439.1,179.4 439.2,178.6 439.3,177.0 439.4,180.0 439.5,182.6 439.6,183.5 439.7,180.2 439.8,180.3 439.9,180.3 440.0,181.0 440.1,181.0 440.2,181.1 440.3,180.5 440.4,177.0 440.5,176.9 440.6,175.4 440.7,177.1 440.8,177.5 440.9,180.1 441.0,182.9 441.1,183.4 441.2,180.5 441.3,178.1 441.4,180.9 441.5,180.9 441.6,184.1 441.7,181.6 441.8,179.8 441.9,179.6 442.0,192.0 442.1,189.8 442.2,188.0 442.3,186.5 442.4,185.2 442.5,184.1 442.6,183.1 442.7,182.4 442.8,181.7 442.9,181.3 443.0,180.6 443.1,180.2 443.2,181.1 443.3,179.6 443.4,179.4 443.5,182.6 443.6,181.7 443.7,179.6 443.8,178.7 443.9,180.5 444.0,180.1 444.1,181.2 444.2,179.6 444.3,180.9 444.4,178.3 444.5,178.2 444.6,178.2 444.7,178.2 444.8,178.1 444.9,178.1 445.0,178.1 445.1,179.9 445.2,179.1 445.3,178.4 445.4,178.0 445.5,179.2 445.6,180.8 445.7,186.1 445.8,184.1 445.9,183.7 446.0,185.0 446.1,183.7 446.2,184.4 446.3,186.1 446.4,185.7 446.5,184.9 446.6,183.0 446.7,178.9 446.8,178.9 446.9,179.0 447.0,182.6 447.1,185.2 447.2,184.1 447.3,184.6 447.4,191.6 447.5,185.1 447.6,181.8 447.7,180.1 447.8,178.6 447.9,176.5 448.0,179.6 448.1,180.7 448.2,179.1 448.3,176.8 448.4,179.7 448.5,178.9 448.6,176.6 448.7,176.4 448.8,178.5 448.9,187.9 449.0,184.4 449.1,181.9 449.2,181.2 449.3,182.7 449.4,230.8 449.5,222.7 449.6,215.8 449.7,210.0 449.8,205.1 449.9,200.9 450.0,197.4 450.1,194.4 450.2,191.9 450.3,189.8 450.4,188.0 450.5,189.0 450.6,189.9 450.7,185.7 450.8,183.1 450.9,189.5 451.0,190.1 451.1,187.5 451.2,183.4 451.3,183.0 451.4,186.3 451.5,184.5 451.6,180.8 451.7,179.3 451.8,179.0 451.9,180.6 452.0,178.7 452.1,180.4 452.2,184.1 452.3,188.7 452.4,187.4 452.5,182.2 452.6,179.8 452.7,179.8 452.8,182.5 452.9,182.4 453.0,181.0 453.1,177.8 453.2,175.6 453.3,175.2 453.4,175.7 453.5,176.1 453.6,174.3 453.7,174.9 453.8,175.0 453.9,182.4 454.0,183.2 454.1,182.4 454.2,182.7 454.3,184.4 454.4,183.7 454.5,182.3 454.6,182.4 454.7,183.6 454.8,180.3 454.9,179.7 455.0,178.9 455.1,182.0 455.2,179.8 455.3,180.1 455.4,180.9 455.5,180.5 455.6,178.2 455.7,175.4 455.8,173.7 455.9,176.2 456.0,179.4 456.1,192.0 456.2,189.8 456.3,188.0 456.4,186.5 456.5,185.2 456.6,184.1 456.7,183.1 456.8,183.9 456.9,184.2 457.0,184.7 457.1,184.1 457.2,181.5 457.3,179.9 457.4,179.6 457.5,179.4 457.6,180.9 457.7,179.9 457.8,181.9 457.9,183.1 458.0,183.6 458.1,182.0 458.2,179.8 458.3,178.4 458.4,178.3 458.5,178.3 458.6,179.0 458.7,181.4 458.8,180.9 458.9,184.9 459.0,181.9 459.1,180.2 459.2,180.1 459.3,181.0 459.4,182.3 459.5,183.3 459.6,183.7 459.7,181.5 459.8,179.3 459.9,178.8 460.0,181.2 460.1,180.4 460.2,178.1 460.3,178.3 460.4,180.8 460.5,182.1 460.6,179.9 460.7,177.4 460.8,176.6 460.9,189.3 461.0,189.4 461.1,189.2 461.2,191.0 461.3,190.1 461.4,187.6 461.5,186.1 461.6,183.8 461.7,181.3 461.8,178.2 461.9,177.2 462.0,179.0 462.1,180.6 462.2,182.9 462.3,182.8 462.4,181.0 462.5,179.3 462.6,178.1 462.7,177.5 462.8,176.3 462.9,177.3 463.0,177.0 463.1,177.3 463.2,179.5 463.3,183.0 463.4,184.5 463.5,184.5 463.6,181.9 463.7,181.0 463.8,179.9 463.9,177.9 464.0,177.8 464.1,177.5 464.2,177.4 464.3,174.9 464.4,174.6 464.6,178.9 464.7,180.2 464.8,179.0 464.9,178.4 465.0,178.9 465.1,183.6 465.2,184.8 465.3,188.9 465.4,184.4 465.5,182.5 465.6,180.5 465.7,179.7 465.8,179.8 465.9,180.4 466.0,186.9 466.1,185.9 466.2,185.2 466.3,181.2 466.4,179.0 466.5,178.8 466.6,188.5 466.7,189.1 466.8,186.6 466.9,184.4 467.0,184.1 467.1,183.3 467.2,181.8 467.3,180.1 467.4,182.6 467.5,181.4 467.6,182.5 467.7,182.2 467.8,179.8 467.9,177.7 468.0,178.5 468.1,180.1 468.2,180.0 468.3,179.6 468.4,178.0 468.5,177.1 468.6,179.1 468.7,182.0 468.8,182.5 468.9,182.7 469.0,182.1 469.1,179.4 469.2,179.8 469.3,182.9 469.4,184.2 469.5,184.6 469.6,182.7 469.7,181.8 469.8,177.4 469.9,177.3 470.0,177.7 470.1,192.0 470.2,189.8 470.3,188.0 470.4,186.5 470.5,185.2 470.6,184.1 470.7,183.1 470.8,182.4 470.9,181.9 471.0,184.8 471.1,184.9 471.2,184.9 471.3,179.9 471.4,179.6 471.5,179.5 471.6,189.0 471.7,187.9 471.8,183.2 471.9,180.8 472.0,178.6 472.1,180.8 472.2,180.6 472.3,179.7 472.4,180.3 472.5,180.1 472.6,180.4 472.7,180.6 472.8,187.4 472.9,183.7 473.0,181.2 473.1,180.4 473.2,179.7 473.3,179.6 473.4,180.1 473.5,185.0 473.6,186.1 473.7,190.2 473.8,186.2 473.9,186.2 474.0,187.4 474.1,185.9 474.2,186.7 474.3,185.4 474.4,190.8 474.5,189.7 474.6,196.4 474.7,194.5 474.8,193.3 474.9,189.7 475.0,187.5 475.1,184.5 475.2,186.6 475.3,184.6 475.4,182.2 475.5,178.9 475.6,179.0 475.7,177.4 475.8,177.0 475.9,178.9 476.0,183.1 476.1,183.2 476.2,178.8 476.3,176.4 476.4,179.0 476.5,181.4 476.6,178.4 476.7,176.7 476.8,177.7 476.9,180.6 477.0,180.3 477.1,178.5 477.2,178.3 477.3,179.6 477.4,180.3 477.5,175.9 477.6,174.0 477.7,174.0 477.8,176.3 477.9,177.6 478.0,177.8 478.1,177.2 478.2,177.5 478.3,178.2 478.4,178.9 478.5,180.8 478.6,178.8 478.7,177.9 478.8,177.2 478.9,181.2 479.0,183.9 479.1,183.4 479.2,180.9 479.3,177.3 479.4,175.7 479.5,174.6 479.6,177.1 479.7,177.2 479.8,177.0 479.9,178.5 480.0,178.3 480.1,175.9 480.2,173.7 480.3,175.3 480.4,176.7 480.5,177.5 480.6,175.6 480.7,176.4 480.8,176.7 480.9,177.8 481.0,178.2 481.1,180.9 481.2,180.0 481.3,178.8 481.4,177.3 481.5,177.2 481.6,177.6 481.7,180.9 481.8,181.1 481.9,182.0 482.0,180.8 482.1,181.0 482.2,175.0 482.3,174.3 482.4,180.3 482.5,181.7 482.6,181.6 482.7,188.9 482.8,187.2 482.9,184.1 483.0,181.3 483.1,179.8 483.2,180.7 483.3,182.7 483.4,182.2 483.5,179.7 483.6,178.4 483.7,182.0 483.8,180.5 483.9,179.8 484.0,179.8 484.1,179.3 484.2,178.0 484.3,178.7 484.4,182.2 484.5,188.1 484.6,184.6 484.7,183.2 484.8,186.3 484.9,210.5 485.0,205.5 485.1,201.3 485.2,197.7 485.3,194.7 485.4,192.1 485.5,189.9 485.6,188.1 485.7,186.6 485.8,185.6 485.9,184.1 486.0,183.2 486.1,182.4 486.2,181.7 486.3,181.1 486.4,180.7 486.5,180.3 486.6,181.2 486.7,179.9 486.8,179.8 486.9,179.5 487.0,179.0 487.1,178.8 487.2,178.7 487.3,181.2 487.4,178.6 487.5,178.8 487.6,180.1 487.7,181.6 487.8,180.2 487.9,179.9 488.0,182.6 488.1,182.4 488.2,181.0 488.3,179.9 488.4,185.4 488.5,183.0 488.6,180.0 488.7,178.6 488.8,177.5 488.9,176.7 489.0,181.8 489.1,183.5 489.2,188.6 489.3,187.2 489.4,184.5 489.5,182.4 489.6,179.9 489.7,180.7 489.8,180.3 489.9,183.9 490.0,180.8 490.1,178.7 490.2,176.4 490.3,177.6 490.4,176.8 490.5,175.3 490.6,176.1 490.7,177.4 490.8,179.3 490.9,181.6 491.0,181.0 491.1,177.9 491.2,178.4 491.3,182.9 491.4,181.2 491.5,178.2 491.6,179.7 491.7,179.2 491.8,177.6 491.9,177.9 492.0,180.4 492.1,178.3 492.2,177.9 492.3,184.6 492.4,183.6 492.5,183.9 492.6,185.7 492.7,181.4 492.8,184.7 492.9,185.0 493.0,186.4 493.1,182.5 493.2,181.4 493.3,181.8 493.4,181.0 493.5,178.4 493.6,175.9 493.7,176.3 493.8,178.8 493.9,180.0 494.0,179.2 494.1,179.0 494.2,182.5 494.3,181.1 494.4,179.9 494.5,177.5 494.6,180.9 494.7,182.2 494.8,180.5 494.9,177.9 495.0,177.8 495.1,177.8 495.2,177.4 495.3,178.1 495.4,186.5 495.5,183.6 495.6,183.7 495.7,186.2 495.8,185.7 495.9,182.4 496.0,180.8 496.1,180.5 496.2,179.0 496.3,178.7 496.4,178.3 496.5,180.7 496.6,181.5 496.7,183.1 496.8,180.5 496.9,179.3 497.0,177.9 497.1,177.4 497.2,176.1 497.3,178.0 497.4,178.0 497.5,180.5 497.6,180.9 497.7,185.1 497.8,182.7 497.9,187.2 498.0,185.2 498.1,182.0 498.2,180.6 498.3,179.6 498.4,178.5 498.5,178.9 498.6,179.1 498.7,178.7 498.8,179.3 498.9,179.8 499.0,178.7 499.1,179.5 499.2,178.6 499.3,178.5 499.4,179.0 499.5,179.7 499.6,181.8 499.7,181.9 499.8,179.4 499.9,178.1 500.0,178.5 500.1,179.6 500.2,177.5 500.3,176.8 500.4,176.0 500.5,177.3 500.6,177.8 500.7,179.4 500.8,180.5 500.9,180.4 501.0,180.0 501.1,177.3 501.2,176.8 501.3,176.4 501.4,177.4 501.5,177.4 501.6,175.0 501.7,175.0 501.8,202.1 501.9,198.4 502.0,195.3 502.1,192.6 502.2,190.4 502.3,188.5 502.4,186.9 502.5,185.5 502.6,184.3 502.7,183.4 502.8,183.3 502.9,181.8 503.0,181.3 503.1,180.8 503.2,189.1 503.3,184.2 503.4,184.1 503.5,184.0 503.6,183.5 503.7,179.6 503.8,178.9 503.9,178.7 504.0,178.6 504.1,179.7 504.2,185.6 504.3,188.9 504.4,185.6 504.5,185.6 504.6,186.1 504.7,184.8 504.8,184.0 504.9,186.8 505.0,184.9 505.1,183.2 505.2,182.4 505.3,183.7 505.4,183.2 505.5,183.2 505.6,180.7 505.7,178.9 505.8,177.8 505.9,178.7 506.0,177.8 506.1,180.2 506.2,181.8 506.3,182.8 506.4,179.4 506.5,178.1 506.6,180.7 506.7,179.2 506.8,207.2 506.9,202.7 507.0,198.9 507.1,195.7 507.2,193.0 507.3,190.7 507.4,188.7 507.5,187.1 507.6,185.7 507.7,184.5 507.8,183.5 507.9,182.7 508.0,181.9 508.1,181.3 508.2,180.8 508.3,182.3 508.4,182.0 508.5,182.1 508.6,182.3 508.7,183.2 508.8,183.2 508.9,182.8 509.0,183.0 509.1,179.9 509.2,178.5 509.3,178.5 509.4,178.4 509.5,178.8 509.6,178.3 509.7,178.2 509.8,178.2 509.9,184.4 510.0,181.5 510.1,180.9 510.2,180.6 510.3,179.7 510.4,176.1 510.5,175.3 510.6,182.1 510.7,182.8 510.8,183.2 510.9,182.7 511.0,180.8 511.1,181.4 511.2,182.3 511.3,181.3 511.4,178.9 511.5,178.6 511.6,178.7 511.7,177.2 511.8,175.6 511.9,174.6 512.0,174.1 512.1,173.3 512.2,174.4 512.3,176.9 512.4,187.4 512.5,186.7 512.6,183.5 512.7,184.0 512.8,184.2 512.9,184.4 513.0,182.6 513.1,183.7 513.2,181.3 513.3,179.6 513.4,186.8 513.5,184.7 513.6,184.7 513.7,183.7 513.8,183.5 513.9,183.8 514.0,187.1 514.1,185.3 514.2,182.1 514.3,181.6 514.4,179.6 514.5,180.1 514.6,181.0 514.7,182.5 514.8,178.9 514.9,175.8 515.0,176.0 515.1,178.9 515.2,182.1 515.3,182.5 515.4,182.0 515.5,179.9 515.6,177.5 515.7,175.3 515.8,173.8 515.9,173.9 516.0,177.5 516.1,192.0 516.2,189.8 516.3,188.0 516.4,186.5 516.5,185.2 516.6,184.1 516.7,185.3 516.8,186.0 516.9,185.4 517.0,182.7 517.1,183.5 517.2,181.9 517.3,180.7 517.4,181.0 517.5,179.6 517.6,179.1 517.7,179.0 517.8,179.5 517.9,182.3 518.0,180.7 518.1,180.0 518.2,178.4 518.3,178.6 518.4,178.3 518.5,178.3 518.6,182.2 518.7,184.7 518.8,181.4 518.9,181.7 519.0,182.4 519.1,178.3 519.2,178.1 519.3,178.1 519.4,180.5 519.5,180.1 519.6,181.2 519.7,180.3 519.8,182.6 519.9,183.0 520.0,181.8 520.1,178.3 520.2,176.6 520.3,176.5 520.4,179.9 520.5,179.8 520.6,180.2 520.7,181.8 520.8,181.2 520.9,178.7 521.0,185.8 521.1,188.5 521.2,188.5 521.3,185.5 521.4,182.0 521.5,180.2 521.6,179.1 521.7,179.3 521.8,181.6 521.9,181.9 522.0,178.9 522.1,177.8 522.2,179.6 522.3,184.6 522.4,184.6 522.5,191.1 522.6,184.3 522.7,181.8 522.8,184.4 522.9,183.5 523.0,181.2 523.1,176.9 523.2,177.0 523.3,177.0 523.4,179.8 523.5,181.9 523.6,182.5 523.7,180.4 523.8,178.4 523.9,180.2 524.0,188.5 524.1,185.8 524.2,181.9 524.3,181.6 524.4,181.6 524.5,179.9 524.6,180.1 524.7,180.7 524.8,181.4 524.9,180.3 525.0,180.6 525.1,180.1 525.2,177.1 525.3,176.3 525.4,177.0 525.5,179.1 525.6,178.7 525.7,182.1 525.8,185.2 525.9,185.1 526.0,185.0 526.1,182.7 526.2,180.5 526.3,179.1 526.4,181.2 526.5,182.6 526.6,184.5 526.7,183.5 526.8,183.2 526.9,180.4 527.0,180.4 527.1,197.0 527.2,194.1 527.3,191.6 527.4,189.5 527.5,187.8 527.6,186.3 527.7,185.0 527.8,186.5 527.9,184.0 528.0,182.2 528.1,181.6 528.2,181.0 528.3,180.6 528.4,186.5 528.5,184.2 528.6,183.3 528.7,185.6 528.8,187.0 528.9,184.2 529.0,182.2 529.1,183.8 529.2,195.1 529.3,198.3 529.4,191.6 529.5,187.9 529.6,188.5 529.7,187.7 529.8,182.9 529.9,180.5 530.0,181.2 530.1,182.5 530.2,180.6 530.3,182.1 530.4,181.9 530.5,180.3 530.6,178.1 530.7,184.4 530.8,187.8 530.9,187.5 531.0,182.7 531.1,180.1 531.2,180.9 531.3,180.3 531.4,181.7 531.5,182.1 531.6,178.9 531.7,174.9 531.8,174.6 531.9,180.6 532.0,184.7 532.1,184.6 532.2,180.0 532.3,177.2 532.4,177.4 532.5,178.1 532.6,178.1 532.7,179.2 532.8,179.3 532.9,177.2 533.0,176.3 533.1,175.6 533.2,175.7 533.3,177.1 533.4,180.0 533.5,178.4 533.6,176.5 533.7,176.4 533.8,177.7 533.9,179.1 534.0,179.2 534.1,176.9 534.2,177.2 534.3,183.1 534.4,183.9 534.5,182.4 534.6,182.6 534.7,181.8 534.8,181.8 534.9,182.1 535.0,188.6 535.1,186.3 535.2,185.6 535.3,183.5 535.4,184.1 535.5,205.5 535.6,201.3 535.7,197.7 535.8,194.7 535.9,192.1 536.0,189.9 536.1,188.1 536.2,186.6 536.3,185.2 536.4,184.1 536.5,183.2 536.6,182.4 536.7,181.7 536.8,184.8 536.9,183.6 537.0,184.5 537.1,184.3 537.2,183.5 537.3,183.4 537.4,182.5 537.5,181.3 537.6,179.7 537.7,178.7 537.8,178.6 537.9,178.5 538.0,180.4 538.1,182.4 538.2,182.4 538.3,178.3 538.4,178.2 538.5,178.2 538.6,182.8 538.7,183.3 538.8,180.3 538.9,178.1 539.0,178.1 539.1,175.4 539.2,186.9 539.3,190.3 539.4,188.7 539.5,186.5 539.6,182.9 539.7,182.4 539.8,181.7 539.9,181.6 540.0,182.9 540.1,181.8 540.2,182.1 540.3,180.5 540.4,180.5 540.5,180.5 540.6,180.5 540.7,180.7 540.8,179.6 540.9,181.1 541.0,179.3 541.1,178.8 541.2,179.0 541.3,179.7 541.4,177.8 541.5,176.0 541.6,176.6 541.7,177.1 541.8,178.5 541.9,178.8 542.0,179.2 542.1,178.4 542.2,198.7 542.3,195.5 542.4,192.8 542.5,190.6 542.6,188.6 542.7,187.0 542.8,185.6 542.9,184.7 543.0,184.1 543.1,182.6 543.2,181.9 543.3,181.3 543.4,180.8 543.5,180.4 543.6,180.0 543.7,179.7 543.8,179.4 543.9,179.2 544.0,184.1 544.1,184.9 544.2,184.8 544.3,182.6 544.4,181.2 544.5,178.4 544.6,178.4 544.7,180.2 544.8,182.1 544.9,181.7 545.0,180.2 545.1,179.6 545.2,178.5 545.3,179.8 545.4,181.9 545.5,182.4 545.6,180.8 545.7,180.7 545.8,182.6 545.9,184.9 546.0,184.9 546.1,184.9 546.2,182.4 546.3,179.7 546.4,180.5 546.5,182.2 546.6,180.5 546.7,178.4 546.8,179.6 546.9,180.4 547.0,181.1 547.1,182.0 547.2,183.1 547.3,178.8 547.4,179.4 547.5,180.8 547.6,179.5 547.7,177.2 547.8,176.6 547.9,176.3 548.0,178.2 548.1,180.6 548.2,184.6 548.3,179.9 548.4,178.3 548.5,179.3 548.6,182.1 548.7,184.2 548.8,184.1 548.9,183.6 549.0,208.9 549.1,204.2 549.2,200.1 549.3,196.7 549.4,193.9 549.5,191.4 549.6,189.4 549.7,187.6 549.8,186.1 549.9,184.9 550.0,183.8 550.1,182.9 550.2,185.9 550.3,183.1 550.4,182.9 550.5,184.7 550.6,184.2 550.7,179.8 550.8,179.5 550.9,179.3 551.0,179.3 551.1,179.5 551.2,179.9 551.3,178.7 551.4,178.6 551.5,181.2 551.6,183.0 551.7,182.1 551.8,178.3 551.9,180.3 552.0,180.9 552.1,181.2 552.2,181.4 552.3,182.8 552.4,183.4 552.5,179.6 552.6,176.7 552.7,177.6 552.8,178.5 552.9,180.8 553.0,182.2 553.1,183.5 553.2,179.1 553.3,175.6 553.4,176.5 553.5,178.8 553.6,179.3 553.7,176.5 553.8,176.3 553.9,177.0 554.0,177.6 554.1,175.7 554.2,176.2 554.3,177.1 554.4,178.1 554.5,176.1 554.6,175.6 554.7,176.9 554.8,179.0 554.9,179.2 555.0,177.6 555.1,177.6 555.2,179.5 555.3,180.0 555.4,176.8 555.5,176.9 555.6,178.9 555.7,177.5 555.8,176.1 555.9,177.0 556.0,178.0 556.1,176.9 556.2,175.8 556.3,175.1 556.4,173.4 556.5,175.4 556.6,176.7 556.7,178.1 556.8,177.3 556.9,175.1 557.0,174.0 557.1,173.4 557.2,176.9 557.3,176.3 557.4,177.5 557.5,178.9 557.6,181.4 557.7,181.0 557.8,181.0 557.9,181.0 558.0,178.7 558.1,175.3 558.2,176.6 558.3,179.7 558.4,182.2 558.5,185.5 558.6,183.5 558.7,182.3 558.8,182.9 558.9,181.4 559.0,181.4" fill="none" stroke="#111" stroke-width="1.3" stroke-linejoin="round"/>
<polyline points="233.1,262.5 309.8,262.5 309.8,206.3" fill="none" stroke="#111" stroke-width="2.6"/>
<rect x="213.60" y="321.80" width="114.40" height="10.00" fill="#c4c4c4" stroke="#111" stroke-width="1.6" />
<line x1="384.90" y1="318.70" x2="433.50" y2="318.70" stroke="#111" stroke-width="1.6" />
<circle cx="408.9" cy="318.7" r="4.3" fill="#111"/>
<line x1="384.90" y1="346.00" x2="433.50" y2="346.00" stroke="#111" stroke-width="1.6" />
<circle cx="408.9" cy="346.0" r="3.5" fill="#fff" stroke="#111" stroke-width="1.5"/>
<line x1="140.10" y1="336.50" x2="140.10" y2="491.60" stroke="#111" stroke-width="2" />
<line x1="139.10" y1="485.30" x2="575.50" y2="485.30" stroke="#111" stroke-width="2" />
<line x1="134.20" y1="378.65" x2="140.10" y2="378.65" stroke="#111" stroke-width="2" />
<line x1="134.20" y1="433.20" x2="140.10" y2="433.20" stroke="#111" stroke-width="2" />
<line x1="134.20" y1="487.50" x2="140.10" y2="487.50" stroke="#111" stroke-width="2" />
<line x1="140.10" y1="485.30" x2="140.10" y2="491.40" stroke="#111" stroke-width="2" />
<line x1="212.50" y1="485.30" x2="212.50" y2="491.40" stroke="#111" stroke-width="2" />
<line x1="284.90" y1="485.30" x2="284.90" y2="491.40" stroke="#111" stroke-width="2" />
<line x1="357.30" y1="485.30" x2="357.30" y2="491.40" stroke="#111" stroke-width="2" />
<line x1="429.70" y1="485.30" x2="429.70" y2="491.40" stroke="#111" stroke-width="2" />
<line x1="502.10" y1="485.30" x2="502.10" y2="491.40" stroke="#111" stroke-width="2" />
<line x1="574.50" y1="485.30" x2="574.50" y2="491.40" stroke="#111" stroke-width="2" />
<line x1="143.10" y1="401.90" x2="143.10" y2="422.70" stroke="#111" stroke-width="1.5" />
<line x1="137.50" y1="401.90" x2="148.70" y2="401.90" stroke="#111" stroke-width="2.0" />
<line x1="137.50" y1="422.70" x2="148.70" y2="422.70" stroke="#111" stroke-width="2.0" />
<line x1="155.20" y1="419.00" x2="155.20" y2="436.60" stroke="#111" stroke-width="1.5" />
<line x1="149.60" y1="419.00" x2="160.80" y2="419.00" stroke="#111" stroke-width="2.0" />
<line x1="149.60" y1="436.60" x2="160.80" y2="436.60" stroke="#111" stroke-width="2.0" />
<line x1="167.40" y1="410.20" x2="167.40" y2="448.00" stroke="#111" stroke-width="1.5" />
<line x1="161.80" y1="410.20" x2="173.00" y2="410.20" stroke="#111" stroke-width="2.0" />
<line x1="161.80" y1="448.00" x2="173.00" y2="448.00" stroke="#111" stroke-width="2.0" />
<line x1="179.30" y1="418.50" x2="179.30" y2="430.50" stroke="#111" stroke-width="1.5" />
<line x1="173.70" y1="418.50" x2="184.90" y2="418.50" stroke="#111" stroke-width="2.0" />
<line x1="173.70" y1="430.50" x2="184.90" y2="430.50" stroke="#111" stroke-width="2.0" />
<line x1="191.20" y1="413.30" x2="191.20" y2="431.30" stroke="#111" stroke-width="1.5" />
<line x1="185.60" y1="413.30" x2="196.80" y2="413.30" stroke="#111" stroke-width="2.0" />
<line x1="185.60" y1="431.30" x2="196.80" y2="431.30" stroke="#111" stroke-width="2.0" />
<line x1="203.30" y1="424.00" x2="203.30" y2="458.60" stroke="#111" stroke-width="1.5" />
<line x1="197.70" y1="424.00" x2="208.90" y2="424.00" stroke="#111" stroke-width="2.0" />
<line x1="197.70" y1="458.60" x2="208.90" y2="458.60" stroke="#111" stroke-width="2.0" />
<line x1="215.70" y1="415.20" x2="215.70" y2="433.20" stroke="#111" stroke-width="1.5" />
<line x1="210.10" y1="415.20" x2="221.30" y2="415.20" stroke="#111" stroke-width="2.0" />
<line x1="210.10" y1="433.20" x2="221.30" y2="433.20" stroke="#111" stroke-width="2.0" />
<line x1="227.40" y1="438.00" x2="227.40" y2="458.00" stroke="#111" stroke-width="1.5" />
<line x1="221.80" y1="438.00" x2="233.00" y2="438.00" stroke="#111" stroke-width="2.0" />
<line x1="221.80" y1="458.00" x2="233.00" y2="458.00" stroke="#111" stroke-width="2.0" />
<line x1="239.50" y1="428.20" x2="239.50" y2="442.20" stroke="#111" stroke-width="1.5" />
<line x1="233.90" y1="428.20" x2="245.10" y2="428.20" stroke="#111" stroke-width="2.0" />
<line x1="233.90" y1="442.20" x2="245.10" y2="442.20" stroke="#111" stroke-width="2.0" />
<line x1="251.40" y1="406.90" x2="251.40" y2="441.90" stroke="#111" stroke-width="1.5" />
<line x1="245.80" y1="406.90" x2="257.00" y2="406.90" stroke="#111" stroke-width="2.0" />
<line x1="245.80" y1="441.90" x2="257.00" y2="441.90" stroke="#111" stroke-width="2.0" />
<line x1="263.60" y1="415.70" x2="263.60" y2="441.70" stroke="#111" stroke-width="1.5" />
<line x1="258.00" y1="415.70" x2="269.20" y2="415.70" stroke="#111" stroke-width="2.0" />
<line x1="258.00" y1="441.70" x2="269.20" y2="441.70" stroke="#111" stroke-width="2.0" />
<line x1="275.90" y1="407.60" x2="275.90" y2="418.60" stroke="#111" stroke-width="1.5" />
<line x1="270.30" y1="407.60" x2="281.50" y2="407.60" stroke="#111" stroke-width="2.0" />
<line x1="270.30" y1="418.60" x2="281.50" y2="418.60" stroke="#111" stroke-width="2.0" />
<line x1="287.80" y1="356.60" x2="287.80" y2="389.20" stroke="#111" stroke-width="1.5" />
<line x1="282.20" y1="356.60" x2="293.40" y2="356.60" stroke="#111" stroke-width="2.0" />
<line x1="282.20" y1="389.20" x2="293.40" y2="389.20" stroke="#111" stroke-width="2.0" />
<line x1="300.20" y1="369.10" x2="300.20" y2="383.50" stroke="#111" stroke-width="1.5" />
<line x1="294.60" y1="369.10" x2="305.80" y2="369.10" stroke="#111" stroke-width="2.0" />
<line x1="294.60" y1="383.50" x2="305.80" y2="383.50" stroke="#111" stroke-width="2.0" />
<line x1="312.50" y1="364.30" x2="312.50" y2="396.30" stroke="#111" stroke-width="1.5" />
<line x1="306.90" y1="364.30" x2="318.10" y2="364.30" stroke="#111" stroke-width="2.0" />
<line x1="306.90" y1="396.30" x2="318.10" y2="396.30" stroke="#111" stroke-width="2.0" />
<line x1="324.30" y1="342.40" x2="324.30" y2="371.00" stroke="#111" stroke-width="1.5" />
<line x1="318.70" y1="342.40" x2="329.90" y2="342.40" stroke="#111" stroke-width="2.0" />
<line x1="318.70" y1="371.00" x2="329.90" y2="371.00" stroke="#111" stroke-width="2.0" />
<line x1="330.50" y1="362.80" x2="330.50" y2="387.60" stroke="#111" stroke-width="1.5" />
<line x1="324.90" y1="362.80" x2="336.10" y2="362.80" stroke="#111" stroke-width="2.0" />
<line x1="324.90" y1="387.60" x2="336.10" y2="387.60" stroke="#111" stroke-width="2.0" />
<line x1="342.60" y1="372.80" x2="342.60" y2="398.00" stroke="#111" stroke-width="1.5" />
<line x1="337.00" y1="372.80" x2="348.20" y2="372.80" stroke="#111" stroke-width="2.0" />
<line x1="337.00" y1="398.00" x2="348.20" y2="398.00" stroke="#111" stroke-width="2.0" />
<line x1="348.40" y1="411.40" x2="348.40" y2="426.40" stroke="#111" stroke-width="1.5" />
<line x1="342.80" y1="411.40" x2="354.00" y2="411.40" stroke="#111" stroke-width="2.0" />
<line x1="342.80" y1="426.40" x2="354.00" y2="426.40" stroke="#111" stroke-width="2.0" />
<line x1="360.40" y1="423.00" x2="360.40" y2="439.00" stroke="#111" stroke-width="1.5" />
<line x1="354.80" y1="423.00" x2="366.00" y2="423.00" stroke="#111" stroke-width="2.0" />
<line x1="354.80" y1="439.00" x2="366.00" y2="439.00" stroke="#111" stroke-width="2.0" />
<line x1="372.40" y1="436.00" x2="372.40" y2="452.00" stroke="#111" stroke-width="1.5" />
<line x1="366.80" y1="436.00" x2="378.00" y2="436.00" stroke="#111" stroke-width="2.0" />
<line x1="366.80" y1="452.00" x2="378.00" y2="452.00" stroke="#111" stroke-width="2.0" />
<line x1="384.60" y1="405.80" x2="384.60" y2="443.80" stroke="#111" stroke-width="1.5" />
<line x1="379.00" y1="405.80" x2="390.20" y2="405.80" stroke="#111" stroke-width="2.0" />
<line x1="379.00" y1="443.80" x2="390.20" y2="443.80" stroke="#111" stroke-width="2.0" />
<line x1="396.60" y1="403.80" x2="396.60" y2="427.40" stroke="#111" stroke-width="1.5" />
<line x1="391.00" y1="403.80" x2="402.20" y2="403.80" stroke="#111" stroke-width="2.0" />
<line x1="391.00" y1="427.40" x2="402.20" y2="427.40" stroke="#111" stroke-width="2.0" />
<line x1="408.70" y1="415.70" x2="408.70" y2="450.70" stroke="#111" stroke-width="1.5" />
<line x1="403.10" y1="415.70" x2="414.30" y2="415.70" stroke="#111" stroke-width="2.0" />
<line x1="403.10" y1="450.70" x2="414.30" y2="450.70" stroke="#111" stroke-width="2.0" />
<line x1="420.90" y1="423.50" x2="420.90" y2="448.30" stroke="#111" stroke-width="1.5" />
<line x1="415.30" y1="423.50" x2="426.50" y2="423.50" stroke="#111" stroke-width="2.0" />
<line x1="415.30" y1="448.30" x2="426.50" y2="448.30" stroke="#111" stroke-width="2.0" />
<line x1="433.00" y1="414.00" x2="433.00" y2="447.00" stroke="#111" stroke-width="1.5" />
<line x1="427.40" y1="414.00" x2="438.60" y2="414.00" stroke="#111" stroke-width="2.0" />
<line x1="427.40" y1="447.00" x2="438.60" y2="447.00" stroke="#111" stroke-width="2.0" />
<line x1="445.20" y1="410.00" x2="445.20" y2="436.00" stroke="#111" stroke-width="1.5" />
<line x1="439.60" y1="410.00" x2="450.80" y2="410.00" stroke="#111" stroke-width="2.0" />
<line x1="439.60" y1="436.00" x2="450.80" y2="436.00" stroke="#111" stroke-width="2.0" />
<line x1="457.40" y1="415.30" x2="457.40" y2="442.30" stroke="#111" stroke-width="1.5" />
<line x1="451.80" y1="415.30" x2="463.00" y2="415.30" stroke="#111" stroke-width="2.0" />
<line x1="451.80" y1="442.30" x2="463.00" y2="442.30" stroke="#111" stroke-width="2.0" />
<line x1="469.60" y1="412.40" x2="469.60" y2="440.00" stroke="#111" stroke-width="1.5" />
<line x1="464.00" y1="412.40" x2="475.20" y2="412.40" stroke="#111" stroke-width="2.0" />
<line x1="464.00" y1="440.00" x2="475.20" y2="440.00" stroke="#111" stroke-width="2.0" />
<line x1="481.20" y1="424.40" x2="481.20" y2="464.40" stroke="#111" stroke-width="1.5" />
<line x1="475.60" y1="424.40" x2="486.80" y2="424.40" stroke="#111" stroke-width="2.0" />
<line x1="475.60" y1="464.40" x2="486.80" y2="464.40" stroke="#111" stroke-width="2.0" />
<line x1="492.90" y1="433.00" x2="492.90" y2="453.00" stroke="#111" stroke-width="1.5" />
<line x1="487.30" y1="433.00" x2="498.50" y2="433.00" stroke="#111" stroke-width="2.0" />
<line x1="487.30" y1="453.00" x2="498.50" y2="453.00" stroke="#111" stroke-width="2.0" />
<line x1="505.70" y1="407.30" x2="505.70" y2="431.50" stroke="#111" stroke-width="1.5" />
<line x1="500.10" y1="407.30" x2="511.30" y2="407.30" stroke="#111" stroke-width="2.0" />
<line x1="500.10" y1="431.50" x2="511.30" y2="431.50" stroke="#111" stroke-width="2.0" />
<line x1="517.60" y1="410.80" x2="517.60" y2="445.80" stroke="#111" stroke-width="1.5" />
<line x1="512.00" y1="410.80" x2="523.20" y2="410.80" stroke="#111" stroke-width="2.0" />
<line x1="512.00" y1="445.80" x2="523.20" y2="445.80" stroke="#111" stroke-width="2.0" />
<line x1="529.60" y1="405.40" x2="529.60" y2="441.80" stroke="#111" stroke-width="1.5" />
<line x1="524.00" y1="405.40" x2="535.20" y2="405.40" stroke="#111" stroke-width="2.0" />
<line x1="524.00" y1="441.80" x2="535.20" y2="441.80" stroke="#111" stroke-width="2.0" />
<line x1="541.70" y1="403.20" x2="541.70" y2="437.20" stroke="#111" stroke-width="1.5" />
<line x1="536.10" y1="403.20" x2="547.30" y2="403.20" stroke="#111" stroke-width="2.0" />
<line x1="536.10" y1="437.20" x2="547.30" y2="437.20" stroke="#111" stroke-width="2.0" />
<line x1="553.80" y1="388.10" x2="553.80" y2="421.30" stroke="#111" stroke-width="1.5" />
<line x1="548.20" y1="388.10" x2="559.40" y2="388.10" stroke="#111" stroke-width="2.0" />
<line x1="548.20" y1="421.30" x2="559.40" y2="421.30" stroke="#111" stroke-width="2.0" />
<line x1="566.00" y1="418.80" x2="566.00" y2="445.80" stroke="#111" stroke-width="1.5" />
<line x1="560.40" y1="418.80" x2="571.60" y2="418.80" stroke="#111" stroke-width="2.0" />
<line x1="560.40" y1="445.80" x2="571.60" y2="445.80" stroke="#111" stroke-width="2.0" />
<polyline points="143.1,412.3 155.2,427.8 167.4,429.1 179.3,424.5 191.2,422.3 203.3,441.3 215.7,424.2 227.4,448.0 239.5,435.2 251.4,424.4 263.6,428.7 275.9,413.1 287.8,372.9 300.2,376.3 312.5,380.3 324.3,356.7 330.5,375.2 342.6,385.4 348.4,418.9 360.4,431 372.4,444 384.6,424.8 396.6,415.6 408.7,433.2 420.9,435.9 433,430.5 445.2,423 457.4,428.8 469.6,426.2 481.2,444.4 492.9,443 505.7,419.4 517.6,428.3 529.6,423.6 541.7,420.2 553.8,404.7 566,432.3 575.3,437.6" fill="none" stroke="#111" stroke-width="1.6"/>
<circle cx="143.1" cy="412.3" r="4.8" fill="#111"/>
<circle cx="155.2" cy="427.8" r="4.8" fill="#111"/>
<circle cx="167.4" cy="429.1" r="4.8" fill="#111"/>
<circle cx="179.3" cy="424.5" r="4.8" fill="#111"/>
<circle cx="191.2" cy="422.3" r="4.8" fill="#111"/>
<circle cx="203.3" cy="441.3" r="4.8" fill="#111"/>
<circle cx="215.7" cy="424.2" r="4.8" fill="#111"/>
<circle cx="227.4" cy="448.0" r="4.8" fill="#111"/>
<circle cx="239.5" cy="435.2" r="4.8" fill="#111"/>
<circle cx="251.4" cy="424.4" r="4.8" fill="#111"/>
<circle cx="263.6" cy="428.7" r="4.8" fill="#111"/>
<circle cx="275.9" cy="413.1" r="4.8" fill="#111"/>
<circle cx="287.8" cy="372.9" r="4.8" fill="#111"/>
<circle cx="300.2" cy="376.3" r="4.8" fill="#111"/>
<circle cx="312.5" cy="380.3" r="4.8" fill="#111"/>
<circle cx="324.3" cy="356.7" r="4.8" fill="#111"/>
<circle cx="330.5" cy="375.2" r="4.8" fill="#111"/>
<circle cx="342.6" cy="385.4" r="4.8" fill="#111"/>
<circle cx="348.4" cy="418.9" r="4.8" fill="#111"/>
<circle cx="360.4" cy="431" r="4.8" fill="#111"/>
<circle cx="372.4" cy="444" r="4.8" fill="#111"/>
<circle cx="384.6" cy="424.8" r="4.8" fill="#111"/>
<circle cx="396.6" cy="415.6" r="4.8" fill="#111"/>
<circle cx="408.7" cy="433.2" r="4.8" fill="#111"/>
<circle cx="420.9" cy="435.9" r="4.8" fill="#111"/>
<circle cx="433" cy="430.5" r="4.8" fill="#111"/>
<circle cx="445.2" cy="423" r="4.8" fill="#111"/>
<circle cx="457.4" cy="428.8" r="4.8" fill="#111"/>
<circle cx="469.6" cy="426.2" r="4.8" fill="#111"/>
<circle cx="481.2" cy="444.4" r="4.8" fill="#111"/>
<circle cx="492.9" cy="443" r="4.8" fill="#111"/>
<circle cx="505.7" cy="419.4" r="4.8" fill="#111"/>
<circle cx="517.6" cy="428.3" r="4.8" fill="#111"/>
<circle cx="529.6" cy="423.6" r="4.8" fill="#111"/>
<circle cx="541.7" cy="420.2" r="4.8" fill="#111"/>
<circle cx="553.8" cy="404.7" r="4.8" fill="#111"/>
<circle cx="566" cy="432.3" r="4.8" fill="#111"/>
<line x1="143.10" y1="433.20" x2="143.10" y2="445.20" stroke="#111" stroke-width="1.5" />
<line x1="137.50" y1="433.20" x2="148.70" y2="433.20" stroke="#111" stroke-width="2.0" />
<line x1="137.50" y1="445.20" x2="148.70" y2="445.20" stroke="#111" stroke-width="2.0" />
<line x1="155.20" y1="437.10" x2="155.20" y2="471.10" stroke="#111" stroke-width="1.5" />
<line x1="149.60" y1="437.10" x2="160.80" y2="437.10" stroke="#111" stroke-width="2.0" />
<line x1="149.60" y1="471.10" x2="160.80" y2="471.10" stroke="#111" stroke-width="2.0" />
<line x1="167.40" y1="409.50" x2="167.40" y2="459.50" stroke="#111" stroke-width="1.5" />
<line x1="161.80" y1="409.50" x2="173.00" y2="409.50" stroke="#111" stroke-width="2.0" />
<line x1="161.80" y1="459.50" x2="173.00" y2="459.50" stroke="#111" stroke-width="2.0" />
<line x1="179.30" y1="419.20" x2="179.30" y2="437.20" stroke="#111" stroke-width="1.5" />
<line x1="173.70" y1="419.20" x2="184.90" y2="419.20" stroke="#111" stroke-width="2.0" />
<line x1="173.70" y1="437.20" x2="184.90" y2="437.20" stroke="#111" stroke-width="2.0" />
<line x1="191.20" y1="437.40" x2="191.20" y2="460.40" stroke="#111" stroke-width="1.5" />
<line x1="185.60" y1="437.40" x2="196.80" y2="437.40" stroke="#111" stroke-width="2.0" />
<line x1="185.60" y1="460.40" x2="196.80" y2="460.40" stroke="#111" stroke-width="2.0" />
<line x1="209.00" y1="418.30" x2="209.00" y2="445.70" stroke="#111" stroke-width="1.5" />
<line x1="203.40" y1="418.30" x2="214.60" y2="418.30" stroke="#111" stroke-width="2.0" />
<line x1="203.40" y1="445.70" x2="214.60" y2="445.70" stroke="#111" stroke-width="2.0" />
<line x1="222.00" y1="407.10" x2="222.00" y2="424.10" stroke="#111" stroke-width="1.5" />
<line x1="216.40" y1="407.10" x2="227.60" y2="407.10" stroke="#111" stroke-width="2.0" />
<line x1="216.40" y1="424.10" x2="227.60" y2="424.10" stroke="#111" stroke-width="2.0" />
<line x1="233.40" y1="435.00" x2="233.40" y2="469.00" stroke="#111" stroke-width="1.5" />
<line x1="227.80" y1="435.00" x2="239.00" y2="435.00" stroke="#111" stroke-width="2.0" />
<line x1="227.80" y1="469.00" x2="239.00" y2="469.00" stroke="#111" stroke-width="2.0" />
<line x1="245.60" y1="433.80" x2="245.60" y2="459.60" stroke="#111" stroke-width="1.5" />
<line x1="240.00" y1="433.80" x2="251.20" y2="433.80" stroke="#111" stroke-width="2.0" />
<line x1="240.00" y1="459.60" x2="251.20" y2="459.60" stroke="#111" stroke-width="2.0" />
<line x1="257.50" y1="437.20" x2="257.50" y2="453.20" stroke="#111" stroke-width="1.5" />
<line x1="251.90" y1="437.20" x2="263.10" y2="437.20" stroke="#111" stroke-width="2.0" />
<line x1="251.90" y1="453.20" x2="263.10" y2="453.20" stroke="#111" stroke-width="2.0" />
<line x1="269.70" y1="409.00" x2="269.70" y2="441.00" stroke="#111" stroke-width="1.5" />
<line x1="264.10" y1="409.00" x2="275.30" y2="409.00" stroke="#111" stroke-width="2.0" />
<line x1="264.10" y1="441.00" x2="275.30" y2="441.00" stroke="#111" stroke-width="2.0" />
<line x1="282.00" y1="424.30" x2="282.00" y2="441.70" stroke="#111" stroke-width="1.5" />
<line x1="276.40" y1="424.30" x2="287.60" y2="424.30" stroke="#111" stroke-width="2.0" />
<line x1="276.40" y1="441.70" x2="287.60" y2="441.70" stroke="#111" stroke-width="2.0" />
<line x1="300.20" y1="429.90" x2="300.20" y2="456.30" stroke="#111" stroke-width="1.5" />
<line x1="294.60" y1="429.90" x2="305.80" y2="429.90" stroke="#111" stroke-width="2.0" />
<line x1="294.60" y1="456.30" x2="305.80" y2="456.30" stroke="#111" stroke-width="2.0" />
<line x1="312.30" y1="440.00" x2="312.30" y2="470.40" stroke="#111" stroke-width="1.5" />
<line x1="306.70" y1="440.00" x2="317.90" y2="440.00" stroke="#111" stroke-width="2.0" />
<line x1="306.70" y1="470.40" x2="317.90" y2="470.40" stroke="#111" stroke-width="2.0" />
<line x1="324.10" y1="422.10" x2="324.10" y2="435.70" stroke="#111" stroke-width="1.5" />
<line x1="318.50" y1="422.10" x2="329.70" y2="422.10" stroke="#111" stroke-width="2.0" />
<line x1="318.50" y1="435.70" x2="329.70" y2="435.70" stroke="#111" stroke-width="2.0" />
<line x1="336.60" y1="412.90" x2="336.60" y2="428.70" stroke="#111" stroke-width="1.5" />
<line x1="331.00" y1="412.90" x2="342.20" y2="412.90" stroke="#111" stroke-width="2.0" />
<line x1="331.00" y1="428.70" x2="342.20" y2="428.70" stroke="#111" stroke-width="2.0" />
<line x1="348.60" y1="447.30" x2="348.60" y2="471.90" stroke="#111" stroke-width="1.5" />
<line x1="343.00" y1="447.30" x2="354.20" y2="447.30" stroke="#111" stroke-width="2.0" />
<line x1="343.00" y1="471.90" x2="354.20" y2="471.90" stroke="#111" stroke-width="2.0" />
<line x1="360.30" y1="422.10" x2="360.30" y2="442.70" stroke="#111" stroke-width="1.5" />
<line x1="354.70" y1="422.10" x2="365.90" y2="422.10" stroke="#111" stroke-width="2.0" />
<line x1="354.70" y1="442.70" x2="365.90" y2="442.70" stroke="#111" stroke-width="2.0" />
<line x1="372.50" y1="436.20" x2="372.50" y2="458.00" stroke="#111" stroke-width="1.5" />
<line x1="366.90" y1="436.20" x2="378.10" y2="436.20" stroke="#111" stroke-width="2.0" />
<line x1="366.90" y1="458.00" x2="378.10" y2="458.00" stroke="#111" stroke-width="2.0" />
<line x1="384.50" y1="420.50" x2="384.50" y2="449.50" stroke="#111" stroke-width="1.5" />
<line x1="378.90" y1="420.50" x2="390.10" y2="420.50" stroke="#111" stroke-width="2.0" />
<line x1="378.90" y1="449.50" x2="390.10" y2="449.50" stroke="#111" stroke-width="2.0" />
<line x1="396.60" y1="435.00" x2="396.60" y2="453.00" stroke="#111" stroke-width="1.5" />
<line x1="391.00" y1="435.00" x2="402.20" y2="435.00" stroke="#111" stroke-width="2.0" />
<line x1="391.00" y1="453.00" x2="402.20" y2="453.00" stroke="#111" stroke-width="2.0" />
<line x1="408.00" y1="393.00" x2="408.00" y2="423.40" stroke="#111" stroke-width="1.5" />
<line x1="402.40" y1="393.00" x2="413.60" y2="393.00" stroke="#111" stroke-width="2.0" />
<line x1="402.40" y1="423.40" x2="413.60" y2="423.40" stroke="#111" stroke-width="2.0" />
<line x1="420.90" y1="400.10" x2="420.90" y2="437.10" stroke="#111" stroke-width="1.5" />
<line x1="415.30" y1="400.10" x2="426.50" y2="400.10" stroke="#111" stroke-width="2.0" />
<line x1="415.30" y1="437.10" x2="426.50" y2="437.10" stroke="#111" stroke-width="2.0" />
<line x1="432.70" y1="407.50" x2="432.70" y2="433.30" stroke="#111" stroke-width="1.5" />
<line x1="427.10" y1="407.50" x2="438.30" y2="407.50" stroke="#111" stroke-width="2.0" />
<line x1="427.10" y1="433.30" x2="438.30" y2="433.30" stroke="#111" stroke-width="2.0" />
<line x1="445.20" y1="402.80" x2="445.20" y2="432.60" stroke="#111" stroke-width="1.5" />
<line x1="439.60" y1="402.80" x2="450.80" y2="402.80" stroke="#111" stroke-width="2.0" />
<line x1="439.60" y1="432.60" x2="450.80" y2="432.60" stroke="#111" stroke-width="2.0" />
<line x1="457.40" y1="402.50" x2="457.40" y2="433.70" stroke="#111" stroke-width="1.5" />
<line x1="451.80" y1="402.50" x2="463.00" y2="402.50" stroke="#111" stroke-width="2.0" />
<line x1="451.80" y1="433.70" x2="463.00" y2="433.70" stroke="#111" stroke-width="2.0" />
<line x1="469.30" y1="397.80" x2="469.30" y2="419.40" stroke="#111" stroke-width="1.5" />
<line x1="463.70" y1="397.80" x2="474.90" y2="397.80" stroke="#111" stroke-width="2.0" />
<line x1="463.70" y1="419.40" x2="474.90" y2="419.40" stroke="#111" stroke-width="2.0" />
<line x1="481.20" y1="425.50" x2="481.20" y2="449.70" stroke="#111" stroke-width="1.5" />
<line x1="475.60" y1="425.50" x2="486.80" y2="425.50" stroke="#111" stroke-width="2.0" />
<line x1="475.60" y1="449.70" x2="486.80" y2="449.70" stroke="#111" stroke-width="2.0" />
<line x1="492.90" y1="420.80" x2="492.90" y2="450.40" stroke="#111" stroke-width="1.5" />
<line x1="487.30" y1="420.80" x2="498.50" y2="420.80" stroke="#111" stroke-width="2.0" />
<line x1="487.30" y1="450.40" x2="498.50" y2="450.40" stroke="#111" stroke-width="2.0" />
<line x1="505.70" y1="416.00" x2="505.70" y2="448.40" stroke="#111" stroke-width="1.5" />
<line x1="500.10" y1="416.00" x2="511.30" y2="416.00" stroke="#111" stroke-width="2.0" />
<line x1="500.10" y1="448.40" x2="511.30" y2="448.40" stroke="#111" stroke-width="2.0" />
<line x1="517.60" y1="419.50" x2="517.60" y2="446.50" stroke="#111" stroke-width="1.5" />
<line x1="512.00" y1="419.50" x2="523.20" y2="419.50" stroke="#111" stroke-width="2.0" />
<line x1="512.00" y1="446.50" x2="523.20" y2="446.50" stroke="#111" stroke-width="2.0" />
<line x1="529.60" y1="404.70" x2="529.60" y2="433.10" stroke="#111" stroke-width="1.5" />
<line x1="524.00" y1="404.70" x2="535.20" y2="404.70" stroke="#111" stroke-width="2.0" />
<line x1="524.00" y1="433.10" x2="535.20" y2="433.10" stroke="#111" stroke-width="2.0" />
<line x1="541.70" y1="410.90" x2="541.70" y2="437.70" stroke="#111" stroke-width="1.5" />
<line x1="536.10" y1="410.90" x2="547.30" y2="410.90" stroke="#111" stroke-width="2.0" />
<line x1="536.10" y1="437.70" x2="547.30" y2="437.70" stroke="#111" stroke-width="2.0" />
<line x1="547.80" y1="426.60" x2="547.80" y2="459.60" stroke="#111" stroke-width="1.5" />
<line x1="542.20" y1="426.60" x2="553.40" y2="426.60" stroke="#111" stroke-width="2.0" />
<line x1="542.20" y1="459.60" x2="553.40" y2="459.60" stroke="#111" stroke-width="2.0" />
<line x1="560.20" y1="429.90" x2="560.20" y2="459.10" stroke="#111" stroke-width="1.5" />
<line x1="554.60" y1="429.90" x2="565.80" y2="429.90" stroke="#111" stroke-width="2.0" />
<line x1="554.60" y1="459.10" x2="565.80" y2="459.10" stroke="#111" stroke-width="2.0" />
<line x1="572.10" y1="419.50" x2="572.10" y2="430.30" stroke="#111" stroke-width="1.5" />
<line x1="566.50" y1="419.50" x2="577.70" y2="419.50" stroke="#111" stroke-width="2.0" />
<line x1="566.50" y1="430.30" x2="577.70" y2="430.30" stroke="#111" stroke-width="2.0" />
<polyline points="143.1,439.2 155.2,454.1 167.4,434.5 179.3,428.2 191.2,448.9 209.0,432.0 222.0,415.6 233.4,452.0 245.6,446.7 257.5,445.2 269.7,425.0 282.0,433.0 300.2,443.1 312.3,455.2 324.1,428.9 336.6,420.8 348.6,459.6 360.3,432.4 372.5,447.1 384.5,435.0 396.6,444.0 408.0,408.2 420.9,418.6 432.7,420.4 445.2,417.7 457.4,418.1 469.3,408.6 481.2,437.6 492.9,435.6 505.7,432.2 517.6,433.0 529.6,418.9 541.7,424.3 547.8,443.1 560.2,444.5 572.1,424.9" fill="none" stroke="#111" stroke-width="1.6"/>
<circle cx="143.1" cy="439.2" r="3.95" fill="#fff" stroke="#111" stroke-width="1.5"/>
<circle cx="155.2" cy="454.1" r="3.95" fill="#fff" stroke="#111" stroke-width="1.5"/>
<circle cx="167.4" cy="434.5" r="3.95" fill="#fff" stroke="#111" stroke-width="1.5"/>
<circle cx="179.3" cy="428.2" r="3.95" fill="#fff" stroke="#111" stroke-width="1.5"/>
<circle cx="191.2" cy="448.9" r="3.95" fill="#fff" stroke="#111" stroke-width="1.5"/>
<circle cx="209.0" cy="432.0" r="3.95" fill="#fff" stroke="#111" stroke-width="1.5"/>
<circle cx="222.0" cy="415.6" r="3.95" fill="#fff" stroke="#111" stroke-width="1.5"/>
<circle cx="233.4" cy="452.0" r="3.95" fill="#fff" stroke="#111" stroke-width="1.5"/>
<circle cx="245.6" cy="446.7" r="3.95" fill="#fff" stroke="#111" stroke-width="1.5"/>
<circle cx="257.5" cy="445.2" r="3.95" fill="#fff" stroke="#111" stroke-width="1.5"/>
<circle cx="269.7" cy="425.0" r="3.95" fill="#fff" stroke="#111" stroke-width="1.5"/>
<circle cx="282.0" cy="433.0" r="3.95" fill="#fff" stroke="#111" stroke-width="1.5"/>
<circle cx="300.2" cy="443.1" r="3.95" fill="#fff" stroke="#111" stroke-width="1.5"/>
<circle cx="312.3" cy="455.2" r="3.95" fill="#fff" stroke="#111" stroke-width="1.5"/>
<circle cx="324.1" cy="428.9" r="3.95" fill="#fff" stroke="#111" stroke-width="1.5"/>
<circle cx="336.6" cy="420.8" r="3.95" fill="#fff" stroke="#111" stroke-width="1.5"/>
<circle cx="348.6" cy="459.6" r="3.95" fill="#fff" stroke="#111" stroke-width="1.5"/>
<circle cx="360.3" cy="432.4" r="3.95" fill="#fff" stroke="#111" stroke-width="1.5"/>
<circle cx="372.5" cy="447.1" r="3.95" fill="#fff" stroke="#111" stroke-width="1.5"/>
<circle cx="384.5" cy="435.0" r="3.95" fill="#fff" stroke="#111" stroke-width="1.5"/>
<circle cx="396.6" cy="444.0" r="3.95" fill="#fff" stroke="#111" stroke-width="1.5"/>
<circle cx="408.0" cy="408.2" r="3.95" fill="#fff" stroke="#111" stroke-width="1.5"/>
<circle cx="420.9" cy="418.6" r="3.95" fill="#fff" stroke="#111" stroke-width="1.5"/>
<circle cx="432.7" cy="420.4" r="3.95" fill="#fff" stroke="#111" stroke-width="1.5"/>
<circle cx="445.2" cy="417.7" r="3.95" fill="#fff" stroke="#111" stroke-width="1.5"/>
<circle cx="457.4" cy="418.1" r="3.95" fill="#fff" stroke="#111" stroke-width="1.5"/>
<circle cx="469.3" cy="408.6" r="3.95" fill="#fff" stroke="#111" stroke-width="1.5"/>
<circle cx="481.2" cy="437.6" r="3.95" fill="#fff" stroke="#111" stroke-width="1.5"/>
<circle cx="492.9" cy="435.6" r="3.95" fill="#fff" stroke="#111" stroke-width="1.5"/>
<circle cx="505.7" cy="432.2" r="3.95" fill="#fff" stroke="#111" stroke-width="1.5"/>
<circle cx="517.6" cy="433.0" r="3.95" fill="#fff" stroke="#111" stroke-width="1.5"/>
<circle cx="529.6" cy="418.9" r="3.95" fill="#fff" stroke="#111" stroke-width="1.5"/>
<circle cx="541.7" cy="424.3" r="3.95" fill="#fff" stroke="#111" stroke-width="1.5"/>
<circle cx="547.8" cy="443.1" r="3.95" fill="#fff" stroke="#111" stroke-width="1.5"/>
<circle cx="560.2" cy="444.5" r="3.95" fill="#fff" stroke="#111" stroke-width="1.5"/>
<circle cx="572.1" cy="424.9" r="3.95" fill="#fff" stroke="#111" stroke-width="1.5"/>
<line x1="193.30" y1="598.70" x2="193.30" y2="713.90" stroke="#111" stroke-width="2" />
<line x1="187.70" y1="599.66" x2="193.30" y2="599.66" stroke="#111" stroke-width="2" />
<line x1="187.70" y1="627.97" x2="193.30" y2="627.97" stroke="#111" stroke-width="2" />
<line x1="187.70" y1="656.28" x2="193.30" y2="656.28" stroke="#111" stroke-width="2" />
<line x1="187.70" y1="684.59" x2="193.30" y2="684.59" stroke="#111" stroke-width="2" />
<line x1="187.70" y1="712.90" x2="193.30" y2="712.90" stroke="#111" stroke-width="2" />
<line x1="192.30" y1="712.90" x2="532.00" y2="712.90" stroke="#111" stroke-width="2" />
<rect x="227.10" y="639.50" width="101.50" height="73.40" fill="#fff" stroke="#111" stroke-width="2" />
<line x1="277.70" y1="639.50" x2="277.70" y2="624.20" stroke="#111" stroke-width="1.6" />
<line x1="250.70" y1="624.20" x2="305.50" y2="624.20" stroke="#111" stroke-width="1.6" />
<rect x="396.6" y="710.3" width="102.6" height="3" fill="#111"/>
<line x1="448.50" y1="710.60" x2="448.50" y2="694.90" stroke="#111" stroke-width="1.6" />
<line x1="421.30" y1="694.90" x2="476.30" y2="694.90" stroke="#111" stroke-width="1.6" />
<circle cx="309.70" cy="599.80" r="1.25" fill="#111"/>
<circle cx="317.86" cy="599.80" r="1.25" fill="#111"/>
<circle cx="326.02" cy="599.80" r="1.25" fill="#111"/>
<circle cx="334.18" cy="599.80" r="1.25" fill="#111"/>
<circle cx="342.34" cy="599.80" r="1.25" fill="#111"/>
<circle cx="350.50" cy="599.80" r="1.25" fill="#111"/>
<circle cx="358.66" cy="599.80" r="1.25" fill="#111"/>
<circle cx="366.82" cy="599.80" r="1.25" fill="#111"/>
<circle cx="374.98" cy="599.80" r="1.25" fill="#111"/>
<circle cx="383.14" cy="599.80" r="1.25" fill="#111"/>
<circle cx="391.30" cy="599.80" r="1.25" fill="#111"/>
<circle cx="399.46" cy="599.80" r="1.25" fill="#111"/>
<circle cx="407.62" cy="599.80" r="1.25" fill="#111"/>
<circle cx="309.70" cy="605.30" r="1.25" fill="#111"/>
<circle cx="309.70" cy="613.40" r="1.25" fill="#111"/>
<circle cx="309.70" cy="621.50" r="1.25" fill="#111"/>
<circle cx="309.70" cy="629.60" r="1.25" fill="#111"/>
<circle cx="415.90" cy="605.80" r="1.25" fill="#111"/>
<circle cx="415.90" cy="613.95" r="1.25" fill="#111"/>
<circle cx="415.90" cy="622.10" r="1.25" fill="#111"/>
<circle cx="415.90" cy="630.25" r="1.25" fill="#111"/>
<circle cx="415.90" cy="638.40" r="1.25" fill="#111"/>
<circle cx="415.90" cy="646.55" r="1.25" fill="#111"/>
<circle cx="415.90" cy="654.70" r="1.25" fill="#111"/>
<circle cx="415.90" cy="662.85" r="1.25" fill="#111"/>
<circle cx="415.90" cy="671.00" r="1.25" fill="#111"/>
<circle cx="415.90" cy="679.15" r="1.25" fill="#111"/>
<circle cx="415.90" cy="687.30" r="1.25" fill="#111"/>
<circle cx="415.90" cy="695.45" r="1.25" fill="#111"/>
<circle cx="415.90" cy="703.60" r="1.25" fill="#111"/>
<line x1="192.00" y1="797.50" x2="192.00" y2="954.00" stroke="#111" stroke-width="2" />
<line x1="187.70" y1="798.85" x2="192.00" y2="798.85" stroke="#111" stroke-width="2" />
<line x1="187.70" y1="837.50" x2="192.00" y2="837.50" stroke="#111" stroke-width="2" />
<line x1="187.70" y1="876.15" x2="192.00" y2="876.15" stroke="#111" stroke-width="2" />
<line x1="187.70" y1="914.80" x2="192.00" y2="914.80" stroke="#111" stroke-width="2" />
<line x1="187.70" y1="953.45" x2="192.00" y2="953.45" stroke="#111" stroke-width="2" />
<line x1="191.00" y1="914.80" x2="531.70" y2="914.80" stroke="#111" stroke-width="2" />
<rect x="227.20" y="856.10" width="101.80" height="58.70" fill="#fff" stroke="#111" stroke-width="2" />
<line x1="278.00" y1="856.10" x2="278.00" y2="837.20" stroke="#111" stroke-width="1.6" />
<line x1="255.00" y1="837.20" x2="302.00" y2="837.20" stroke="#111" stroke-width="1.6" />
<rect x="395.80" y="914.80" width="104.00" height="2.90" fill="#777" stroke="#111" stroke-width="1.4" />
<line x1="448.70" y1="917.70" x2="448.70" y2="920.20" stroke="#111" stroke-width="1.4" />
<line x1="425.40" y1="920.20" x2="471.50" y2="920.20" stroke="#111" stroke-width="1.6" />
<circle cx="319.20" cy="832.50" r="1.25" fill="#111"/>
<circle cx="327.48" cy="832.50" r="1.25" fill="#111"/>
<circle cx="335.76" cy="832.50" r="1.25" fill="#111"/>
<circle cx="344.04" cy="832.50" r="1.25" fill="#111"/>
<circle cx="352.32" cy="832.50" r="1.25" fill="#111"/>
<circle cx="360.60" cy="832.50" r="1.25" fill="#111"/>
<circle cx="368.88" cy="832.50" r="1.25" fill="#111"/>
<circle cx="377.16" cy="832.50" r="1.25" fill="#111"/>
<circle cx="385.44" cy="832.50" r="1.25" fill="#111"/>
<circle cx="393.72" cy="832.50" r="1.25" fill="#111"/>
<circle cx="402.00" cy="832.50" r="1.25" fill="#111"/>
<circle cx="410.28" cy="832.50" r="1.25" fill="#111"/>
<circle cx="311.10" cy="829.10" r="1.25" fill="#111"/>
<circle cx="311.10" cy="837.50" r="1.25" fill="#111"/>
<circle cx="311.10" cy="845.90" r="1.25" fill="#111"/>
<circle cx="412.30" cy="839.80" r="1.25" fill="#111"/>
<circle cx="412.30" cy="847.90" r="1.25" fill="#111"/>
<circle cx="412.30" cy="856.00" r="1.25" fill="#111"/>
<circle cx="412.30" cy="864.10" r="1.25" fill="#111"/>
<circle cx="412.30" cy="872.20" r="1.25" fill="#111"/>
<circle cx="412.30" cy="880.30" r="1.25" fill="#111"/>
<circle cx="412.30" cy="888.40" r="1.25" fill="#111"/>
<circle cx="412.30" cy="896.50" r="1.25" fill="#111"/>
<circle cx="412.30" cy="904.60" r="1.25" fill="#111"/>
<circle cx="412.30" cy="912.70" r="1.25" fill="#111"/>
<text transform="translate(11.75,32.73) scale(0.922,1)" font-size="24.00" font-weight="bold" fill="#111" stroke="#111" stroke-width="0.35" stroke-linejoin="round">a</text>
<text transform="translate(40.75,33.51) scale(0.947,1)" font-size="18.49" fill="#111" stroke="#111" stroke-width="0.75" stroke-linejoin="round">a</text>
<text transform="translate(52.31,37.80) scale(0.718,1)" font-size="15.36" fill="#111" stroke="#111" stroke-width="0.8" stroke-linejoin="round">1</text>
<text x="151.50" y="33.30" font-size="18.03" fill="#111" stroke="#111" stroke-width="0.3">ACSF</text>
<text x="389.15" y="33.00" font-size="18.22" fill="#111" stroke="#111" stroke-width="0.3">+10 μM SKF 83566</text>
<text x="280.95" y="64.40" font-size="18.19" fill="#111" stroke="#111" stroke-width="0.3">Control</text>
<text x="281.52" y="120.00" font-size="18.13" fill="#111" stroke="#111" stroke-width="0.3">40 mM</text>
<text x="286.24" y="139.80" font-size="18.69" fill="#111" stroke="#111" stroke-width="0.3">EtOH</text>
<text x="291.00" y="190.30" font-size="18.47" fill="#111" stroke="#111" stroke-width="0.3">Wash</text>
<text x="256.09" y="253.60" font-size="19.35" fill="#111" stroke="#111" stroke-width="0.3">2 s</text>
<text transform="translate(333.70,259.49) rotate(-90)" font-size="18.75" fill="#111" stroke="#111" stroke-width="0.3">30 pA</text>
<text transform="translate(40.56,309.61) scale(0.935,1)" font-size="18.31" fill="#111" stroke="#111" stroke-width="0.75" stroke-linejoin="round">a</text>
<text transform="translate(50.76,314.60) scale(1.235,1)" font-size="14.51" fill="#111" stroke="#111" stroke-width="0.75" stroke-linejoin="round">2</text>
<text x="212.68" y="310.60" font-size="20.22" fill="#111" stroke="#111" stroke-width="0.3">40 mM EtOH</text>
<text x="445.70" y="325.20" font-size="18.71" fill="#111" stroke="#111" stroke-width="0.3">ACSF</text>
<text x="444.80" y="351.50" font-size="19.13" fill="#111" stroke="#111" stroke-width="0.3">+SKF 83566</text>
<text x="91.86" y="385.50" font-size="18.28" fill="#111" stroke="#111" stroke-width="0.3">150</text>
<text x="91.86" y="439.60" font-size="18.28" fill="#111" stroke="#111" stroke-width="0.3">100</text>
<text x="102.85" y="494.20" font-size="17.52" fill="#111" stroke="#111" stroke-width="0.3">50</text>
<text x="135.04" y="518.30" font-size="18.00" fill="#111" stroke="#111" stroke-width="0.3">0</text>
<text x="207.44" y="518.30" font-size="18.00" fill="#111" stroke="#111" stroke-width="0.3">2</text>
<text x="279.98" y="518.30" font-size="18.00" fill="#111" stroke="#111" stroke-width="0.3">4</text>
<text x="352.24" y="518.30" font-size="18.00" fill="#111" stroke="#111" stroke-width="0.3">6</text>
<text x="424.78" y="518.30" font-size="18.00" fill="#111" stroke="#111" stroke-width="0.3">8</text>
<text x="491.75" y="518.30" font-size="18.00" fill="#111" stroke="#111" stroke-width="0.3">10</text>
<text x="564.29" y="518.30" font-size="18.00" fill="#111" stroke="#111" stroke-width="0.3">12</text>
<text x="310.77" y="545.60" font-size="20.80" fill="#111" stroke="#111" stroke-width="0.3">Time (min)</text>
<text transform="translate(57.30,492.61) rotate(-90)" font-size="19.72" fill="#111" stroke="#111" stroke-width="0.3">sEPSC frequency</text>
<text transform="translate(76.90,484.45) rotate(-90)" font-size="20.32" fill="#111" stroke="#111" stroke-width="0.3">(% of baseline)</text>
<text transform="translate(54.78,593.43) scale(0.941,1)" font-size="17.60" fill="#111" stroke="#111" stroke-width="0.75" stroke-linejoin="round">a</text>
<text transform="translate(65.94,598.47) scale(0.994,1)" font-size="14.75" fill="#111" stroke="#111" stroke-width="0.75" stroke-linejoin="round">3</text>
<text x="157.51" y="606.66" font-size="17.00" fill="#111" stroke="#111" stroke-width="0.3">80</text>
<text x="157.51" y="634.97" font-size="17.00" fill="#111" stroke="#111" stroke-width="0.3">60</text>
<text x="157.51" y="663.28" font-size="17.00" fill="#111" stroke="#111" stroke-width="0.3">40</text>
<text x="157.51" y="691.59" font-size="17.00" fill="#111" stroke="#111" stroke-width="0.3">20</text>
<text x="166.97" y="719.90" font-size="17.00" fill="#111" stroke="#111" stroke-width="0.3">0</text>
<text transform="translate(256.79,623.59) scale(1.102,1)" font-size="23.73" fill="#111" stroke="#111" stroke-width="0.4" stroke-linejoin="round">*</text>
<text transform="translate(269.40,623.59) scale(1.079,1)" font-size="23.73" fill="#111" stroke="#111" stroke-width="0.4" stroke-linejoin="round">*</text>
<text transform="translate(356.88,597.81) scale(1.065,1)" font-size="25.33" fill="#111" stroke="#111" stroke-width="0.4" stroke-linejoin="round">*</text>
<text transform="translate(369.57,597.81) scale(1.076,1)" font-size="25.33" fill="#111" stroke="#111" stroke-width="0.4" stroke-linejoin="round">*</text>
<text x="346.86" y="620.60" font-size="18.20" fill="#111" stroke="#111" stroke-width="0.3">n = 5</text>
<text x="254.24" y="741.70" font-size="17.42" fill="#111" stroke="#111" stroke-width="0.3">EtOH</text>
<text x="407.77" y="741.90" font-size="16.85" fill="#111" stroke="#111" stroke-width="0.3">SKF83566</text>
<text x="423.61" y="762.60" font-size="16.83" fill="#111" stroke="#111" stroke-width="0.3">+EtOH</text>
<text transform="translate(104.80,738.11) rotate(-90)" font-size="19.65" fill="#111" stroke="#111" stroke-width="0.3">sEPSC frequency</text>
<text transform="translate(123.90,713.56) rotate(-90)" font-size="16.07" fill="#111" stroke="#111" stroke-width="0.3">EtOH-induced</text>
<text transform="translate(140.80,699.60) rotate(-90)" font-size="16.12" fill="#111" stroke="#111" stroke-width="0.3">change(%)</text>
<text transform="translate(10.38,809.65) scale(1.070,1)" font-size="22.67" font-weight="bold" fill="#111" stroke="#111" stroke-width="0.35" stroke-linejoin="round">b</text>
<text x="147.46" y="805.85" font-size="17.00" fill="#111" stroke="#111" stroke-width="0.3">300</text>
<text x="147.46" y="844.50" font-size="17.00" fill="#111" stroke="#111" stroke-width="0.3">200</text>
<text x="147.46" y="883.15" font-size="17.00" fill="#111" stroke="#111" stroke-width="0.3">100</text>
<text x="166.37" y="921.80" font-size="17.00" fill="#111" stroke="#111" stroke-width="0.3">0</text>
<text x="141.80" y="960.45" font-size="17.00" fill="#111" stroke="#111" stroke-width="0.3">-100</text>
<text transform="translate(253.80,831.88) scale(1.078,1)" font-size="24.00" fill="#111" stroke="#111" stroke-width="0.4" stroke-linejoin="round">*</text>
<text transform="translate(266.20,831.88) scale(1.067,1)" font-size="24.00" fill="#111" stroke="#111" stroke-width="0.4" stroke-linejoin="round">*</text>
<text transform="translate(350.90,821.25) scale(1.043,1)" font-size="24.53" fill="#111" stroke="#111" stroke-width="0.4" stroke-linejoin="round">*</text>
<text transform="translate(362.90,821.25) scale(1.043,1)" font-size="24.53" fill="#111" stroke="#111" stroke-width="0.4" stroke-linejoin="round">*</text>
<text x="264.26" y="900.00" font-size="17.89" fill="#111" stroke="#111" stroke-width="0.3">(6)</text>
<text x="436.76" y="898.20" font-size="17.98" fill="#111" stroke="#111" stroke-width="0.3">(3)</text>
<text x="255.54" y="946.50" font-size="17.37" fill="#111" stroke="#111" stroke-width="0.3">EtOH</text>
<text x="409.07" y="947.40" font-size="16.89" fill="#111" stroke="#111" stroke-width="0.3">SKF83566</text>
<text x="423.98" y="964.60" font-size="17.45" fill="#111" stroke="#111" stroke-width="0.3">+EtOH</text>
<text transform="translate(78.50,930.03) rotate(-90)" font-size="19.69" fill="#111" stroke="#111" stroke-width="0.3">[Glutamate]</text>
<text transform="translate(84.40,826.22) rotate(-90)" font-size="13.50" fill="#111" stroke="#111" stroke-width="0.3">o</text>
<text transform="translate(103.60,929.24) rotate(-90)" font-size="15.91" fill="#111" stroke="#111" stroke-width="0.3">EtOH-induced</text>
<text transform="translate(122.50,927.00) rotate(-90)" font-size="15.98" fill="#111" stroke="#111" stroke-width="0.3">change (%)</text>
</g>
</svg></body></html>
